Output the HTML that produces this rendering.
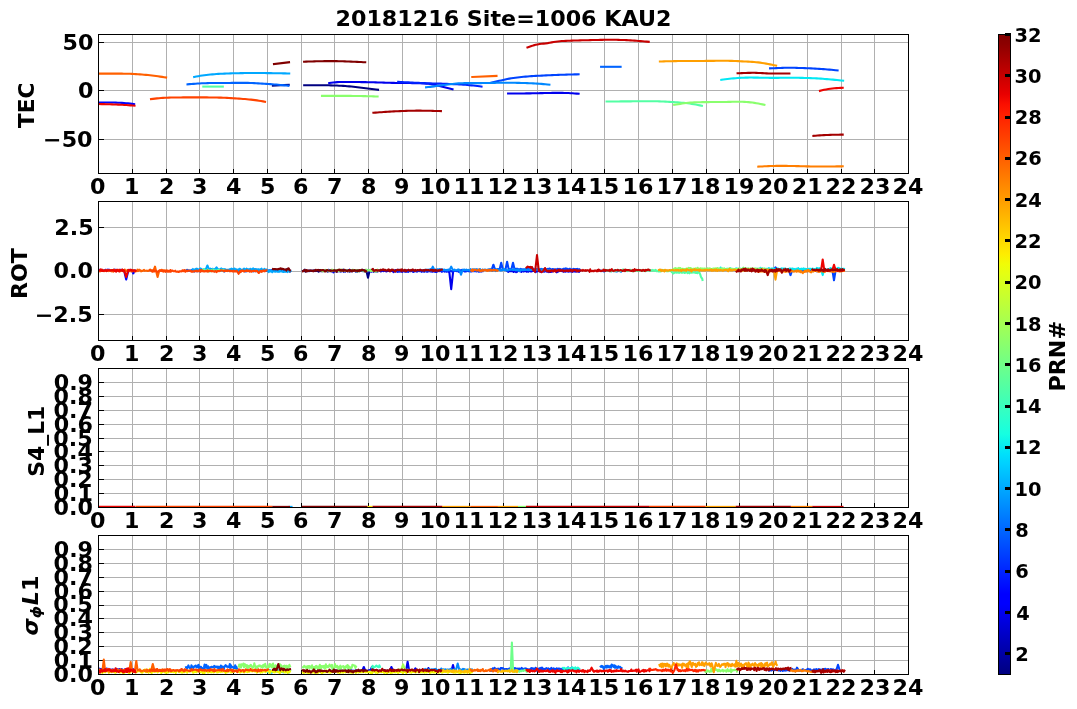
<!DOCTYPE html><html><head><meta charset="utf-8"><title>20181216 Site=1006 KAU2</title><style>html,body{margin:0;padding:0;background:#fff;overflow:hidden}</style></head><body><svg width="1077" height="709" viewBox="0 0 1077 709" style="display:block">
<defs>
<clipPath id="c0"><rect x="98" y="34" width="810" height="139"/></clipPath>
<clipPath id="c1"><rect x="98" y="201" width="810" height="139"/></clipPath>
<clipPath id="c2"><rect x="98" y="368" width="810" height="139"/></clipPath>
<clipPath id="c3"><rect x="98" y="535" width="810" height="139"/></clipPath>
<linearGradient id="jg" x1="0" y1="0" x2="0" y2="1"><stop offset="0.0000" stop-color="#800000"/><stop offset="0.0156" stop-color="#8d0000"/><stop offset="0.0312" stop-color="#9f0000"/><stop offset="0.0469" stop-color="#b20000"/><stop offset="0.0625" stop-color="#c40000"/><stop offset="0.0781" stop-color="#d60000"/><stop offset="0.0938" stop-color="#e80000"/><stop offset="0.1094" stop-color="#fa0f00"/><stop offset="0.1250" stop-color="#ff1e00"/><stop offset="0.1406" stop-color="#ff2d00"/><stop offset="0.1562" stop-color="#ff3b00"/><stop offset="0.1719" stop-color="#ff4a00"/><stop offset="0.1875" stop-color="#ff5900"/><stop offset="0.2031" stop-color="#ff6800"/><stop offset="0.2188" stop-color="#ff7700"/><stop offset="0.2344" stop-color="#ff8600"/><stop offset="0.2500" stop-color="#ff9400"/><stop offset="0.2656" stop-color="#ffa300"/><stop offset="0.2812" stop-color="#ffb200"/><stop offset="0.2969" stop-color="#ffc100"/><stop offset="0.3125" stop-color="#ffd000"/><stop offset="0.3281" stop-color="#ffde00"/><stop offset="0.3438" stop-color="#feed00"/><stop offset="0.3594" stop-color="#f1fc06"/><stop offset="0.3750" stop-color="#e4ff13"/><stop offset="0.3906" stop-color="#d7ff1f"/><stop offset="0.4062" stop-color="#caff2c"/><stop offset="0.4219" stop-color="#beff39"/><stop offset="0.4375" stop-color="#b1ff46"/><stop offset="0.4531" stop-color="#a4ff53"/><stop offset="0.4688" stop-color="#97ff60"/><stop offset="0.4844" stop-color="#8aff6d"/><stop offset="0.5000" stop-color="#7dff7a"/><stop offset="0.5156" stop-color="#70ff87"/><stop offset="0.5312" stop-color="#63ff94"/><stop offset="0.5469" stop-color="#56ffa0"/><stop offset="0.5625" stop-color="#49ffad"/><stop offset="0.5781" stop-color="#3cffba"/><stop offset="0.5938" stop-color="#30ffc7"/><stop offset="0.6094" stop-color="#23ffd4"/><stop offset="0.6250" stop-color="#16ffe1"/><stop offset="0.6406" stop-color="#09f0ee"/><stop offset="0.6562" stop-color="#00e0fb"/><stop offset="0.6719" stop-color="#00d0ff"/><stop offset="0.6875" stop-color="#00c0ff"/><stop offset="0.7031" stop-color="#00b0ff"/><stop offset="0.7188" stop-color="#00a0ff"/><stop offset="0.7344" stop-color="#0090ff"/><stop offset="0.7500" stop-color="#0080ff"/><stop offset="0.7656" stop-color="#0070ff"/><stop offset="0.7812" stop-color="#0060ff"/><stop offset="0.7969" stop-color="#0050ff"/><stop offset="0.8125" stop-color="#0040ff"/><stop offset="0.8281" stop-color="#0030ff"/><stop offset="0.8438" stop-color="#0020ff"/><stop offset="0.8594" stop-color="#0010ff"/><stop offset="0.8750" stop-color="#0000ff"/><stop offset="0.8906" stop-color="#0000ff"/><stop offset="0.9062" stop-color="#0000ed"/><stop offset="0.9219" stop-color="#0000da"/><stop offset="0.9375" stop-color="#0000c8"/><stop offset="0.9531" stop-color="#0000b6"/><stop offset="0.9688" stop-color="#0000a4"/><stop offset="0.9844" stop-color="#000092"/><stop offset="1.0000" stop-color="#000080"/></linearGradient>
</defs>
<rect width="1077" height="709" fill="#fff"/>
<path d="M132.5 34V174M166.5 34V174M199.5 34V174M233.5 34V174M267.5 34V174M301.5 34V174M334.5 34V174M368.5 34V174M402.5 34V174M436.5 34V174M469.5 34V174M503.5 34V174M537.5 34V174M571.5 34V174M604.5 34V174M638.5 34V174M672.5 34V174M706.5 34V174M739.5 34V174M773.5 34V174M807.5 34V174M841.5 34V174M874.5 34V174M98 139.5H909M98 90.5H909M98 42.5H909M132.5 201V341M166.5 201V341M199.5 201V341M233.5 201V341M267.5 201V341M301.5 201V341M334.5 201V341M368.5 201V341M402.5 201V341M436.5 201V341M469.5 201V341M503.5 201V341M537.5 201V341M571.5 201V341M604.5 201V341M638.5 201V341M672.5 201V341M706.5 201V341M739.5 201V341M773.5 201V341M807.5 201V341M841.5 201V341M874.5 201V341M98 314.5H909M98 271.5H909M98 227.5H909M132.5 368V508M166.5 368V508M199.5 368V508M233.5 368V508M267.5 368V508M301.5 368V508M334.5 368V508M368.5 368V508M402.5 368V508M436.5 368V508M469.5 368V508M503.5 368V508M537.5 368V508M571.5 368V508M604.5 368V508M638.5 368V508M672.5 368V508M706.5 368V508M739.5 368V508M773.5 368V508M807.5 368V508M841.5 368V508M874.5 368V508M98 507.5H909M98 493.5H909M98 479.5H909M98 465.5H909M98 451.5H909M98 438.5H909M98 424.5H909M98 410.5H909M98 396.5H909M98 382.5H909M132.5 535V675M166.5 535V675M199.5 535V675M233.5 535V675M267.5 535V675M301.5 535V675M334.5 535V675M368.5 535V675M402.5 535V675M436.5 535V675M469.5 535V675M503.5 535V675M537.5 535V675M571.5 535V675M604.5 535V675M638.5 535V675M672.5 535V675M706.5 535V675M739.5 535V675M773.5 535V675M807.5 535V675M841.5 535V675M874.5 535V675M98 674.5H909M98 660.5H909M98 646.5H909M98 632.5H909M98 618.5H909M98 605.5H909M98 591.5H909M98 577.5H909M98 563.5H909M98 549.5H909" stroke="#b0b0b0" stroke-width="1" fill="none" shape-rendering="crispEdges"/>
<path d="M132.5 173V169M166.5 173V169M199.5 173V169M233.5 173V169M267.5 173V169M301.5 173V169M334.5 173V169M368.5 173V169M402.5 173V169M436.5 173V169M469.5 173V169M503.5 173V169M537.5 173V169M571.5 173V169M604.5 173V169M638.5 173V169M672.5 173V169M706.5 173V169M739.5 173V169M773.5 173V169M807.5 173V169M841.5 173V169M874.5 173V169M98 139.5H104M98 90.5H104M98 42.5H104M132.5 340V336M166.5 340V336M199.5 340V336M233.5 340V336M267.5 340V336M301.5 340V336M334.5 340V336M368.5 340V336M402.5 340V336M436.5 340V336M469.5 340V336M503.5 340V336M537.5 340V336M571.5 340V336M604.5 340V336M638.5 340V336M672.5 340V336M706.5 340V336M739.5 340V336M773.5 340V336M807.5 340V336M841.5 340V336M874.5 340V336M98 314.5H104M98 271.5H104M98 227.5H104M132.5 507V503M166.5 507V503M199.5 507V503M233.5 507V503M267.5 507V503M301.5 507V503M334.5 507V503M368.5 507V503M402.5 507V503M436.5 507V503M469.5 507V503M503.5 507V503M537.5 507V503M571.5 507V503M604.5 507V503M638.5 507V503M672.5 507V503M706.5 507V503M739.5 507V503M773.5 507V503M807.5 507V503M841.5 507V503M874.5 507V503M98 507.5H104M98 493.5H104M98 479.5H104M98 465.5H104M98 451.5H104M98 438.5H104M98 424.5H104M98 410.5H104M98 396.5H104M98 382.5H104M132.5 674V670M166.5 674V670M199.5 674V670M233.5 674V670M267.5 674V670M301.5 674V670M334.5 674V670M368.5 674V670M402.5 674V670M436.5 674V670M469.5 674V670M503.5 674V670M537.5 674V670M571.5 674V670M604.5 674V670M638.5 674V670M672.5 674V670M706.5 674V670M739.5 674V670M773.5 674V670M807.5 674V670M841.5 674V670M874.5 674V670M98 674.5H104M98 660.5H104M98 646.5H104M98 632.5H104M98 618.5H104M98 605.5H104M98 591.5H104M98 577.5H104M98 563.5H104M98 549.5H104" stroke="#000" stroke-width="1" fill="none" shape-rendering="crispEdges"/>
<g clip-path="url(#c0)" fill="none" stroke-width="2.0833" stroke-linecap="square" stroke-linejoin="round">
<path d="M272.9 85.55 288.7 84.75" stroke="#000080"/>
<path d="M304.2 85.21 306.25 85.2 308.3 85.19 310.35 85.18 312.4 85.18 314.45 85.18 316.5 85.18 318.55 85.19 320.6 85.2 322.65 85.22 324.7 85.24 326.75 85.28 328.8 85.32 330.85 85.37 332.9 85.42 334.95 85.49 337 85.57 339.05 85.67 341.1 85.77 343.15 85.9 345.2 86.03 347.25 86.19 349.3 86.36 351.35 86.55 353.41 86.75 355.46 86.97 357.51 87.2 359.56 87.45 361.61 87.7 363.66 87.96 365.71 88.23 367.76 88.5 369.81 88.76 371.86 89.02 373.91 89.28 375.96 89.53 378.01 89.78" stroke="#000080"/>
<path d="M329.19 83.08 331.22 82.81 333.24 82.56 335.26 82.34 337.28 82.16 339.3 82.05 341.32 81.97 343.35 81.94 345.37 81.94 347.39 81.96 349.41 81.98 351.43 82.01 353.46 82.03 355.48 82.05 357.5 82.06 359.52 82.08 361.54 82.1 363.57 82.12 365.59 82.14 367.61 82.17 369.63 82.21 371.65 82.25 373.68 82.31 375.7 82.36 377.72 82.43 379.74 82.49 381.76 82.56 383.79 82.62 385.81 82.68 387.83 82.74 389.85 82.8 391.87 82.84 393.9 82.88 395.92 82.92 397.94 82.95 399.96 82.97 401.98 83 404 83.02 406.03 83.04 408.05 83.06 410.07 83.08 412.09 83.1 414.11 83.12 416.14 83.15 418.16 83.2 420.18 83.26 422.2 83.35 424.22 83.47 426.25 83.63 428.27 83.83 430.29 84.08 432.31 84.38 434.33 84.75 436.36 85.17 438.38 85.65 440.4 86.17 442.42 86.71 444.44 87.26 446.47 87.8 448.49 88.33 450.51 88.84 452.53 89.35" stroke="#0000ed"/>
<path d="M508.1 93.49 510.11 93.49 512.13 93.49 514.14 93.48 516.16 93.47 518.17 93.47 520.19 93.45 522.2 93.44 524.21 93.42 526.23 93.4 528.24 93.37 530.26 93.34 532.27 93.3 534.29 93.26 536.3 93.22 538.32 93.18 540.33 93.13 542.34 93.09 544.36 93.04 546.37 93 548.39 92.96 550.4 92.92 552.42 92.88 554.43 92.86 556.44 92.84 558.46 92.84 560.47 92.85 562.49 92.88 564.5 92.93 566.52 92.99 568.53 93.08 570.54 93.19 572.56 93.31 574.57 93.45 576.59 93.59 578.6 93.74" stroke="#0000ed"/>
<path d="M99.7 102.5 101.72 102.49 103.75 102.48 105.77 102.48 107.8 102.48 109.82 102.5 111.84 102.53 113.87 102.57 115.89 102.63 117.92 102.7 119.94 102.8 121.96 102.91 123.99 103.05 126.01 103.22 128.03 103.4 130.06 103.62 132.08 103.85 134.11 104.09" stroke="#0004ff"/>
<path d="M398.2 81.85 400.23 81.96 402.26 82.07 404.29 82.18 406.33 82.29 408.36 82.4 410.39 82.51 412.42 82.61 414.45 82.71 416.49 82.8 418.52 82.9 420.55 82.98 422.58 83.07 424.61 83.15 426.65 83.22 428.68 83.29 430.71 83.35 432.74 83.42 434.77 83.48 436.81 83.54 438.84 83.6 440.87 83.66 442.9 83.73 444.93 83.8 446.96 83.87 449 83.94 451.03 84.03 453.06 84.11 455.09 84.21 457.12 84.31 459.16 84.42 461.19 84.55 463.22 84.68 465.25 84.83 467.28 84.99 469.32 85.17 471.35 85.36 473.38 85.58 475.41 85.81 477.44 86.06 479.48 86.31 481.51 86.58" stroke="#0024ff"/>
<path d="M490.96 82.73 493 82.16 495.04 81.66 497.08 81.24 499.12 80.85 501.15 80.45 503.19 80.01 505.23 79.54 507.27 79.07 509.31 78.64 511.34 78.26 513.38 77.95 515.42 77.69 517.46 77.45 519.5 77.22 521.53 77.01 523.57 76.81 525.61 76.62 527.65 76.46 529.69 76.3 531.72 76.16 533.76 76.03 535.8 75.91 537.84 75.8 539.88 75.7 541.92 75.6 543.95 75.51 545.99 75.41 548.03 75.32 550.07 75.23 552.11 75.14 554.14 75.06 556.18 74.97 558.22 74.89 560.26 74.81 562.3 74.74 564.33 74.67 566.37 74.61 568.41 74.55 570.45 74.5 572.49 74.45 574.52 74.41 576.56 74.36 578.6 74.32" stroke="#0044ff"/>
<path d="M770.1 68.36 772.14 68.27 774.19 68.18 776.24 68.09 778.28 68 780.33 67.93 782.37 67.87 784.42 67.82 786.46 67.79 788.51 67.78 790.56 67.78 792.6 67.8 794.65 67.83 796.69 67.87 798.74 67.93 800.78 67.99 802.83 68.06 804.87 68.14 806.92 68.23 808.97 68.32 811.01 68.41 813.06 68.51 815.1 68.62 817.15 68.73 819.19 68.86 821.24 68.99 823.29 69.14 825.33 69.29 827.38 69.46 829.42 69.63 831.47 69.82 833.51 70.01 835.56 70.21 837.6 70.41" stroke="#0044ff"/>
<path d="M187.5 84.33 189.52 84.16 191.53 84 193.55 83.85 195.57 83.7 197.59 83.56 199.61 83.44 201.62 83.33 203.64 83.24 205.66 83.17 207.68 83.1 209.7 83.05 211.72 83.01 213.73 82.98 215.75 82.96 217.77 82.95 219.79 82.94 221.81 82.93 223.82 82.93 225.84 82.92 227.86 82.92 229.88 82.92 231.9 82.91 233.92 82.89 235.93 82.88 237.95 82.86 239.97 82.85 241.99 82.84 244.01 82.84 246.02 82.86 248.04 82.89 250.06 82.95 252.08 83.02 254.1 83.11 256.11 83.22 258.13 83.34 260.15 83.46 262.17 83.59 264.19 83.73 266.21 83.87 268.22 84 270.24 84.14 272.26 84.28 274.28 84.42 276.3 84.58 278.31 84.75 280.33 84.93 282.35 85.13 284.37 85.35 286.39 85.57 288.41 85.79" stroke="#0064ff"/>
<path d="M601.1 66.8 620.6 66.8" stroke="#0064ff"/>
<path d="M426.09 87.28 428.11 87.06 430.14 86.84 432.16 86.6 434.18 86.35 436.2 86.09 438.22 85.81 440.24 85.53 442.27 85.24 444.29 84.96 446.31 84.68 448.33 84.41 450.35 84.15 452.37 83.92 454.39 83.71 456.42 83.54 458.44 83.4 460.46 83.29 462.48 83.21 464.5 83.15 466.52 83.12 468.54 83.1 470.57 83.1 472.59 83.1 474.61 83.1 476.63 83.1 478.65 83.1 480.67 83.09 482.7 83.07 484.72 83.04 486.74 83 488.76 82.96 490.78 82.92 492.8 82.88 494.82 82.84 496.85 82.8 498.87 82.76 500.89 82.73 502.91 82.71 504.93 82.7 506.95 82.7 508.97 82.71 511 82.73 513.02 82.76 515.04 82.8 517.06 82.84 519.08 82.89 521.1 82.95 523.13 83.01 525.15 83.08 527.17 83.14 529.19 83.21 531.21 83.29 533.23 83.38 535.25 83.49 537.28 83.61 539.3 83.75 541.32 83.91 543.34 84.09 545.36 84.29 547.38 84.49 549.4 84.7" stroke="#0088ff"/>
<path d="M194.18 76.92 196.21 76.53 198.23 76.16 200.25 75.81 202.27 75.49 204.29 75.21 206.31 74.95 208.34 74.73 210.36 74.53 212.38 74.35 214.4 74.19 216.42 74.04 218.44 73.91 220.46 73.8 222.49 73.69 224.51 73.6 226.53 73.51 228.55 73.44 230.57 73.37 232.59 73.31 234.62 73.26 236.64 73.21 238.66 73.17 240.68 73.13 242.7 73.1 244.72 73.08 246.75 73.06 248.77 73.04 250.79 73.03 252.81 73.03 254.83 73.03 256.85 73.03 258.88 73.04 260.9 73.05 262.92 73.06 264.94 73.08 266.96 73.1 268.98 73.13 271.01 73.15 273.03 73.18 275.05 73.22 277.07 73.25 279.09 73.29 281.11 73.32 283.14 73.36 285.16 73.4 287.18 73.44 289.2 73.48" stroke="#00a8ff"/>
<path d="M721.29 79.79 723.32 79.53 725.35 79.27 727.38 79.02 729.41 78.78 731.44 78.56 733.47 78.35 735.51 78.17 737.54 78 739.57 77.87 741.6 77.77 743.63 77.69 745.66 77.63 747.69 77.59 749.72 77.57 751.75 77.57 753.78 77.59 755.81 77.61 757.84 77.65 759.87 77.69 761.9 77.73 763.93 77.78 765.96 77.81 767.99 77.83 770.02 77.85 772.05 77.85 774.08 77.85 776.11 77.85 778.14 77.84 780.17 77.83 782.2 77.82 784.23 77.81 786.26 77.8 788.29 77.79 790.32 77.79 792.35 77.79 794.38 77.8 796.41 77.81 798.44 77.83 800.47 77.86 802.5 77.9 804.53 77.94 806.56 77.99 808.59 78.05 810.62 78.13 812.65 78.21 814.68 78.3 816.71 78.41 818.74 78.53 820.77 78.66 822.8 78.81 824.83 78.96 826.86 79.12 828.89 79.29 830.92 79.47 832.95 79.65 834.98 79.84 837.01 80.03 839.04 80.22 841.07 80.42 843.1 80.62" stroke="#02e8f4"/>
<path d="M203.3 86.6 222.8 86.6" stroke="#53ffa4"/>
<path d="M606.6 101.49 608.63 101.48 610.66 101.47 612.68 101.46 614.71 101.45 616.74 101.44 618.77 101.43 620.8 101.41 622.82 101.4 624.85 101.39 626.88 101.37 628.91 101.36 630.94 101.34 632.96 101.32 634.99 101.3 637.02 101.28 639.05 101.26 641.08 101.25 643.11 101.23 645.13 101.22 647.16 101.22 649.19 101.22 651.22 101.23 653.25 101.25 655.27 101.29 657.3 101.33 659.33 101.39 661.36 101.47 663.39 101.55 665.41 101.65 667.44 101.75 669.47 101.86 671.5 101.99 673.53 102.11 675.55 102.25 677.58 102.39 679.61 102.54 681.64 102.7 683.67 102.88 685.69 103.07 687.72 103.3 689.75 103.56 691.78 103.85 693.81 104.19 695.83 104.56 697.86 104.96 699.89 105.38 701.92 105.81" stroke="#53ffa4"/>
<path d="M322 95.9 324.06 95.89 326.12 95.88 328.18 95.87 330.24 95.86 332.3 95.85 334.36 95.84 336.41 95.84 338.47 95.84 340.53 95.84 342.59 95.84 344.65 95.85 346.71 95.86 348.77 95.88 350.83 95.9 352.89 95.93 354.95 95.96 357.01 95.99 359.07 96.03 361.13 96.07 363.19 96.12 365.24 96.16 367.3 96.21 369.36 96.26 371.42 96.32 373.48 96.37 375.54 96.42 377.6 96.48" stroke="#8aff6d"/>
<path d="M674.19 104.85 676.19 104.51 678.2 104.18 680.2 103.86 682.21 103.55 684.21 103.28 686.22 103.03 688.22 102.82 690.23 102.65 692.23 102.51 694.24 102.39 696.25 102.3 698.25 102.24 700.26 102.19 702.26 102.15 704.27 102.12 706.27 102.11 708.28 102.09 710.28 102.08 712.29 102.06 714.29 102.05 716.3 102.04 718.3 102.02 720.31 102 722.31 101.98 724.32 101.95 726.32 101.92 728.33 101.88 730.33 101.84 732.34 101.8 734.34 101.76 736.35 101.74 738.35 101.73 740.36 101.74 742.36 101.79 744.37 101.87 746.37 101.98 748.38 102.14 750.38 102.34 752.39 102.59 754.39 102.87 756.4 103.2 758.4 103.57 760.41 103.97 762.41 104.38 764.42 104.81" stroke="#8aff6d"/>
<path d="M659.9 61.48 661.9 61.42 663.91 61.37 665.91 61.32 667.91 61.27 669.92 61.22 671.92 61.18 673.93 61.14 675.93 61.11 677.93 61.08 679.94 61.05 681.94 61.03 683.94 61.01 685.95 61 687.95 60.99 689.96 60.98 691.96 60.97 693.96 60.96 695.97 60.95 697.97 60.95 699.97 60.94 701.98 60.93 703.98 60.92 705.99 60.91 707.99 60.89 709.99 60.87 712 60.86 714 60.84 716 60.82 718.01 60.81 720.01 60.8 722.01 60.79 724.02 60.79 726.02 60.81 728.03 60.83 730.03 60.86 732.03 60.9 734.04 60.96 736.04 61.03 738.04 61.12 740.05 61.22 742.05 61.34 744.06 61.45 746.06 61.55 748.06 61.65 750.07 61.76 752.07 61.87 754.07 62.01 756.08 62.18 758.08 62.39 760.09 62.64 762.09 62.93 764.09 63.25 766.1 63.6 768.1 63.98 770.1 64.37 772.11 64.78 774.11 65.2 776.12 65.63" stroke="#ff9f00"/>
<path d="M758.3 166.66 760.31 166.55 762.32 166.44 764.33 166.33 766.34 166.23 768.35 166.14 770.36 166.06 772.37 165.99 774.38 165.93 776.38 165.89 778.39 165.86 780.4 165.85 782.41 165.86 784.42 165.87 786.43 165.9 788.44 165.93 790.45 165.97 792.46 166.01 794.47 166.06 796.48 166.11 798.49 166.16 800.5 166.21 802.51 166.26 804.52 166.3 806.53 166.35 808.54 166.39 810.55 166.42 812.56 166.46 814.57 166.48 816.58 166.5 818.59 166.51 820.6 166.52 822.6 166.52 824.61 166.51 826.62 166.5 828.63 166.49 830.64 166.47 832.65 166.45 834.66 166.42 836.67 166.4 838.68 166.37 840.69 166.34 842.7 166.31" stroke="#ff7e00"/>
<path d="M99.7 73.6 101.71 73.6 103.72 73.59 105.74 73.59 107.75 73.59 109.76 73.59 111.77 73.59 113.79 73.6 115.8 73.6 117.81 73.61 119.82 73.63 121.84 73.64 123.85 73.67 125.86 73.71 127.87 73.76 129.89 73.82 131.9 73.9 133.91 73.99 135.92 74.1 137.94 74.22 139.95 74.36 141.96 74.52 143.97 74.69 145.99 74.88 148 75.08 150.01 75.3 152.02 75.54 154.03 75.79 156.05 76.05 158.06 76.32 160.07 76.6 162.08 76.89 164.1 77.18 166.11 77.47" stroke="#ff6000"/>
<path d="M472.3 76.96 496.5 75.94" stroke="#ff6000"/>
<path d="M150.99 99.09 152.99 98.85 154.99 98.61 156.99 98.4 159 98.21 161 98.05 163 97.91 165 97.79 167 97.7 169 97.62 171 97.56 173 97.51 175 97.48 177 97.45 179 97.43 181 97.42 183 97.41 185 97.4 187 97.39 189 97.39 191 97.38 193 97.38 195 97.38 197 97.38 199 97.38 201 97.39 203 97.39 205 97.4 207 97.41 209 97.43 211 97.45 213 97.47 215 97.51 217.01 97.55 219.01 97.59 221.01 97.65 223.01 97.72 225.01 97.8 227.01 97.89 229.01 98 231.01 98.11 233.01 98.23 235.01 98.36 237.01 98.49 239.01 98.63 241.01 98.77 243.01 98.92 245.01 99.07 247.01 99.24 249.01 99.42 251.01 99.63 253.01 99.85 255.01 100.11 257.01 100.39 259.01 100.7 261.01 101.04 263.01 101.38 265.01 101.74" stroke="#ff4300"/>
<path d="M99.7 104.03 101.75 104.09 103.79 104.14 105.84 104.2 107.89 104.26 109.94 104.33 111.98 104.39 114.03 104.47 116.08 104.55 118.12 104.64 120.17 104.73 122.22 104.83 124.27 104.95 126.31 105.07 128.36 105.2 130.41 105.34 132.46 105.48 134.5 105.63" stroke="#ed0400"/>
<path d="M819.97 90.87 822.04 90.35 824.11 89.86 826.17 89.41 828.24 89.02 830.3 88.7 832.37 88.44 834.44 88.24 836.5 88.09 838.57 87.99 840.63 87.91 842.7 87.85" stroke="#ed0400"/>
<path d="M527.45 47.49 529.47 46.75 531.49 46.03 533.51 45.38 535.54 44.83 537.56 44.41 539.58 44.09 541.6 43.84 543.62 43.62 545.64 43.39 547.66 43.1 549.68 42.76 551.7 42.4 553.72 42.04 555.74 41.71 557.76 41.44 559.79 41.23 561.81 41.06 563.83 40.94 565.85 40.84 567.87 40.75 569.89 40.67 571.91 40.6 573.93 40.54 575.95 40.48 577.97 40.43 579.99 40.38 582.02 40.33 584.04 40.28 586.06 40.23 588.08 40.18 590.1 40.13 592.12 40.07 594.14 40.02 596.16 39.97 598.18 39.93 600.2 39.88 602.22 39.85 604.24 39.81 606.27 39.79 608.29 39.77 610.31 39.77 612.33 39.77 614.35 39.79 616.37 39.82 618.39 39.87 620.41 39.92 622.43 39.99 624.45 40.07 626.47 40.16 628.5 40.26 630.52 40.37 632.54 40.5 634.56 40.63 636.58 40.77 638.6 40.93 640.62 41.09 642.64 41.26 644.66 41.44 646.68 41.63 648.7 41.81" stroke="#c80000"/>
<path d="M373.4 112.74 375.44 112.59 377.49 112.45 379.53 112.31 381.58 112.18 383.63 112.04 385.67 111.91 387.72 111.78 389.76 111.65 391.81 111.53 393.85 111.41 395.9 111.3 397.94 111.19 399.99 111.1 402.04 111.01 404.08 110.92 406.13 110.85 408.17 110.79 410.22 110.74 412.26 110.7 414.31 110.67 416.35 110.66 418.4 110.66 420.44 110.66 422.49 110.68 424.54 110.7 426.58 110.73 428.63 110.77 430.67 110.82 432.72 110.87 434.76 110.92 436.81 110.97 438.85 111.03 440.9 111.09" stroke="#a40000"/>
<path d="M737.6 73.28 739.67 73.19 741.74 73.09 743.82 73.01 745.89 72.94 747.96 72.88 750.03 72.84 752.1 72.82 754.18 72.83 756.25 72.87 758.32 72.94 760.39 73.04 762.46 73.15 764.54 73.26 766.61 73.35 768.68 73.43 770.75 73.49 772.82 73.53 774.9 73.56 776.97 73.57 779.04 73.57 781.11 73.57 783.18 73.56 785.26 73.54 787.33 73.52 789.4 73.49" stroke="#a40000"/>
<path d="M813.4 135.84 815.49 135.69 817.58 135.54 819.68 135.4 821.77 135.27 823.86 135.14 825.96 135.03 828.05 134.94 830.14 134.87 832.24 134.81 834.33 134.76 836.42 134.71 838.51 134.68 840.61 134.65 842.7 134.62" stroke="#a40000"/>
<path d="M273.99 63.98 289.01 62.22" stroke="#800000"/>
<path d="M304.1 61.67 306.14 61.61 308.17 61.55 310.21 61.49 312.25 61.43 314.28 61.37 316.32 61.32 318.36 61.27 320.39 61.22 322.43 61.17 324.47 61.14 326.5 61.11 328.54 61.09 330.58 61.09 332.61 61.09 334.65 61.12 336.69 61.15 338.72 61.2 340.76 61.26 342.8 61.32 344.83 61.39 346.87 61.47 348.91 61.55 350.94 61.64 352.98 61.72 355.02 61.81 357.05 61.9 359.09 61.98 361.13 62.08 363.16 62.17 365.2 62.26" stroke="#800000"/>
</g>
<g clip-path="url(#c1)" fill="none" stroke-width="2.0833" stroke-linecap="square" stroke-linejoin="round">
<path d="M272 270.66 272.6 270.87 273.2 270.65 273.8 269.91 274.4 270.91 275 270.7 275.6 270.26 276.2 270.76 276.8 270.66 277.4 270.63 278 270.51 278.6 270.75 279.2 270.17 279.8 270.43 280.4 270.28 281 270.77 281.6 270.52 282.2 270.37 282.8 270.15 283.4 270.38 284 270.5 284.6 270.38 285.2 271.08 285.8 270.95 286.4 269.28 287 269.65 287.6 270.42 288.2 270.31 288.8 270.6 289.4 270.6 290 271.45" stroke="#000080"/>
<path d="M303 270.89 303.6 270.56 304.21 270.61 304.81 269.7 305.41 271.61 306.02 271.31 306.62 270.65 307.22 271.15 307.83 270.93 308.43 270.55 309.03 271.24 309.63 270.66 310.24 270.65 310.84 270.44 311.44 271 312.05 270.76 312.65 271.05 313.25 270.53 313.86 270.86 314.46 270.4 315.06 271.18 315.67 270.88 316.27 270.95 316.87 270.98 317.48 270.35 318.08 271.15 318.68 271.73 319.29 270.06 319.89 270.02 320.49 270.12 321.1 271.18 321.7 270.86 322.3 271.29 322.9 271.13 323.51 270.89 324.11 270.93 324.71 270.72 325.32 271.19 325.92 270.29 326.52 270.61 327.13 270.91 327.73 271.61 328.33 270.46 328.94 270.31 329.54 270.55 330.14 271.24 330.75 270.69 331.35 271.4 331.95 269.96 332.56 271.31 333.16 271.27 333.76 270.16 334.37 270.87 334.97 271.35 335.57 270.84 336.17 271.25 336.78 271.87 337.38 270.92 337.98 270.67 338.59 270.45 339.19 271.09 339.79 270.71 340.4 270.72 341 270.75 341.6 271.09 342.21 270.32 342.81 270.11 343.41 269.7 344.02 271.34 344.62 270.83 345.22 271.48 345.83 270.8 346.43 270.47 347.03 271.02 347.63 270.77 348.24 270.24 348.84 270.4 349.44 271.6 350.05 270.96 350.65 270.99 351.25 270.68 351.86 270.49 352.46 271.2 353.06 270.75 353.67 270.46 354.27 270.74 354.87 270.39 355.48 270.89 356.08 271.31 356.68 270.42 357.29 271.44 357.89 270.5 358.49 270.87 359.1 270.42 359.7 270.7 360.3 270.82 360.9 270.6 361.51 270.48 362.11 270.49 362.71 270.43 363.32 270.09 363.92 270.68 364.52 270.98 365.13 271.21 365.73 271.09 366.33 271.91 366.4 270.8 368 277.7 369.6 270.8 369.95 270.37 370.56 270.96 371.16 269.91 371.76 271.2 372.37 270.73 372.97 270.36 373.57 271.56 374.17 271.14 374.78 270.82 375.38 270.46 375.98 270.78 376.59 270.73 377.19 271.13 377.79 271.16 378.4 270.5 379 270.55" stroke="#000080"/>
<path d="M328.28 270.86 328.6 269.75 329.2 271.09 329.8 270.64 330.4 270.7 331 270.8 331.6 269.99 332.2 270.8 332.8 270.51 333.4 272.4 334 271 334.61 270.74 335.21 270.77 335.81 270.6 336.41 270.43 337.01 270.72 337.61 271.12 338.21 270.79 338.81 271.33 339.41 270.81 340.01 270.91 340.61 271.6 341.21 271.15 341.81 270.67 342.41 270.82 343.01 271.14 343.61 271.77 344.21 270.78 344.81 270.79 345.41 271.35 346.01 270.5 346.61 270.77 347.22 271.3 347.82 271.16 348.42 270.94 349.02 271.2 349.62 269.63 350.22 271.36 350.82 270.47 351.42 270.15 352.02 271.02 352.62 271.22 353.22 270.7 353.82 270.42 354.42 270.91 355.02 270.88 355.62 271.53 356.22 271.24 356.82 270.99 357.42 271.4 358.02 270.81 358.62 270.48 359.22 271.16 359.83 271.16 360.43 270.8 361.03 270.55 361.63 271 362.23 269.78 362.83 271.21 363.43 271.12 364.03 270.16 364.63 270.93 365.23 270.47 365.83 271.24 366.43 269.98 367.03 270.49 367.63 271.22 368.23 271.42 368.83 269.93 369.43 270.68 370.03 271.05 370.63 270.63 371.23 271.62 371.83 270.36 372.44 271.06 373.04 270.43 373.64 271.53 374.24 270.89 374.84 270.73 375.44 270.13 376.04 271.66 376.64 271.24 377.24 271.24 377.84 271.41 378.44 271.06 379.04 270.61 379.64 270.54 380.24 270.54 380.84 271.52 381.44 270.24 382.04 270.63 382.64 270.76 383.24 271 383.84 271.16 384.44 270.34 385.05 270.12 385.65 270.9 386.25 271.45 386.85 271.24 387.45 271 388.05 270.76 388.65 271.03 389.25 270.79 389.85 271.27 390.45 270.54 391.05 270.96 391.65 270.85 392.25 271.14 392.85 271 393.45 272.05 394.05 271.57 394.65 271.57 395.25 269.98 395.85 270.75 396.45 270.63 397.06 271.14 397.66 269.87 398.26 271.43 398.86 271.38 399.46 270.31 400.06 270.46 400.66 270.54 401.26 270.92 401.86 271.19 402.46 271.82 403.06 270.81 403.66 271.25 404.26 270.97 404.86 271.69 405.46 271.23 406.06 271.52 406.66 270.42 407.26 270.81 407.86 270.53 408.46 271.58 409.06 271.2 409.67 270.76 410.27 270.7 410.87 271.12 411.47 270.58 412.07 270.48 412.67 271.12 413.27 272.01 413.87 270.79 414.47 270.65 415.07 270.37 415.67 270.3 416.27 271.14 416.87 271.28 417.47 270.9 418.07 271.05 418.67 270.95 419.27 270.96 419.87 270.21 420.47 270.69 421.07 270.95 421.67 270.55 422.28 270.69 422.88 270.53 423.48 270.75 424.08 271.28 424.68 270.72 425.28 270.83 425.88 271.27 426.48 271.19 427.08 271.66 427.68 269.96 428.28 271.29 428.88 270.68 429.48 270.96 430.08 271.28 430.68 271.39 431.28 271.37 431.88 270.97 432.48 271.62 433.08 270.77 433.68 270.84 434.28 271.26 434.89 270.65 435.49 271.87 436.09 271.36 436.69 271.88 437.29 270.89 437.89 270.73 438.49 270.98 439.09 271.23 439.69 270.64 440.29 271.07 440.89 270.89 441.49 271.63 442.09 270.6 442.69 271.37 443.29 270.61 443.89 270.47 444.49 270.58 445.09 270.36 445.69 270.97 446.29 271.36 446.89 270.97 447.5 271.18 448.1 271.63 448.7 271.02 449.2 270.9 451.2 289.1 453.2 270.9 453.5 271.41" stroke="#0000ed"/>
<path d="M507 270.91 507.6 271.12 508.2 271.95 508.8 271.5 509.4 270.46 510 271.2 510.6 270.92 511.2 271.27 511.8 270.48 512.4 271.31 513 271.31 513.6 271.91 514.2 271.34 514.8 271.43 515.4 270.53 516 272.21 516.6 270.34 517.2 271.7 517.8 271.05 518.4 270.8 519 270.9 519.6 270.9 520.2 271.37 520.8 271.15 521.4 271.87 522 270.38 522.6 271.2 523.2 270.8 523.8 271.55 524.4 270.25 525 271.05 525.6 271.29 526.2 270.53 526.8 271.64 527.4 271.28 528 271.65 528.6 271.63 529.2 270.76 529.8 270.84 530.4 271.11 531 271.54 531.6 271.58 532.2 270.88 532.8 270.93 533.4 270.84 534 270.94 534.6 271.09 535.2 271.14 535.8 272.13 536.4 270.97 537 271.07 537.6 271.41 538.2 270.77 538.8 271.03 539.4 271.21 540 271.55 540.6 270.61 541.2 271.82 541.8 271.04 542.4 271.28 543 271.58 543.6 271.5 544.2 271.68 544.8 271.28 545.4 271.19 546 271.34 546.6 270.75 547.2 271.75 547.8 270.85 548.4 270.63 549 272.13 549.6 271.14 550.2 270.67 550.8 272.03 551.4 271.05 552 271.68 552.6 270.83 553.2 271.09 553.8 270.44 554.4 270.34 555 270.76 555.6 271.16 556.2 271.56 556.8 272.29 557.4 270.74 558 271.65 558.6 270.93 559.2 271.13 559.8 270.53 560.4 270.53 561 270.85 561.6 270.66 562.2 271.2 562.8 270.88 563.4 271.76 564 271.27 564.6 271.27 565.2 271.71 565.8 271.43 566.4 271.18 567 271.16 567.6 271.15 568.2 271.68 568.8 271.55 569.4 271.36 570 271.56 570.6 270.95 571.2 271.43 571.8 270.56 572.4 271.81 573 271.24 573.6 271.28 574.2 271.47 574.8 271.2 575.4 271.09 576 271.74 576.6 271.25 577.2 270.79 577.8 271.4 578.4 270.43 579 271.94 579.6 271.12" stroke="#0000ed"/>
<path d="M98.7 269.94 99.31 269.7 99.91 270.19 100.52 270.49 101.13 270.81 101.73 270.35 102.34 270.05 102.95 269.95 103.55 270.64 104.16 271.04 104.77 270.42 105.37 269.75 105.98 269.87 106.59 271.02 107.19 270.39 107.8 269.52 108.41 270.26 109.01 269.78 109.62 270.02 110.23 270.08 110.83 269.98 111.44 270.55 112.05 270.27 112.65 270.03 113.26 270.48 113.87 270.67 114.47 269.56 115.08 270.18 115.69 269.86 116.29 270.22 116.9 269.72 117.51 270.31 118.11 270.28 118.72 270.16 119.33 269.83 119.93 270.12 120.54 269.81 121.15 269.69 121.75 270.4 122.36 269.8 122.97 270.83 123.57 270.62 124 270.3 126.2 279.6 128.4 270.3 128.43 270.18 129.03 270.73 129.64 269.77 130.25 270.63 130.85 269.81 131.46 270.15 131.7 270.3 133.3 273.4 134.9 270.3 135.1 270.68" stroke="#0004ff"/>
<path d="M397 271.47 397.6 271.8 398.2 269.85 398.81 270.94 399.41 271.46 400.01 271.61 400.61 271.29 401.21 271.67 401.82 271.13 402.42 271.25 403.02 271.08 403.62 270.52 404.23 270.62 404.83 271.17 405.43 270.74 406.03 271.57 406.63 271.58 407.24 271.81 407.84 270.99 408.44 271.62 409.04 270.59 409.64 270.63 410.25 271.04 410.85 271.13 411.45 270.28 412.05 270.22 412.65 271.16 413.26 270.61 413.86 271.54 414.46 271.18 415.06 271.14 415.67 271.09 416.27 271.4 416.87 270.93 417.47 271.49 418.07 270.76 418.68 270.9 419.28 270.69 419.88 271.27 420.48 271.02 421.08 270.61 421.69 271.9 422.29 270.84 422.89 270.95 423.49 271.18 424.1 271.79 424.7 270.93 425.3 271.32 425.9 271.04 426.5 270.34 427.11 271.36 427.71 271.46 428.31 270.89 428.91 270.99 429.51 270.32 430.12 270.31 430.72 270.82 431.32 271.28 431.92 270.79 432.52 271.13 433.13 271.44 433.73 271.04 434.33 271.26 434.93 271.65 435.54 270.44 436.14 271.33 436.74 270.15 437.34 271.19 437.94 271.09 438.55 270.76 439.15 270.52 439.75 270.97 440.35 270.82 440.95 271.04 441.56 270.59 442.16 271.25 442.76 270.53 443.36 270.86 443.96 270.82 444.57 271.57 445.17 270.33 445.77 270.81 446.37 271.53 446.98 270.7 447.58 270.44 448.18 271.13 448.78 270.87 449.38 271.38 449.99 270.59 450.59 271.09 451.19 271.3 451.79 271.47 452.39 270.5 453 271.64 453.6 270.59 454.2 270.32 454.8 270.57 455.4 271.07 456.01 270.86 456.61 271.2 457.21 271.22 457.81 271.14 458.42 270.89 459.02 271.82 459.62 270 460.22 270.22 460.82 270.77 461.43 270.44 462.03 269.85 462.63 270.64 463.23 270.66 463.83 269.9 464.44 271.39 465.04 271.58 465.64 271.56 466.24 270.77 466.85 271.07 467.45 270.5 468.05 271.09 468.65 270.7 469.25 271.18 469.86 270.85 470.46 271.47 471.06 271.37 471.66 271.56 472.26 270.28 472.87 270.18 473.47 271.18 474.07 270.74 474.67 271.18 475.27 271.13 475.88 271.08 476.48 271.41 477.08 271.25 477.68 271.21 478.29 270.6 478.89 271.78 479.49 271.06 480.09 271.5 480.69 271.15 481.3 271.57 481.9 271.07 482.5 271.1" stroke="#0024ff"/>
<path d="M490 269.4 490.6 269.53 491.2 269.28 491.8 269.4 493.4 264.7 495 269.4 495.41 269.12 496.01 269.62 496.61 269.56 497.22 269.45 497.82 268.98 498.42 269.39 499.02 269.71 499.6 269.4 501.2 262.7 502.8 269.4 503.23 268.83 503.83 269.52 504.43 269.47 505.03 269.32 505.5 269.4 507.1 261.8 508.7 269.4 509.24 268.96 509.84 269.04 510.45 269.88 511.05 269.04 511.4 269.4 513 262.7 514.6 269.4 514.66 269.43 515.26 268.85 515.86 269.43 516.46 270.01 517.06 268.7 517.66 269.79 518.26 269.45 518.86 269.11 519.47 270.3 520.07 269.74 520.67 268.86 521.27 269.43 521.87 269.66 522.47 269.32 523.07 269.71 523.68 269.37 524.28 269.7 524.88 270.05 525.48 269.1 526.08 269.49 526.68 269.19 527.28 269.46 527.88 268.87 528.49 269.14 529.09 269.31 529.69 269.8 530.29 269.92 530.89 268.8 531.49 269.04 532.09 269.69 532.7 268.5 533.3 269.19 533.9 269.36 534.5 269.97 535.1 269.71 535.7 269.25 536.3 269.23 536.9 269.29 537.51 270.09 538.11 269.21 538.71 269.26 539.31 269.56 539.91 269.35 540.51 269.31 541.11 268.9 541.72 269.39 542.32 269.2 542.92 269.92 543.52 269.69 544.12 269.39 544.72 269.7 545.32 269.25 545.92 269.87 546.53 269.4 547.13 269.66 547.73 268.82 548.33 269.56 548.93 268.64 549.53 268.48 550.13 269.26 550.74 269 551.34 269.47 551.94 270.41 552.54 269.03 553.14 269.12 553.74 269.49 554.34 269.62 554.94 269.32 555.55 269.31 556.15 269.72 556.75 269.63 557.35 268.93 557.95 269.36 558.55 269.42 559.15 268.93 559.76 269.52 560.36 269.01 560.96 269.84 561.56 269.49 562.16 269.44 562.76 269.13 563.36 269.35 563.97 268.5 564.57 268.89 565.17 269.56 565.77 268.44 566.37 269.78 566.97 268.61 567.57 269.74 568.17 269.02 568.78 269.75 569.38 269.46 569.98 268.71 570.58 269.96 571.18 270.05 571.78 269.37 572.38 269.28 572.99 269.33 573.59 268.96 574.19 269.89 574.79 269.16 575.39 269.38 575.99 269.04 576.59 269.12 577.19 268.83 577.8 269.97 578.4 269.33 579 269.83 579.6 269.41" stroke="#0044ff"/>
<path d="M769 269.52 769.6 269.7 770.2 269.69 770.8 270.14 771.4 269.26 772 270.21 772.6 269.87 773.2 270.7 773.8 270.73 773.9 270.3 775.5 267.3 777.1 270.3 777.4 270.01 778 270.57 778.6 270.28 779.2 270.95 779.8 269.92 780.4 270.16 781 270.46 781.6 270.42 782.2 269.56 782.8 270.46 783.4 270.25 784 270.19 784.6 270.23 785.2 270.4 785.8 269.48 786.4 271 787 269.91 787.6 269.29 788.2 270.26 788.8 270.96 788.9 270.3 790.5 275.1 792.1 270.3 792.4 269.74 793 270.83 793.6 269.93 794.2 269.62 794.8 269.7 795.4 270.3 796 270.29 796.6 270.69 797.2 270.75 797.8 269.88 798.4 270.23 799 269.79 799.6 270.33 800.2 269.78 800.8 269.76 801.4 271.26 802 270.31 802.6 270.59 803.2 271.44 803.8 270.65 804.4 270.25 805 270.32 805.6 269.96 806.2 270.79 806.8 270.15 807.4 271.09 808 270.14 808.6 270.14 809.2 270.11 809.8 270.58 810.4 270.38 811 270.92 811.6 270.05 812.2 270.43 812.8 271.17 813.4 270.19 814 270.54 814.6 271.01 815.2 270.55 815.8 270.01 816.4 269.37 817 271.38 817.6 270.49 818.2 270.87 818.8 270.09 819.4 271.12 820 270.53 820.6 270.32 821.2 269.89 821.8 270.47 822.4 270.08 823 270.2 823.6 269.57 824.2 270.08 824.8 270.37 825.4 269.74 826 270.33 826.6 270.6 827.2 270.16 827.8 270.02 828.4 270.02 829 270.72 829.6 269.61 830.2 270.16 830.8 270.11 831.4 270.36 832 270.27 832.4 270.3 834 280.3 835.6 270.3 835.6 270.34 836.2 270.58 836.8 269.7 837.4 270.62 838 269.68 838.6 269.94" stroke="#0044ff"/>
<path d="M186.4 270.14 187 270.61 187.6 269.75 188.21 270.8 188.81 271.01 189.41 270.3 190.01 270.69 190.62 270.61 191.22 270.32 191.82 270.11 192.42 269.59 193.03 271.13 193.63 270.48 194.23 271.64 194.83 270.87 195.43 270.63 196.04 270.2 196.64 271.13 197.24 270.27 197.84 271.21 198.45 270.32 199.05 270.58 199.65 269.81 200.25 271.55 200.86 270.46 201.46 270.33 202.06 270.86 202.66 270.1 203.27 270.85 203.87 269.97 204.47 270.75 205.07 270.03 205.67 269.67 206.28 270.23 206.88 269.84 207.48 270.75 208.08 270.51 208.69 270.73 209.29 270.54 209.89 270.34 210.49 270.51 211.1 270.97 211.7 270.42 212.3 270.16 212.9 270.06 213.5 270.4 214.11 270.16 214.71 271.35 215.31 269.97 215.91 270.01 216.52 270.36 217.12 270.79 217.72 270.38 218.32 270.07 218.93 270.14 219.53 270.34 220.13 270.94 220.73 270.06 221.33 270.46 221.94 270.22 222.54 270.65 223.14 270.68 223.74 269.84 224.35 271.57 224.95 270.59 225.55 270.27 226.15 270.1 226.76 270.38 227.36 270.51 227.96 270.77 228.56 270.5 229.17 270.72 229.77 269.78 230.37 270.16 230.97 270.05 231.57 270.57 232.18 270.71 232.78 269.84 233.38 270.42 233.98 270.83 234.59 270.91 235.19 270 235.79 270.75 236.39 270.65 237 270.3 237.6 271.38 238.2 270 238.8 270.38 239.4 270.7 240.01 270.61 240.61 270.42 241.21 271.12 241.81 271.15 242.42 270.91 243.02 270.95 243.62 270.48 244.22 269.98 244.83 271.48 245.43 270.07 246.03 271.5 246.63 270.44 247.23 270.6 247.84 270.42 248.44 270.93 249.04 270.27 249.64 271.33 250.25 270.74 250.85 270.58 251.45 270.24 252.05 270.63 252.66 270.5 253.26 271.35 253.86 270.92 254.46 269.8 255.07 271.19 255.67 269.43 256.27 271.19 256.87 269.65 257.47 270.5 258.08 270.87 258.68 270.5 259.28 270.01 259.88 271.05 260.49 269.7 261.09 269.84 261.69 271.12 262.29 270.11 262.9 270.61 263.5 270.86 264.1 270.45 264.7 270.62 265.3 270.55 265.91 270.6 266.51 271.03 267.11 270.92 267.71 270.65 268.32 270.91 268.92 270.26 269.52 270.16 270.12 270.05 270.73 270.85 271.33 271.23 271.93 270.54 272.53 269.61 273.13 270.27 273.74 270.71 274.34 270.63 274.94 270.54 275.54 270.94 276.15 270.92 276.75 269.9 277.35 270.7 277.95 270.17 278.56 270.6 279.16 271.06 279.76 271.32 280.36 270.81 280.97 270.27 281.57 270.34 282.17 270.74 282.77 270.06 283.37 270.47 283.98 270.77 284.58 270.91 285.18 270.37 285.78 270.67 286.39 271.11 286.99 270.64 287.59 269.73 288.19 270.6 288.8 270.61 289.4 270.31 290 270.52" stroke="#0064ff"/>
<path d="M600 270.5 600.6 270.67 601.2 270.65 601.8 271.12 602.4 270.89 603 271.06 603.6 271.38 604.2 271.39 604.8 271.21 605.4 270.8 606 270.66 606.6 270.63 607.2 270.85 607.8 270.98 608.4 270.56 609 270.49 609.6 271.14 610.2 270.17 610.8 270.92 611.4 271.19 612 270.56 612.6 270.5 613.2 270.66 613.8 271.29 614.4 270.94 615 270.16 615.6 270.81 616.2 271.46 616.8 271.44 617.4 271.28 618 270.89 618.6 270.17 619.2 271.08 619.8 270.92 620.4 271.03 621 271.69 621.6 271.08" stroke="#0064ff"/>
<path d="M425 269.92 425.6 270.51 426.21 270.45 426.81 269.67 427.41 269.77 428.01 269.66 428.62 270.16 429.22 269.87 429.82 270.24 430.43 269.07 431.03 270.6 431.2 269.9 432.8 266.6 434.4 269.9 434.65 270.27 435.25 269.81 435.85 269.83 436.45 270.21 437.06 269.51 437.66 269.22 438.26 270.08 438.87 269.6 439.47 269.04 440.07 269.53 440.68 269.69 441.28 269.36 441.88 269.23 442.48 269.92 443.09 270.3 443.69 269.8 444.29 269.57 444.9 270.07 445.5 270.22 446.1 269.76 446.7 270.15 447.31 270.37 447.91 269.81 448.51 269.53 449.12 270.06 449.6 269.9 451.2 266.6 452.8 269.9 453.34 269.96 453.94 270.14 454.54 269.57 455.14 270.52 455.75 270.27 456.35 270.18 456.95 270.08 457.56 270.33 458.16 269.3 458.76 270.18 459.36 270.17 459.4 269.9 461 274.8 462.6 269.9 462.98 269.89 463.58 270.05 464.19 269.51 464.79 270.17 465.39 269.85 466 270.12 466.6 269.67 467.2 270.39 467.8 270.17 468.41 269.82 469.01 270.18 469.61 270.47 470.22 270.71 470.82 269.19 471.42 270.3 472.02 270.11 472.63 269.86 473.23 269.45 473.83 270.47 474.44 269.33 475.04 270.16 475.64 270.49 476.25 269.18 476.85 269.76 477.45 269.31 478.05 270.01 478.66 270.58 479.26 270.81 479.86 269.1 480.47 269.64 481.07 270.22 481.67 270.61 482.27 270.09 482.88 269.56 483.48 270.03 484.08 269.89 484.69 269.81 485.29 269.57 485.89 270.07 486.49 270.04 487.1 269.86 487.7 269.8 488.3 269.32 488.91 269.68 489.51 270.44 490.11 269.81 490.71 269.25 491.32 270.5 491.92 270.14 492.52 270.85 493.13 269.93 493.73 269.69 494.33 269.25 494.93 270.5 495.54 271.06 496.14 269.53 496.74 269.61 497.35 270.17 497.95 269.53 498.55 269.78 499.15 269.74 499.76 269.99 500.36 270.39 500.96 269.91 501.57 270.31 502.17 269.71 502.77 270.05 503.38 268.94 503.98 269.25 504.58 270.26 505.18 269.63 505.79 270.16 506.39 270.14 506.99 270.5 507.6 270.27 508.2 270.36 508.8 269.85 509.4 269.59 510.01 269.57 510.61 269.68 511.21 269.39 511.82 269.65 512.42 269.86 513.02 270.01 513.62 269.75 514.23 269.03 514.83 269.87 515.43 270 516.04 270.39 516.64 270.16 517.24 269.61 517.84 269.57 518.45 270.8 519.05 270.24 519.65 270.72 520.26 270.86 520.86 269.53 521.46 270.07 522.06 270.11 522.67 270.15 523.27 270.14 523.87 269.99 524.48 269.98 525.08 269.22 525.68 269.83 526.28 269.56 526.89 269.96 527.49 269.69 528.09 270.18 528.7 270.27 529.3 270.04 529.9 270.04 530.5 269.94 531.11 269.7 531.71 269.83 532.31 269.68 532.92 270.07 533.52 269.91 534.12 270.16 534.72 269.3 535.33 270.3 535.93 269.56 536.53 269.57 537.14 269.81 537.74 269.65 538.34 270.03 538.95 269.64 539.55 269.42 540.15 269.52 540.75 270.49 541.36 269.92 541.96 269.37 542.56 269.9 543.17 269.2 543.77 270.71 544.37 269.21 544.97 270.12 545.58 270.14 546.18 269.25 546.78 270.04 547.39 270.35 547.99 270.11 548.59 270.02 549.19 270.33 549.8 269.97 550.4 270.05" stroke="#0088ff"/>
<path d="M193 269.3 193.6 269.77 194.2 269.64 194.8 269.63 195.4 270.03 196.01 268.76 196.61 269.02 197.21 268.71 197.81 269.26 198.41 269.76 199.01 269.3 199.61 269.53 200.21 268.45 200.82 269.38 201.42 268.9 202.02 270.11 202.62 269.71 203.22 269.74 203.82 269.29 204.42 269.59 205.02 269.61 205.63 269.16 205.8 269.32 207.4 265.5 209 269.32 209.23 268.99 209.83 269.67 210.44 268.61 211.04 269.7 211.64 269.04 212.24 269.08 212.84 268.72 213.44 269.26 214.04 269.22 214.64 269.42 214.9 269.33 216.5 267.3 218.1 269.33 218.25 269.76 218.85 269.28 219.45 269.6 220.06 269.61 220.66 269.16 221.26 268.47 221.86 269.18 222.46 269.59 223.06 269.17 223.66 269.54 224.26 269.78 224.87 269.1 225.47 269.9 226.07 270.08 226.67 269.83 227.27 269.87 227.87 269.84 228.47 270.36 229.07 269.43 229.68 269.35 230.28 269.62 230.88 268.94 231.48 268.65 232.08 268.96 232.68 269.52 233.28 269.57 233.88 268.67 234.49 268.51 235.09 269.22 235.69 269.27 236.29 269.34 236.89 269.66 237.49 269.91 238.09 269.47 238.69 269.64 239.3 268.87 239.9 268.84 240.5 269.47 241.1 269.67 241.7 269.69 242.3 269.64 242.9 269.72 243.5 269.73 244.1 268.58 244.71 269.04 245.31 269.58 245.91 269.64 246.51 268.69 247.11 269.9 247.71 269.18 248.31 269.27 248.91 269.5 249.52 269.72 250.12 268.73 250.72 269.83 251.32 269.42 251.92 269.03 252.52 269.26 253.12 268.4 253.72 269.09 254.33 269.47 254.93 269.07 255.53 269.24 256.13 269.32 256.73 269.41 257.33 269.85 257.93 269.38 258.53 269.27 259.14 269.63 259.74 270.33 260.34 269.24 260.94 269.63 261.54 268.69 262.14 270 262.74 269.69 263.34 270 263.95 269.37 264.55 268.93 265.15 269.86 265.75 270.05 266.35 269.58 266.95 269.56 267.55 270.67 268.15 270.65 268.76 272.15 269.36 270.95 269.96 271.24 270.56 271.45 271.16 270.75 271.76 271.1 272.36 272.24 272.96 271.44 273.57 271.23 274.17 270.93 274.77 271.76 275.37 271.8 275.97 271.62 276.57 271.32 277.17 271.64 277.77 271.67 278.38 271.19 278.98 271.78 279.58 270.55 280.18 270.92 280.78 271.36 281.38 271.45 281.98 270.98 282.58 271.65 283.19 271.98 283.79 271.7 284.39 271.6 284.99 271.87 285.59 271.68 286.19 270.99 286.79 271.41 287.39 272.08 288 270.99 288.6 271.53 289.2 271.32 289.8 271.1 290.4 271.04" stroke="#00a8ff"/>
<path d="M720.26 268.85 720.6 267.61 721.2 269.43 721.81 269.03 722.41 269.59 723.01 269.17 723.61 269.82 724.21 269.01 724.82 268.77 725.42 269.26 726.02 269.19 726.62 268.84 727.22 268.89 727.83 269.32 728.43 269.32 729.03 268.78 729.63 268.83 730.23 268.19 730.83 269.76 731.44 268.9 732.04 269.6 732.64 269.19 733.24 269.87 733.84 269.69 734.45 269.14 735.05 269.67 735.65 268.57 736.25 269.57 736.85 268.33 737.46 269.15 738.06 269.48 738.66 269.1 739.26 268.83 739.86 268.64 740.47 268.85 741.07 269.47 741.67 269.4 742.27 268.88 742.87 268.44 743.48 269.3 744.08 268.35 744.68 268.76 745.28 268.67 745.88 269.33 746.49 269.11 747.09 269.21 747.69 269.12 748.29 268.69 748.89 269.24 749.5 269.64 750.1 268.98 750.7 269.29 751.3 268.94 751.9 269.46 752.5 269.3 753.11 269.39 753.71 269.16 754.31 269.74 754.91 268.84 755.51 268.85 756.12 268.73 756.72 269.27 757.32 268.72 757.92 268.71 758.52 269.33 759.13 269.52 759.73 269.26 760.33 267.79 760.93 268.57 761.53 268.52 762.14 268.46 762.74 268.82 763.34 269.82 763.94 268.86 764.54 268.67 765.15 269.31 765.75 269.03 766.35 269.05 766.95 268.69 767.55 269 768.16 269.2 768.76 268.14 769.36 268.28 769.96 269.49 770.56 269.38 771.17 268.77 771.77 268.54 772.37 268.92 772.97 268.46 773.57 268.85 774.17 269.74 774.78 269.06 775.38 269.52 775.98 268.9 776.58 269.17 777.18 269.62 777.79 268.4 778.39 268.84 778.99 268.93 779.59 269.13 780.19 269.7 780.8 269.31 781.4 268.33 782 268.88 782.6 268.6 783.2 268.59 783.81 269.91 784.41 268.52 785.01 269.11 785.61 268.68 786.21 269.39 786.82 269.16 787.42 269.06 788.02 268.97 788.62 269.51 789.22 268.58 789.83 268.67 790.43 268.5 791.03 269.6 791.63 268.87 792.23 268.53 792.83 268.81 793.44 270.12 794.04 268.95 794.64 269.38 795.24 269.21 795.84 268.99 796.45 268.69 797.05 268.85 797.65 268.84 798.25 268.01 798.85 270.17 799.46 269.42 800.06 269.05 800.66 268.91 801.26 268.64 801.86 269.43 802.47 268.92 803.07 269.22 803.67 268.38 804.27 269.17 804.87 269.9 805.48 268.87 806.08 269.36 806.68 269.02 807.28 269.5 807.88 269.48 808.49 269.03 809.09 268.75 809.69 269.13 810.29 269.02 810.89 268.72 811.5 269.21 812.1 269.19 812.7 268.6 813.3 268.95 813.9 270.31 814.5 269.37 815.11 269.04 815.71 270.13 816.31 268.8 816.91 267.89 817.51 268.14 818.12 268.32 818.72 269.12 819.32 269.44 819.92 268.02 820.52 269.5 821.1 269 822.7 275.1 824.3 269 824.74 268.49 825.34 269.13 825.94 269.44 826.54 269.42 827.15 270.18 827.75 269.49 828.35 269.33 828.95 269.75 829.55 269.11 830.16 268.42 830.76 267.99 831.36 269.57 831.96 269.26 832.56 269.38 833.17 268.85 833.77 269.16 834.37 269.85 834.97 269.15 835.57 268.5 836.17 268.81 836.78 269.62 837.38 268.51 837.98 267.84 838.58 267.97 839.18 268.4 839.79 269.36 840.39 269.04 840.99 268.66 841.59 268.42 842.19 268.95 842.8 268.93 843.4 268.75 844 268.89" stroke="#02e8f4"/>
<path d="M202 270.61 202.61 269.86 203.22 269.59 203.83 268.98 204.44 270.14 205.06 270.86 205.67 270.31 206.28 270.53 206.89 270.76 207.5 269.9 208.11 271.49 208.72 269.91 209.33 270.47 209.94 271.53 210.56 270.25 211.17 270.35 211.78 270.07 212.39 270.45 213 269.34 213.61 270.01 214.22 271.06 214.83 270.4 215.44 270.19 216.06 270.47 216.67 270.49 217.28 270.37 217.89 270.56 218.5 269.55 219.11 270.57 219.72 270 220.33 270.65 220.94 270.29 221.56 269.85 222.17 270.27 222.78 269.85 223.39 270.76 224 270.29" stroke="#53ffa4"/>
<path d="M605.6 269.86 606.2 270.08 606.81 270.68 607.41 270.26 608.01 270.74 608.62 270.86 609.22 269.85 609.82 270.96 610.42 270.23 611.03 271.44 611.63 270.83 612.23 270.26 612.84 270.59 613.44 270.6 614.04 270.65 614.65 271.13 615.25 270.74 615.85 271.25 616.46 270.79 617.06 270.42 617.66 269.81 618.27 269.8 618.87 270.59 619.47 270.81 620.07 271.15 620.68 270.22 621.28 270.53 621.88 270.13 622.49 270.31 623.09 269.47 623.69 270.83 624.3 270.17 624.9 270.47 625.5 270.7 626.11 270.65 626.71 269.91 627.31 271.18 627.91 270.84 628.52 270.73 629.12 270.2 629.72 269.78 630.33 269.77 630.93 270.41 631.53 270.57 632.14 270.18 632.74 271.32 633.34 270.64 633.95 270.95 634.55 270.91 635.15 270.02 635.76 270.95 636.36 270.7 636.96 269.93 637.56 270.83 638.17 270.98 638.77 270.94 639.37 270.97 639.98 269.87 640.58 270.39 641.18 270.25 641.79 270.52 642.39 270.55 642.99 271.01 643.6 270.84 644.2 270.13 644.8 270.91 645.4 271.23 646.01 270.64 646.61 269.82 647.21 270.21 647.82 270.42 648.42 269.77 649.02 270.44 649.63 269.93 650.23 270.86 650.83 270.81 651.44 270.47 652.04 269.94 652.64 270.63 653.25 270.21 653.85 270.19 654.45 271 655.05 270.16 655.66 269.88 656.26 270.86 656.86 271.3 657.47 271.22 658.07 270.85 658.67 271.44 659.28 270.34 659.88 271.48 660.48 271.44 661.09 270.35 661.69 270.69 662.29 269.92 662.9 270.04 663.5 270.75 664.1 269.98 664.7 270.6 665.31 270.71 665.91 270.56 666.51 270.94 667.12 271.38 667.72 270.59 668.32 270.96 668.93 271.18 669.53 270.3 670.13 270.3 670.74 269.9 671.34 271.6 671.94 272.28 672.54 272.4 673.15 273.46 673.75 273.2 674.35 272.88 674.96 272.5 675.56 272.12 676.16 272.56 676.77 272.74 677.37 272.48 677.97 272.38 678.58 272.34 679.18 272.83 679.78 271.74 680.39 272.37 680.99 272.55 681.59 272.83 682.19 272.83 682.8 272.41 683.4 272.25 684 271.99 684.61 273.04 685.21 272.78 685.81 272.61 686.42 272.19 687.02 272.01 687.62 273.04 688.23 272.51 688.83 272.73 689.43 273.33 690.03 271.82 690.64 272.17 691.24 272.68 691.84 272.8 692.45 272.04 693.05 272.48 693.65 272.24 694.26 272.25 694.86 272.69 695.46 272.6 696.07 273.04 696.67 272.79 697.27 273.19 697.88 272.14 698.48 272.7 699.08 272.04 699.68 273.2 700.29 274.59 700.89 276.81 701.49 277.85 702.1 278.29 702.48 279.92" stroke="#53ffa4"/>
<path d="M321 270.23 321.6 270.78 322.2 270.97 322.8 270.96 323.4 271.32 324 270.33 324.6 270.74 325.2 270.34 325.8 269.86 326.4 270.18 327 270.56 327.6 270.09 328.2 270.41 328.8 271 329.4 270.76 330 270.76 330.6 270.66 331.2 270.42 331.8 269.66 332.4 270.95 333 269.82 333.6 270.6 334.2 270.45 334.8 270.56 335.4 270.61 336 270.35 336.6 270.91 337.2 269.92 337.8 270.86 338.4 269.74 339 271.03 339.6 270.27 340.2 270.67 340.8 271.18 341.4 269.53 342 270.36 342.6 270.76 343.2 270.9 343.8 271.11 344.4 270.77 345 270.73 345.6 270.55 346.2 270.62 346.8 270.53 347.4 270.95 348 270.57 348.6 270.8 349.2 271.23 349.8 271.03 350.4 270.35 351 270.45 351.6 270.83 352.2 270.21 352.8 269.68 353.4 270.04 354 270.74 354.6 270.41 355.2 270.34 355.8 270.84 356.4 270.03 357 271.52 357.6 270.51 358.2 270.35 358.8 271.42 359.4 270.01 360 270.28 360.6 270.46 361.2 270.07 361.8 270.35 362.4 270.76 363 270.58 363.6 270.48 364.2 270.94 364.8 271.35 365.4 271.2 366 269.56 366.6 271.12 367.2 270.85 367.8 270.68 368.4 270.06 369 270.3 369.6 270.41 370.2 269.87 370.8 271.06 371.4 270.9 372 270.49 372.6 270.07 373.2 271.11 373.8 270.79 374.4 270.98 375 270.31 375.6 271.58 376.2 270.44 376.8 271.38 377.4 269.6 378 270.64 378.6 270.54" stroke="#8aff6d"/>
<path d="M673 269.4 673.6 269.05 674.2 268.66 674.8 268.33 675.41 268.05 676.01 268.91 676.61 268.54 677.21 268.51 677.81 268.8 678.41 268.88 679.01 267.88 679.61 269.32 680.22 267.99 680.82 269.74 681.42 269.17 682.02 268.69 682.62 269.5 683.22 268.91 683.82 269.21 684.42 268.95 685.03 269.39 685.63 269.38 686.23 268.49 686.83 268.62 687.43 269.05 688.03 268.81 688.63 267.87 689.24 269.81 689.84 267.92 690.44 267.96 691.04 268.33 691.64 269.15 692.24 269.71 692.84 268.79 693.44 268.72 694.05 268.98 694.65 268.73 695.25 268.94 695.85 268.39 696.45 269.1 697.05 269.08 697.65 267.8 698.25 268.85 698.86 268.97 699.46 269.15 700.06 268.53 700.66 268.3 701.26 268.47 701.86 269.15 702.46 268.52 703.07 268.56 703.67 269.41 704.27 268.55 704.87 268.5 705.47 268.86 706.07 268.99 706.67 269.37 707.27 268.5 707.88 268.19 708.48 268.84 709.08 269.19 709.68 268.23 710.28 268.68 710.88 269.04 711.48 269 712.08 268.94 712.69 268.78 713.29 268.54 713.89 268.48 714.49 269.42 715.09 268.4 715.69 269.45 716.29 268.31 716.9 270.21 717.5 268.12 718.1 269.62 718.7 268.5 719.3 268.85 719.9 268.87 720.5 268.61 721.1 269.9 721.71 268.94 722.31 268.31 722.91 269.19 723.51 269.22 724.11 268.38 724.71 269.14 725.31 268.93 725.92 269.27 726.52 269.22 727.12 268.9 727.72 268.72 728.32 269.31 728.92 269.04 729.52 268.23 730.12 268.65 730.73 268.68 731.33 268.78 731.93 269.93 732.53 268.73 733.13 269.11 733.73 269.64 734.33 269.13 734.93 269.09 735.54 269.48 736.14 268.99 736.74 268.98 737.34 269.21 737.94 269.09 738.54 268.59 739.14 268.38 739.75 268.85 740.35 269.53 740.95 268.8 741.55 269.42 742.15 269.09 742.75 268.76 743.35 267.71 743.95 269 744.56 268.78 745.16 268.18 745.76 269.13 746.36 268.89 746.96 269.07 747.56 268.63 748.16 268.99 748.76 268.69 749.37 269.38 749.97 268.96 750.57 268.27 751.17 269 751.77 268.93 752.37 268.81 752.97 268.29 753.58 269.38 754.18 268.57 754.78 269.61 755.38 268.6 755.98 268.91 756.58 268.88 757.18 268.97 757.78 270.09 758.39 268.68 758.99 269.83 759.59 269.18 760.19 268.59 760.79 269.47 761.39 269.28 761.99 269.33 762.59 268.3 763.2 269.13 763.8 268.72 764.4 268.84 765 268.84" stroke="#8aff6d"/>
<path d="M659 270.01 659.6 269.69 660.2 270.5 660.81 269.7 661.41 271.11 662.01 270.62 662.61 270.04 663.21 270.46 663.82 270.93 664.42 271.48 665.02 269.78 665.62 270.68 666.22 270.43 666.83 270.07 667.43 270.69 668.03 270.43 668.63 270.68 669.23 269.96 669.84 270.2 670.44 270.38 671.04 270.21 671.64 270.21 672.24 269.85 672.85 270.26 673.45 270.28 674.05 270.17 674.65 270.19 675.26 270.51 675.86 269.9 676.46 270.51 677.06 270.13 677.66 270.23 678.27 270.11 678.87 270.6 679.47 270.54 680.07 270.2 680.67 270 681.28 271.04 681.88 270.44 682.48 269.68 683.08 270.2 683.68 270.15 684.29 270.52 684.89 270.1 685.49 269.87 686.09 270.8 686.69 269.3 687.3 269.56 687.9 269.96 688.5 269.97 689.1 270.14 689.7 270.19 690.31 270.65 690.91 269.52 691.51 271.54 692.11 270.48 692.71 269.85 693.32 269.94 693.92 269.98 694.52 269.2 695.12 270.38 695.72 269.7 696.33 269.96 696.93 269.71 697.53 269.93 698.13 270.21 698.73 269.62 699.34 270.88 699.94 269.63 700.54 269.98 701.14 270.19 701.74 270.48 702.35 270.29 702.95 270.21 703.55 270.42 704.15 270.36 704.76 269.76 705.36 270.46 705.96 269.9 706.56 269.67 707.16 270.15 707.77 269.96 708.37 270.3 708.97 270.32 709.57 269.91 710.17 270.33 710.78 270.16 711.38 269.45 711.98 270.88 712.58 270.18 713.18 270.11 713.79 270.57 714.39 269.55 714.99 269.87 715.59 270.6 716.19 269.32 716.8 269.79 717.4 270.92 718 270.45 718.6 269.74 719.2 270.2 719.81 270.51 720.41 269.82 721.01 270.19 721.61 270.34 722.21 270.2 722.82 270.87 723.42 270.23 724.02 270.11 724.62 270.28 725.22 270.01 725.83 269.82 726.43 270.08 727.03 269.89 727.63 271.02 728.23 271.15 728.84 270.02 729.44 268.93 730.04 270.03 730.64 270.49 731.24 269.91 731.85 270.5 732.45 270.48 733.05 269.91 733.65 270.08 734.26 269.75 734.86 270 735.46 269.7 736.06 269.96 736.66 270.86 737.27 270.06 737.87 270.69 738.47 270.34 739.07 269.52 739.67 270.16 740.28 269.99 740.88 269.65 741.48 269.99 742.08 270.75 742.68 270.74 743.29 270.01 743.89 269.88 744.49 270.18 745.09 270.35 745.69 270.79 746.3 269.94 746.9 269.77 747.5 270.17 748.1 269.3 748.7 270.14 749.31 270.39 749.91 269.34 750.51 270.6 751.11 269.91 751.71 270.1 752.32 270.07 752.92 270.13 753.52 270.18 754.12 269.92 754.72 269.3 755.33 270.58 755.93 270.14 756.53 270.43 757.13 270.3 757.73 270.74 758.34 270.18 758.94 269.96 759.54 271.41 760.14 270.87 760.74 270.59 761.35 270.73 761.95 270.82 762.55 269.24 763.15 269.95 763.76 270.26 764.36 270.47 764.96 269.9 765.56 270.26 766.16 269.73 766.77 270.07 767.37 269.31 767.97 269.99 768.57 270.91 769.17 269.63 769.78 270.47 770.38 269.61 770.98 269.71 771.58 271.24 772.18 269.8 772.79 270.14 773.39 270 773.9 270.2 775.5 279.6 776.93 271.19" stroke="#ff9f00"/>
<path d="M757 271.03 757.6 271.65 758.2 271.39 758.8 270.92 759.4 271.5 760 270.55 760.6 271.47 761.2 270.95 761.8 271.48 762.4 271.4 763 270.85 763.6 271.44 764.2 271.35 764.8 270.91 765.4 272.1 766 271.56 766.6 270.67 767.2 270.76 767.8 271.34 768.4 271.34 769 270.87 769.6 271.75 770.2 271.24 770.8 270.81 771.4 271.03 772 271.12 772.6 270.5 773.2 270.83 773.8 270.39 774.4 271.07 775 271.48 775.6 270.62 776.2 271.34 776.8 270.67 777.4 271.13 778 270.97 778.6 270.65 779.2 270.95 779.8 270.65 780.4 271.33 781 271.22 781.6 271.74 782.2 270.54 782.8 271.69 783.4 271.16 784 271.38 784.6 271.12 785.2 271.9 785.8 271.82 786.4 271.68 787 271.32 787.6 270.15 788.2 271.45 788.8 271.19 789.4 271.14 790 271.4 790.6 271.74 791.2 271.32 791.8 270.99 792.4 270.85 793 271.37 793.6 271.69 794.2 271.45 794.8 271.41 795.4 271 796 270.64 796.6 271.63 797.2 271.47 797.8 270.38 798.4 270.88 799 271.65 799.6 271.68 800.2 270.91 800.8 272.21 801.2 271.2 802.8 273.1 804.4 271.2 804.4 272 805 271.61 805.6 270.71 806.2 271.71 806.8 270.9 807.4 270.21 808 271.34 808.6 269.98 809.2 271.25 809.8 271.66 810.4 271.67 811 272.42 811.6 271.5 812.2 270.76 812.8 271.48 813.4 271.51 814 270.94 814.6 270.41 815.2 271.03 815.8 270.89 816.4 271.02 817 271.12 817.6 271.54 818.2 271.47 818.8 271.84 819.4 270.96 820 271.61 820.6 270.42 821.2 271.21 821.8 270.49 822.4 270.8 823 271.67 823.6 270.77 824.2 271.85 824.8 271.97 825.4 271.44 826 271.07 826.6 270.76 827.2 270.82 827.8 271.17 828.4 270.75 829 271.16 829.6 270.85 830.2 271.48 830.8 270.38 831.4 271.42 832 271.63 832.6 270.75 833.2 271.86 833.8 271.89 834.4 271.51 835 270.53 835.6 271.32 836.2 270.48 836.8 270.99 837.4 270.63 838 271.27 838.6 270.86 839.2 271.35 839.8 271.61 840.4 270.88 841 271.44 841.6 271.02 842.2 271.1 842.8 271.06 843.4 270.86 844 270.94" stroke="#ff7e00"/>
<path d="M98.7 270.64 99.3 271.34 99.91 271.43 100.51 270.94 101.12 270.99 101.72 270.58 102.33 270.39 102.93 270.39 103.54 270.35 104.14 271.22 104.74 270.77 105.35 270.86 105.95 270.51 106.56 270.31 107.16 270.26 107.77 270.42 108.37 271.07 108.98 270.81 109.58 270.59 110.18 270.69 110.79 270.16 111.39 271.35 112 270.25 112.6 270.82 113.21 271.76 113.81 269.65 114.42 270.17 115.02 270.47 115.62 270.85 116.23 270.03 116.83 270.69 117.44 270.79 118.04 270.88 118.65 269.73 119.25 271.09 119.85 271.52 120.46 271 121.06 270.47 121.67 270.52 122.27 269.61 122.88 271.01 123.48 271.48 124.09 271.09 124.69 269.46 125.29 270.61 125.9 270.75 126.5 270.58 127.11 271.26 127.71 270.02 128.32 270.48 128.92 271.07 129.53 271.25 130.13 270.88 130.73 271.27 131.34 271.03 131.94 270.32 132.55 271.38 133.15 270.57 133.76 270.07 134.36 271 134.97 271.62 135.57 271.23 136.17 271.25 136.78 270.89 137.38 269.69 137.99 271.11 138.59 270.87 139.2 269.61 139.8 270.51 140.41 270.4 141.01 271.28 141.61 270.86 142.22 270.93 142.82 270.91 143.43 270.2 144.03 269.92 144.64 270.83 145.24 270.67 145.85 270.79 146.45 270.73 147.05 270.58 147.66 271.05 148.26 270.89 148.87 270.52 149.47 269.95 150.08 269.63 150.68 270.15 151.28 270.73 151.89 271.21 152.49 270.61 153.1 271.1 153.4 270.8 155 266.6 156 270.8 157.6 277 159.2 270.8 159.75 270.5 160.35 271.02 160.96 270.75 161.56 269.73 162.16 270.97 162.77 270.66 163.37 270.23 163.98 271.56 164.58 270.52 165.19 271.01 165.79 270.68 166.4 270.48 167 270.72" stroke="#ff6000"/>
<path d="M471.3 270.36 471.91 270.88 472.52 269.4 473.13 270.96 473.74 270.18 474.35 269.84 474.96 269.84 475.57 269.71 476.17 270.1 476.78 270.58 477.39 270.46 478 270.49 478.61 269.44 479.22 269.49 479.83 270.9 480.44 270.64 481.05 271.18 481.66 270.74 482.27 269.74 482.88 270.78 483.49 270.48 484.1 270.3 484.7 269.83 485.31 270.2 485.92 270.13 486.53 270.6 487.14 270.26 487.75 270.91 488.36 269.85 488.97 270.41 489.58 270.42 490.19 269.81 490.8 269.67 491.41 270.66 492.02 270.43 492.63 270.13 493.23 270.38 493.84 269.9 494.45 270.31 495.06 269.93 495.67 270.28 496.28 270.64 496.89 270.05 497.5 270.58" stroke="#ff6000"/>
<path d="M150 270.37 150.6 270.46 151.2 270.41 151.8 270.72 152.4 271.65 153 270.28 153.6 271.42 154.2 271.57 154.8 270.84 155.4 270.68 156.01 271.21 156.61 271.55 157.21 271.97 157.81 271.4 158.41 271.72 159.01 270.8 159.61 270.61 160.21 270.23 160.81 270.48 161.41 270.84 162.01 271.09 162.61 270.41 163.21 271.37 163.81 270.95 164.41 270.71 165.01 270.66 165.61 271.91 166.21 271.08 166.81 270.6 167.41 270.57 168.02 271.83 168.62 270.74 169.22 271.53 169.82 271.64 170.42 269.95 171.02 271.61 171.62 270.91 172.22 270.51 172.82 270.76 173.42 271.25 174.02 271.17 174.62 271.19 175.22 270.67 175.82 271.58 176.42 271.68 177.02 271.83 177.62 271.45 178.22 271.85 178.82 271.94 179.43 271.32 180.03 271.4 180.63 271.26 181.23 271.25 181.83 271.39 182.43 270.23 183.03 270.85 183.63 271.22 184.23 270.05 184.83 270.35 185.43 271.71 186.03 270.52 186.63 270.79 187.23 271.17 187.83 270.79 188.43 270.61 189.03 270.77 189.63 270.81 190.23 270.74 190.84 271.08 191.44 271.72 192.04 271.16 192.64 271.73 193.24 271.33 193.84 271.38 194.44 271.26 195.04 270.87 195.64 271.19 196.24 271.14 196.84 270.5 197.44 271.34 198.04 271.26 198.64 271.17 199.24 270.75 199.84 269.81 200.44 271.66 201.04 270.97 201.64 270.02 202.24 271.29 202.85 270.69 203.45 271.31 204.05 270.95 204.65 271.51 205.25 271.11 205.85 271.13 206.45 271.07 207.05 271.55 207.65 270.42 208.25 271.53 208.85 271.31 209.45 270.75 210.05 271 210.65 270.8 211.25 271.03 211.85 271.42 212.45 270.69 213.05 271.33 213.65 271.42 214.26 271.29 214.86 271.7 215.46 270.97 216.06 271.31 216.66 272.12 217.26 271.01 217.86 270.94 218.46 271 219.06 271.26 219.66 270.72 220.26 270.89 220.86 270.21 221.46 270.53 222.06 270.54 222.66 270.48 223.26 270.8 223.86 271.31 224.46 270.83 225.06 270.4 225.66 271.11 226.27 271.08 226.87 270.37 227.47 271.07 228.07 270.52 228.67 270.72 229.27 270.67 229.87 271.37 230.47 270.63 231.07 270.86 231.67 271.08 232.27 271.46 232.87 271.53 233.47 270.54 234.07 271.53 234.67 271.13 235.27 271.54 235.87 271.47 236.47 270.76 237 271 238.6 273.8 240.2 271 240.68 272.14 241.28 270.55 241.88 271 242.48 270.99 243.08 270.43 243.68 271.36 244.28 271.48 244.88 270.96 245.48 271.03 246.08 270.93 246.68 270.21 247.28 271.11 247.88 270.44 248.48 270.57 249.09 271.18 249.69 271.42 250.29 270.61 250.89 271.51 251.49 271.8 252.09 271.08 252.69 270.97 253.29 271.09 253.89 270.82 254.49 270.62 255.09 271.29 255.69 271.32 256.29 270.78 256.89 270.82 257.2 271 258.8 273 260.4 271 260.49 270.84 261.1 271.03 261.7 271.81 262.3 270.78 262.9 271.26 263.5 270.39 264.1 270.72 264.7 271.31 265.3 270.88 265.9 270.36 266.5 270.31" stroke="#ff4300"/>
<path d="M98.7 270.75 99.3 270.6 99.91 270.47 100.51 269.46 101.11 270.69 101.72 269.54 102.32 270.91 102.92 270.77 103.53 270.87 104.13 270.87 104.73 270.63 105.34 270.26 105.94 270.36 106.54 271.18 107.15 270.24 107.75 270.4 108.35 270.17 108.96 270.27 109.56 270.36 110.16 270.62 110.77 270.37 111.37 270.34 111.97 270.22 112.58 270.54 113.18 269.9 113.78 270.52 114.39 271.09 114.99 270.15 115.59 270.48 116.2 271.77 116.8 270.05 117.4 269.77 118 270.31 118.61 271.31 119.21 271.42 119.81 269.95 120.42 270.76 121.02 270.5 121.62 270.24 122.23 269.62 122.83 270.96 123.43 270.11 124.04 270.63 124.2 270.5 126.2 277 128.2 270.5 128.26 269.9 128.86 270.32 129.47 270.6 130.07 269.77 130.67 269.94 131.28 269.73 131.88 270.63 132.48 270.25 133.09 270.92 133.69 270.55 134.29 270.76 134.9 270.46 135.5 270.84" stroke="#ed0400"/>
<path d="M819 270.46 819.6 270.3 820.2 270.06 820.81 269.28 821.1 270.3 822.7 259.5 824.3 270.3 824.42 271.17 825.02 270.2 825.63 270.23 826.23 270.73 826.83 270.19 827.43 270.4 828.04 270.85 828.64 270.84 829.24 270.06 829.84 270.09 830.45 270.05 831.05 270.29 831.65 270.33 832.25 270.13 832.4 270.3 834 264.7 835.6 270.3 835.87 269.99 836.47 270.46 837.07 269.91 837.68 271 838.28 270.37 838.88 270.42 839.48 270.35 840.09 270.52 840.69 270.72 841.29 270.05 841.89 271.01 842.5 269.95 843.1 270.53 843.7 270.21" stroke="#ed0400"/>
<path d="M526.5 267.51 527.1 267.12 527.7 266.51 528.3 267.01 528.9 267.01 529.5 267.13 530.11 267.56 530.71 266.78 531.31 267.86 531.91 266.98 532.51 268.31 533.11 269.84 533.71 270.79 534.31 270.69 534.91 271.79 535.2 270.98 537 255 538.8 270.98 539.12 271.18 539.72 270.16 539.9 270.95 541.5 272.2 543.1 270.95 543.33 270.32 543.4 270.92 545 268 546.6 270.92 546.93 270.67 547.53 270.76 548.14 271.43 548.74 270.64 549.34 270.76 549.94 271.62 550.54 270.49 551.14 270.87 551.74 270.27 552.34 270.77 552.94 271.24 553.54 271.4 554.14 270.23 554.75 269.72 555.35 271.1 555.95 271.6 556.55 270.53 557.15 270.96 557.75 270.85 558.35 269.86 558.95 269.63 559.55 270.79 560.15 271.04 560.76 270.13 561.36 270.66 561.96 270.45 562.56 270.37 563.16 270.22 563.76 271.32 564.36 270.8 564.96 270.68 565.56 270.56 566.16 270.95 566.77 270.54 567.37 270.84 567.97 270.41 568.57 270.91 569.17 270.61 569.77 271 570.37 270.03 570.97 270.37 571.57 270.17 572.17 271.42 572.78 270.43 573.38 270.67 573.98 269.92 574.58 270.26 575.18 269.91 575.78 270.62 576.38 270.23 576.98 271.35 577.58 270.26 578.18 271.1 578.78 270.58 579.39 270.87 579.99 270.22 580.59 270.61 581.19 270.56 581.79 270.27 582.39 270.87 582.99 269.94 583.59 270.53 584.19 270.52 584.79 270.64 585.4 270.08 586 270.89 586.6 270.19 587.2 270.32 587.8 270.15 588.4 270.4 589 270.74 589.6 271.88 590.2 269.37 590.8 270.98 591.41 270.96 592.01 271.22 592.61 270.67 593.21 270.76 593.81 271.36 594.41 270.6 595.01 270.63 595.61 270.55 596.21 270.74 596.81 271.34 597.42 270.14 598.02 271.06 598.62 269.49 599.22 270.74 599.82 270.33 600.42 271.09 601.02 270.88 601.62 270.86 602.22 270.76 602.82 270.65 603.42 269.58 604.03 270.62 604.63 269.87 605.23 270.95 605.83 270.17 606.43 270.47 607.03 270.24 607.63 270.49 608.23 270.54 608.83 270.68 609.43 269.88 610.04 271.13 610.64 269.94 611.24 270.34 611.84 269.2 612.44 270.54 613.04 270.84 613.64 270.94 614.24 270.63 614.84 270.61 615.44 270.09 616.05 270.2 616.65 270.29 617.25 270.44 617.85 269.88 618.45 270.2 619.05 270.6 619.65 270.43 620.25 270.29 620.85 269.98 621.45 270.48 622.06 270.43 622.66 271.01 623.26 270.34 623.86 270.77 624.46 269.73 625.06 271.12 625.66 269.7 626.26 270.27 626.86 270.14 627.46 270.03 628.06 270.14 628.67 270.04 629.27 270.32 629.87 270.39 630.47 270.78 631.07 270.82 631.67 271.05 632.27 270.47 632.87 269.89 633.47 271.29 634.07 270.5 634.68 269.1 635.28 270.58 635.88 270.17 636.48 269.91 637.08 269.95 637.68 270.25 638.28 269.85 638.88 270.32 639.48 270.13 640.08 270.12 640.69 270.41 641.29 270.35 641.89 270.92 642.49 270.41 643.09 269.76 643.69 270.2 644.29 270.95 644.89 270.95 645.49 269.82 646.09 270.48 646.7 269.96 647.3 270.05 647.9 269.47 648.5 269.43 649.1 270.02 649.7 270.26" stroke="#c80000"/>
<path d="M372.4 269.33 373 268.84 373.61 270.72 374.21 270.9 374.82 270.8 375.42 270.01 376.03 270.17 376.63 270.07 377.23 270.82 377.84 270.59 378.44 270.23 379.05 270.52 379.65 270.81 380.26 270.37 380.86 269.71 381.47 270.17 382.07 270.01 382.67 269.48 383.28 269.28 383.88 270.27 384.49 269.73 385.09 270.39 385.7 269.84 386.3 270.56 386.9 270.6 387.51 270.37 388.11 269.66 388.72 269.28 389.32 271.16 389.93 270.18 390.53 271.12 391.13 270.09 391.74 269.67 392.34 270.2 392.95 269.64 393.55 270.22 394.16 270.94 394.76 270.61 395.37 271.6 395.97 270.37 396.57 270.36 397.18 269.79 397.78 269.78 398.39 270.32 398.99 269.8 399.6 270.06 400.2 270.06 400.8 269.68 401.41 271.25 402.01 269.33 402.62 270.27 403.22 270.65 403.83 270.71 404.43 270.01 405.03 269.74 405.64 271.32 406.24 271.2 406.85 270.28 407.45 270.22 408.06 270.26 408.66 269.7 409.27 270.19 409.87 270.71 410.47 270.55 411.08 269.78 411.68 270.57 412.29 269.83 412.89 269.46 413.5 270.38 414.1 270.51 414.7 270.89 415.31 269.82 415.91 270.7 416.52 270.46 417.12 270.33 417.73 270.02 418.33 270.1 418.93 270.44 419.54 270.36 420.14 269.66 420.75 269.93 421.35 270.16 421.96 270.65 422.56 270.42 423.17 270.19 423.77 270.09 424.37 270.93 424.98 269.99 425.58 269.84 426.19 269.99 426.79 270.37 427.4 270.2 428 269.95 428.6 269.98 429.21 270.45 429.81 270.42 430.42 270.35 431.02 269.77 431.63 270.21 432.23 270.76 432.83 269.87 433.44 270.99 434.04 270.31 434.65 270.65 435.25 269.74 435.86 270.84 436.46 270.24 437.07 270.41 437.67 270.55 438.27 270.96 438.88 270.15 439.48 270.52 440.09 270.33 440.69 269.54 441.3 269.7 441.9 269.59" stroke="#a40000"/>
<path d="M736.6 271.63 737.2 271.2 737.81 271.37 738.41 269.53 739.02 271.28 739.62 270.35 740.23 270.33 740.83 271.51 741.44 270.11 742.04 269.35 742.64 270.08 743.25 269.42 743.85 268.84 744.46 270.37 745.06 270.86 745.67 268.55 746.27 270.51 746.88 270.73 747.48 270.66 748.09 269.36 748.69 270.22 749.29 270.33 749.9 270.89 750.5 269.34 751.11 270.85 751.71 271.39 752.32 268.44 752.92 270.7 753.53 269.13 754.13 270.35 754.73 269.89 755.34 271.65 755.94 270.55 756.55 271.22 757.15 269.56 757.76 270.91 758.36 271.78 758.97 269.86 759.57 271.1 760.18 270.93 760.78 270.44 761.38 269.37 761.99 270.75 762.59 270.26 763.2 271.04 763.8 271.2 764.41 271.88 765.01 269.75 765.62 271.28 766.1 270.5 767.7 275.1 769.3 270.5 769.85 269.99 770.45 270.6 771.06 271.1 771.66 269.73 772.27 270.14 772.87 271.68 773.47 270.79 774.08 269.94 774.68 269.99 775.29 271.78 775.89 270.92 776.5 268.8 777.1 270.97 777.71 269.71 778.31 270.41 778.91 269.07 779.52 270.26 780.12 269.82 780.73 269.42 781.33 271.33 781.94 272.73 782.54 271.01 783.15 270.68 783.75 269.4 784.36 270.27 784.96 269.9 785.56 268.82 786.17 271 786.77 270.45 787.38 269.85 787.98 269.15 788.59 270.9 789.19 271.71 789.8 270.59 790.4 270.04" stroke="#a40000"/>
<path d="M812.4 269.46 813 270.06 813.6 269.9 814.21 269.76 814.81 270.13 815.41 270.42 816.01 270 816.61 269.47 817.22 270.18 817.82 269.79 818.42 270.45 819.02 269.85 819.62 270.32 820.22 269.48 820.83 270.77 821.43 269.64 822.03 269.74 822.63 270.16 823.23 271.05 823.84 269.97 824.44 270.1 825.04 268.99 825.64 270.41 826.24 269.86 826.85 270.31 827.45 270.78 828.05 269.25 828.65 269.85 829.25 270.55 829.86 270.63 830.46 270.17 831.06 269.55 831.66 269.63 832.26 269.66 832.87 270.1 833.47 270.22 834.07 270.08 834.67 270.07 835.27 270.16 835.88 269.64 836.48 270.01 837.08 269.1 837.68 269.62 838.28 270.34 838.88 270.22 839.49 270.58 840.09 269.28 840.69 270.35 841.29 269.53 841.89 270.31 842.5 269.09 843.1 269.66 843.7 269.83" stroke="#a40000"/>
<path d="M273 269.02 273.61 269.22 274.21 269.13 274.82 269.12 275.43 269.23 276.04 269.1 276.64 269.33 277.25 269.18 277.86 269.46 278.46 268.9 279.07 269.04 279.68 268.81 280.29 268.45 280.89 268.2 281.5 269.23 282.11 268.83 282.71 268.86 283.32 268.94 283.93 269.39 284.54 269.46 285.14 269.51 285.75 269.62 286.36 270.54 286.96 269.33 287.57 269.27 288.18 268.22 288.79 268.44 289.39 270.19 290 270.44" stroke="#800000"/>
<path d="M303 271.21 303.6 270.83 304.2 270.06 304.81 270.4 305.41 270.37 306.01 271.56 306.61 270.08 307.21 271.12 307.82 270.56 308.42 270.96 309.02 270.5 309.62 270.68 310.22 270.72 310.82 270.55 311.43 270.79 312.03 270.66 312.63 271.05 313.23 271.31 313.83 270.46 314.44 270.42 315.04 270.68 315.64 269.75 316.24 270.64 316.84 270.26 317.45 270.13 318.05 269.79 318.65 270.4 319.25 270.73 319.85 270.26 320.46 270.09 321.06 270.25 321.66 270.43 322.26 269.98 322.86 270.26 323.46 270.02 324.07 270.44 324.67 271.29 325.27 270.57 325.87 271.4 326.47 270.19 327.08 269.99 327.68 270.37 328.28 270.54 328.88 270.67 329.48 270.67 330.09 270.36 330.69 270.9 331.29 270.46 331.89 270.82 332.49 270.7 333.1 270.61 333.7 270.6 334.3 270.17 334.9 270.74 335.5 270.76 336.1 270.28 336.71 271.64 337.31 270.57 337.91 269.92 338.51 269.79 339.11 270.12 339.72 269.51 340.32 270.68 340.92 270.02 341.52 270.67 342.12 269.88 342.73 270.6 343.33 270.98 343.93 270.76 344.53 269.72 345.13 270.53 345.74 270.33 346.34 271.03 346.94 270.69 347.54 271.35 348.14 270.59 348.74 270.03 349.35 270.11 349.95 271.06 350.55 270.08 351.15 270.59 351.75 271.48 352.36 270.52 352.96 270.12 353.56 270.91 354.16 270.69 354.76 269.98 355.37 270.87 355.97 270.61 356.57 270.84 357.17 270.23 357.77 271.03 358.38 270.29 358.98 271.08 359.58 270.02 360.18 270.66 360.78 270.67 361.38 269.94 361.99 269.66 362.59 270.2 363.19 270.16 363.79 270.22 364.39 270.45 365 271.52 365.6 270.6 366.2 271.25" stroke="#800000"/>
</g>
<g clip-path="url(#c2)" fill="none" stroke-width="2.0833" stroke-linecap="square" stroke-linejoin="round">
<path d="M289.5 506.9 291.5 506.9" stroke="#00a8ff"/>
<path d="M519 506.9 525.1 506.9" stroke="#8aff6d"/>
<path d="M368.4 506.9 371.6 506.9" stroke="#ffdb00"/>
<path d="M443 506.9 469.4 506.9" stroke="#ff9f00"/>
<path d="M498.9 506.9 517 506.9" stroke="#ff9f00"/>
<path d="M706.6 506.9 734.8 506.9" stroke="#ff9f00"/>
<path d="M791.8 506.9 811.3 506.9" stroke="#ff7e00"/>
<path d="M471.4 506.9 496.9 506.9" stroke="#ff6000"/>
<path d="M137 506.9 271.3 506.9" stroke="#ff4300"/>
<path d="M650 506.9 704.6 506.9" stroke="#ff4300"/>
<path d="M99.7 506.9 134.5 506.9" stroke="#ed0400"/>
<path d="M527 506.9 648 506.9" stroke="#c80000"/>
<path d="M813.3 506.9 842.5 506.9" stroke="#c80000"/>
<path d="M373.6 506.9 441.1 506.9" stroke="#a40000"/>
<path d="M736.8 506.9 789.8 506.9" stroke="#a40000"/>
<path d="M273.3 506.9 289 506.9" stroke="#800000"/>
<path d="M303 506.9 366.4 506.9" stroke="#800000"/>
</g>
<g clip-path="url(#c3)" fill="none" stroke-width="2.0833" stroke-linecap="square" stroke-linejoin="round">
<path d="M330 671.25 330.6 671.03 331.2 671.1 331.8 670.83 332.4 671.28 333 670.29 333.6 671.35 334.2 670.79 334.8 670.83 335.4 670.48 336 670.25 336.6 670.71 337.2 671.18 337.8 671.02 338.4 671.24 339 670.81 339.6 670.98 340.2 670.84 340.8 670.47 341.4 670.86 342 670.72 342.6 671.21 343.2 670.81 343.8 670.88 344.4 671.11 345 671.26 345.6 670.85 346.2 670.84 346.8 670.96 347.4 671.3 348 670.52 348.6 670.46 349.2 672.05 349.8 670.84 350.4 670.94 351 670.07 351.6 670.72 352.2 670.84 352.8 670.66 353.4 670.72 354 670.82 354.6 671.02 355.2 671.26 355.8 670.4 356.4 670.38 357 671.1 357.6 670.96 358.2 670.55 358.8 670.34 359.4 670.57 360 670.89 360.6 671.13 361.2 671.29 361.8 671.18 362.2 670.9 363.8 667 365.4 670.9 366 670.72 366.6 670.76 367.2 670.93 367.8 671.46 368.4 670.32 369 671.28 369.6 670.06 370.2 670.52 370.3 670.9 371.9 667 373.5 670.9 373.8 670.7 374.4 670.76 375 670.81 375.6 670.13 376.2 671.86 376.8 671.09 377.4 670.37 378 671.12 378.6 671.07 379.2 670.82 379.8 670.95 380.4 671.27 381 670.7 381.6 670.51 382.2 671.59 382.8 671.05 383.4 670.73 384 671.54 384.6 670.01 385.2 670.46 385.8 671.15 386.4 670.98 387 671.01 387.6 670.68 388.2 670.64 388.8 670.67 389.4 670.75 389.8 670.9 391.4 667 393 670.83 393 670.9 393.6 670.47 394.2 671.59 394.8 670.79 395.4 671.13 396 670.97 396.6 670.59 397.2 670.53 397.8 671.09 398.4 671.19 399 670.7 399.6 671.6 400.2 670.92 400.8 671.23 401.4 671.03 402 671.28 402.6 670.29 403.2 671.48 403.8 671.23 404.4 671.21 405 671.4 405.6 671.15 406 670.9 407.6 661.8 409.2 670.9 409.8 670.3 410.4 670.41 411 670.87 411.6 671.07 412.2 670.96 412.8 670.64 413.4 671.02 413.8 670.9 415.4 668.3 417 670.85 417 670.9 417.6 671.02 418.2 671.26 418.8 670.67 419.4 670.83 420 671.1 420.6 671.53 421.2 670.62 421.8 671.15 422.4 670.96 423 670.53 423.6 671.09 424.2 670.5 424.8 670.89 425.4 670.96 426 671.75 426.6 670.53 426.8 670.9 428.4 668 430 670.9 430.2 670.66 430.8 671.22 431.4 670.82 432 671.17 432.6 671.23 433.2 670.29 433.8 670.53 434.4 670.87 435 670.94 435.6 670.35 436.2 671.07 436.8 671.28 437.4 670.87 438 670.96 438.6 670.42 439.2 671.33 439.8 671.63 440.4 672 441 670.97 441.6 671.65 442.2 670.69 442.8 671.07 443.4 670.94 444 670.29 444.6 670.65 445.2 670.9 445.8 670.9 446.4 670.72 447 670.88 447.6 671.24 448.2 671.33 448.8 670 449.4 670.68 450 670.9 450.6 669.95 451.2 671.07 451.4 670.9 453 665.1 454.33 669.94" stroke="#0000ed"/>
<path d="M98.7 670.03 99.3 668.67 99.91 669.77 100.52 670.87 101.12 668.9 101.72 670.16 102.33 669.44 102.94 670.75 103.54 669.53 104.15 669.44 104.75 670.82 105.36 670.59 105.96 669.6 106.56 668.6 107.17 668.8 107.78 670.09 108.38 670.1 108.98 668.94 109.59 670.57 110.2 670.14 110.8 669.49 111.4 669.73 112.01 669.93 112.62 669.45 113.22 670.24 113.82 669.71 114.43 669.71 115.04 670.38 115.64 670.09 116.24 668.9 116.85 669.81 117.46 669.16 118.06 669.91 118.66 670.08 119.27 668.97 119.88 670.41 120.48 670.91 121.08 670.05 121.69 669.12 122.3 669.71 122.9 669.99 123.5 670.11 124.11 670.15 124.72 669.37 125.32 669.51 125.92 670.26 126.53 671.63 127.14 669.99 127.74 669.81 128.34 670.2 128.95 670.86 129.56 669.87 130.16 668.27 130.76 669.5 131.37 669.39 131.98 669.17 132.58 668.97 133.18 669.22 133.79 671.34 134.4 670.24 135 669.94" stroke="#0004ff"/>
<path d="M491 670.75 491.6 669.03 492.21 670.21 492.81 668.29 493.41 669.41 494.01 669.65 494.62 667.85 495.22 668.86 495.82 669.42 496.42 670.51 497.03 668.79 497.63 669.56 498.23 668.65 498.84 669.61 499.44 670.52 500.04 669.92 500.64 668.08 501.25 668.28 501.85 668.09 502.45 668.72 503.05 668.15 503.66 670.31 504.26 669.16 504.86 670.49 505.47 669.05 506.07 669.16 506.67 668.98 507.27 669.26 507.88 669.35 508.48 669.28 509.08 668.69 509.68 668.35 510.29 669.15 510.89 669.64 511.49 669.43 512.1 668.39 512.7 669.68 513.3 668.79 513.9 667.98 514.51 669.05 515.11 668.14 515.71 669.82 516.32 669.17 516.92 668.52 517.52 668.7 518.12 669.01 518.73 668.73 519.33 668.52 519.93 670.24 520.53 668.75 521.14 668.66 521.74 667.81 522.34 669.37 522.95 669.28 523.55 669.44 524.15 668.48 524.75 669.97 525.36 668.43 525.96 668.38 526.56 668.97 527.16 668.94 527.77 669.5 528.37 670.68 528.97 669.24 529.58 670.03 530.18 669.57 530.78 668.71 531.38 668.07 531.99 668.94 532.59 668.3 533.19 668.52 533.79 669.18 534.4 668.74 535 669.56 535.6 667.79 536.21 668.26 536.81 670.64 537.41 669.58 538.01 669.21 538.62 669.46 539.22 668.19 539.82 668.28 540.42 669.54 541.03 667.71 541.63 669.34 542.23 667.63 542.84 669.8 543.44 669.31 544.04 668.87 544.64 669.23 545.25 669.16 545.85 668.4 546.45 668.14 547.05 668.81 547.66 669.28 548.26 668.37 548.86 669.08 549.47 670.16 550.07 668.91 550.67 668.89 551.27 667.97 551.88 669.9 552.48 668.87 553.08 668.75 553.68 668.23 554.29 669.67 554.89 669.01 555.49 669.23 556.1 668.83 556.7 668.28 557.3 669.17 557.9 669.25 558.51 668.51 559.11 668.49 559.71 668.92 560.32 668.72 560.92 669.9 561.52 670.33 562.12 668.77 562.73 668.54 563.33 669.62 563.93 669.26 564.53 669.07 565.14 668.97 565.74 669.54 566.34 669.18 566.95 669.19 567.55 669.42 568.15 667.43 568.75 669.13 569.36 669.12 569.96 668.91 570.56 668.6 571.16 667.95 571.77 667.66 572.37 668.78 572.97 667.98 573.58 669.87 574.18 669.33 574.78 668.87 575.38 669.66 575.99 669.21 576.59 668.84 577.19 669.92 577.79 669.22 578.4 669.12 579 669.39" stroke="#0044ff"/>
<path d="M769 670.5 769.6 670.67 770.2 670 770.8 669.24 771.4 670.45 772 670.23 772.6 669.86 773.2 669.97 773.8 669.86 774.4 670.18 775 670.14 775.6 669.47 776.2 670.04 776.8 669.61 777.4 669.26 778 669.95 778.6 670.55 779.2 670.22 779.8 670.24 780.4 670.85 781 670.37 781.6 670.08 782.2 669.93 782.8 670.88 783.4 669.77 784 669.79 784.6 670.49 785.2 670.61 785.8 669.44 786.4 670.45 787 670.01 787.6 670.15 788.2 669.89 788.8 670.03 789.4 670.84 790 670.41 790.6 669.7 791.2 669.86 791.8 669.44 792.4 668.95 793 669.7 793.6 670.52 794.2 670.41 794.8 669.52 795.4 670 795.4 671.4 797 667.7 798.6 670 799 670.93 799.6 671.06 800.2 670.06 800.8 670.34 801.4 670.29 802 669.89 802.6 669.38 803.2 669.31 803.8 670.23 804.4 670.13 805 670.05 805.6 670.11 806.2 670.18 806.8 669.82 807.4 669.02 808 668.89 808.6 670.63 809.2 670.03 809.8 669.23 810.4 669.54 811 670.24 811.6 670.85 812.2 670.66 812.8 670.23 813.4 670.2 814 669.36 814.6 670.11 815.2 669.66 815.8 670.03 816.4 669.04 817 670.23 817.6 669.68 818.2 670.46 818.8 669.07 819.4 670.32 820 670.04 820.6 669.56 821.2 670.12 821.8 669.48 822.4 670.64 823 668.98 823.6 671.41 824.2 669.36 824.8 669.02 825.4 668.78 826 670.14 826.6 669.66 827.2 669.27 827.8 669.25 828.4 669 829 670.15 829.6 670.06 830.2 670.06 830.8 668.97 831.4 670.07 832 669.49 832.6 669.84 833.2 669.37 833.8 670.13 834.4 670.56 835 669.83 835.6 670.08 836.2 669.86 836.4 670 838 664.8 839.31 669.04" stroke="#0044ff"/>
<path d="M186 667.3 186.6 667.16 187.2 668.49 187.8 666.96 188.4 665.42 189 666.99 189.6 667.62 190.2 668.45 190.8 669.25 191.4 665.37 192 666.31 192.6 666.81 193.2 668.07 193.8 666.78 194.4 666.27 195 666.73 195.6 665.55 196.2 666.25 196.8 667.47 197.4 666.9 198 665.37 198.6 664.87 199.2 668.53 199.8 668.61 200.4 666.87 201 666.74 201.6 667.98 202.2 668.05 202.8 668.57 203.4 669.1 204 667.31 204.6 664.46 205.2 667.83 205.8 666.62 206.4 664.92 207 667.88 207.6 669.05 208.2 666.38 208.8 667.67 209.4 668.21 210 667.4 210.6 667.75 211.2 666.68 211.8 666.72 212.4 666.92 213 667.53 213.6 667.14 214.2 665.84 214.8 666.18 215.4 667.31 216 667.16 216.6 666.58 217.2 667.51 217.8 666.47 218.4 669.04 219 666.99 219.6 670.39 220.2 667.71 220.8 665.6 221.4 668.11 222 666.57 222.6 666.53 223.2 666.86 223.8 669.15 224.4 667.06 225 665.89 225.6 665.12 226.2 666.05 226.8 666.74 227.4 666.33 228 667.04 228.6 666.32 229.2 666.95 229.8 664 230.4 668.91 231 665.28 231.6 666.73 232.2 666.76 232.8 667.15 233.4 667.84 234 667.09 234.6 668.39 235.2 665.27 235.8 668.74 236.4 666.79 237 668.66" stroke="#0064ff"/>
<path d="M600.7 666.49 601.31 665.96 601.92 666.93 602.54 666.14 603.15 666.96 603.76 669.24 604.37 667.24 604.98 667.57 605.59 666.01 606.21 665.89 606.82 667.59 607.43 665.84 608.04 665.87 608.65 667.22 609.26 666.34 609.88 667.42 610.49 665.9 611.1 667.69 611.71 664.54 612.32 665.91 612.94 665.45 613.55 666.98 614.16 665.3 614.77 667.8 615.38 665.81 615.99 667.76 616.61 666.76 617.22 667.84 617.83 667.94 618.44 666.21 619.05 666.94 619.66 667.55 620.28 666.96 620.89 668.1 621.5 668.11" stroke="#0064ff"/>
<path d="M425 669.13 425.6 670.27 426.21 669.51 426.81 669.91 427.41 669.33 428.01 670.91 428.62 669.32 429.22 669.89 429.82 669.64 430.42 670.89 431.03 669.95 431.63 669.29 432.23 669.6 432.83 669.38 433.44 669.34 434.04 669.74 434.64 669.09 435.24 670.17 435.85 668.9 436.45 669.84 437.05 670.18 437.65 670.05 438.26 670.72 438.86 669.92 439.46 670.33 440.06 669.52 440.67 670.74 441.27 668.58 441.87 669.95 442.47 669.4 443.08 670.25 443.68 669.32 444.28 669.77 444.88 670.03 445.49 669.36 446.09 669.84 446.69 670.11 447.29 669.64 447.9 669.52 448.5 669.8 449.1 670.75 449.71 669.42 450.31 670.28 450.91 668.78 451.51 669.32 452.12 669.86 452.72 670.23 453.32 669.69 453.92 669.95 454.53 669.09 455.13 669.34 455.73 670.19 456.1 669.8 457.7 663.5 459.3 669.8 459.35 669.72 459.95 670.07 460.55 669.23 461.15 670.2 461.76 669.88 462.36 669.65 462.96 668.8 463.56 669.39 464.17 669.04 464.77 670.28 465.37 669.49 465.97 670.63 466.58 670.05 467.18 669.44 467.78 670.48 468.38 670.44 468.99 669.94 469.59 668.86 470.19 670.16 470.79 670.23 471.4 670.1 472 669.39" stroke="#0088ff"/>
<path d="M268 672.16 268.61 671.52 269.22 671.16 269.83 669.86 270.44 671.79 271.06 672.67 271.67 672.69 272.28 671.5 272.89 670.83 273.5 671.76 274.11 669.99 274.72 670.91 275.33 671.58 275.94 671.48 276.56 671.44 277.17 670.3 277.78 670.05 278.39 671.38 279 671.77 279.61 671 280.22 670.51 280.83 671.43 281.44 671.97 282.06 671.23 282.67 670.65 283.28 672.39 283.89 671.83 284.5 671.06 285.11 671.17 285.72 670.69 286.33 672.08 286.94 670.82 287.56 670.51 288.17 671.17 288.78 672.57 289.39 669.26 290 670.4" stroke="#00c8ff"/>
<path d="M563 667.89 563.62 668.53 564.23 667.86 564.85 668.93 565.46 669.12 566.08 668.52 566.69 668.17 567.31 668.49 567.92 668.25 568.54 668 569.15 668.15 569.77 668.47 570.38 668.91 571 668.65 571.62 667.92 572.23 667.31 572.85 667.8 573.46 668.06 574.08 668.94 574.69 668.25 575.31 667.41 575.92 669.09 576.54 669.06 577.15 668.47 577.77 667.58 578.38 668.11 579 668.49" stroke="#1fffd7"/>
<path d="M372 667.62 372.62 665.82 373.23 666.56 373.85 667.55 374.46 667.01 374.8 667 376.4 665.6 378 667 378.15 667.19 378.77 666.72 379.38 665.44 380 666.96" stroke="#39ffbe"/>
<path d="M508.4 670.61 509.01 671.02 509.61 671.58 510.22 669.99 510.7 671 511.9 642.6 513.1 671 513.25 670.52 513.86 671.03 514.47 671.84 515.07 670.74 515.68 671.59 516.29 670.4 516.89 670.78 517.5 670.77 518.11 671.43 518.71 671.11 519.32 671.83 519.93 670.99 520.53 670.87 521.14 671.28 521.75 670.45 522.35 670.66 522.96 670.68 523.57 670.95 524.17 670.42 524.78 669.91 525.39 669.93 525.99 670.34 526.6 671.7" stroke="#6dff8a"/>
<path d="M238.79 666.65 239.2 664.54 239.81 667.04 240.41 664.64 241.02 667.59 241.62 664.18 242.23 665.28 242.83 665.41 243.44 663.46 244.04 667.31 244.65 664.18 245.25 664.5 245.86 665.47 246.46 667.17 247.07 665.14 247.67 668.79 248.28 666.17 248.88 665.82 249.48 666.78 250.09 666.03 250.69 664.82 251.3 665.49 251.9 666.42 252.51 668.25 253.11 666.54 253.72 666.82 254.32 663.29 254.93 665.85 255.53 666.16 256.14 668.49 256.74 668.27 257.35 666.35 257.95 666.89 258.56 666.11 259.16 665.25 259.76 666.22 260.37 665.71 260.97 666.62 261.58 667.09 262.18 665.94 262.79 667.65 263.39 664.73 264 666.22 264.6 666.46 265.21 663.81 265.81 667.01 266.42 667.13 267.02 668.44 267.63 666.14 268.23 666.99 268.84 667.05 269.44 664.07 270.04 666.59 270.65 664.32 271.25 666.58 271.86 667.15 272.46 666.56 273.07 663.53 273.67 668.11 274.28 666.6 274.88 667.5 275.49 665.31 276.09 665.69 276.7 668.92 277.3 665.95 277.91 665.64 278.51 665.72 279.12 667.51 279.72 664.15 280.32 665.79 280.93 665.04 281.53 669.46 282.14 667.61 282.74 666.34 283.35 666.51 283.95 665.91 284.56 665.63 285.16 665.99 285.77 668.51 286.37 665.82 286.98 665.85 287.58 666.61 288.19 668.13 288.79 666.83 289.4 664.82 290 666.29" stroke="#8aff6d"/>
<path d="M303 667.33 303.6 667.33 304.2 665.79 304.81 666.59 305.41 666.6 306.01 666.67 306.61 669.44 307.22 666.23 307.82 666.22 308.42 666 309.02 667.95 309.62 666.06 310.23 666.49 310.83 667.74 311.43 667.59 312.03 665.33 312.64 668.96 313.24 666.96 313.84 667.84 314.44 667.03 315.05 668.83 315.65 666.15 316.25 665.79 316.85 667.14 317.45 668.41 318.06 666.59 318.66 667.79 319.26 668.65 319.86 664.77 320.47 668.42 321.07 668.11 321.67 665.99 322.27 666.55 322.88 666.01 323.48 667.7 324.08 665.82 324.68 667.47 325.28 668.44 325.89 664.35 326.49 667.19 327.09 666.53 327.69 665.99 328.3 667.21 328.9 666.46 329.5 664.61 330.1 665.84 330.7 666.59 331.31 665.64 331.91 664.87 332.51 669.84 333.11 668.51 333.72 668.31 334.32 666.76 334.92 663.92 335.52 666.24 336.12 667.31 336.73 666.02 337.33 665.84 337.93 667.06 338.53 669.39 339.14 667.04 339.74 666.81 340.34 665.71 340.94 668.66 341.55 667.14 342.15 666.66 342.75 666.34 343.35 665.99 343.95 667.08 344.56 669.48 345.16 666.9 345.76 667.53 346.36 665.84 346.97 667.25 347.57 664.98 348.17 668.73 348.77 666.17 349.38 667.52 349.98 667.05 350.58 668.75 351.18 667.66 351.78 667.71 352.39 664.79 352.99 665.44 353.59 665.39 354.19 665.47 354.8 665.6 355.4 667.88 356 666.61" stroke="#8aff6d"/>
<path d="M704.7 670.55 705.3 671.6 705.9 672.19 706.51 670.56 707.11 670.41 707.71 671.45 708.31 670.65 708.91 671.25 709.51 671.88 710.12 671.05 710.72 671.47 711.32 668.74 711.92 671.44 712.52 670.47 713.13 669.85 713.73 670.48 714.33 669.65 714.93 669.66 715.53 668.97 716.14 670.09 716.74 669.51 717.34 669.96 717.94 671.25 718.54 670.65 719.14 669.57 719.75 670.96 720.35 671.4 720.95 670.62 721.55 670.61 722.15 670.51 722.76 669.79 723.36 671.43 723.96 670.97 724.56 670.52 725.16 670.54 725.76 670.46 726.37 671.78 726.97 670.34 727.57 669.21 728.17 670.69 728.77 671.29 729.38 671.11 729.98 670.26 730.58 669.26 731.18 672.24 731.78 669.77 732.39 670.67 732.99 670.43 733.59 670.03 734.19 670.2 734.79 669.65 735.39 669.81 736 670.13 736.6 670.43 736.92 671.53" stroke="#8aff6d"/>
<path d="M398 670 398.62 670.36 399.25 669.46 399.88 670.62 400.5 669.91 401.1 670 403.1 664.4 405.1 670 405.5 670.02 406.12 670.03 406.75 669.81 407.38 670.29 408 669.84" stroke="#a4ff53"/>
<path d="M98.7 670.87 99.3 669.87 99.9 671.98 100.5 672.1 101.11 671.25 101.71 671.79 102.31 672.87 102.91 672.35 103.51 672.07 104.11 672.05 104.72 670.81 105.32 672.27 105.92 670.18 106.52 671.23 107.12 671.15 107.72 670.12 108.33 671.41 108.93 672.81 109.53 671.23 110.13 670.53 110.73 671.43 111.33 672.18 111.93 671.65 112.54 671.5 113.14 670.37 113.74 671.9 114.34 671.89 114.94 672.57 115.54 672.69 116.15 672.05 116.75 670.19 117.35 670.35 117.95 670.62 118.55 671.74 119.15 670.87 119.76 672.55 120.36 671.7 120.96 671.79 121.56 672.1 122.16 671.77 122.76 670.37 123.36 673.46 123.97 672.67 124.57 672.72 125.17 670.9 125.77 670.02 126.37 670.29 126.97 670.66 127.58 672.21 128.18 672.22 128.78 672.67 129.38 673.21 129.98 671.92 130.58 671.78 131.18 671.21 131.79 671.23 132.39 670.57 132.99 671.91 133.59 671.75 134.19 671.18 134.79 670.85 135.4 671.87 136 672.54 136.6 671.57 137.2 671.73 137.8 671.06 138.4 671.3 139.01 671.25 139.61 671.27 140.21 671.02 140.81 671.82 141.41 672.54 142.01 670.74 142.61 672.62 143.22 671.18 143.82 671.21 144.42 669.77 145.02 669.56 145.62 672.09 146.22 670.63 146.83 672.14 147.43 671.54 148.03 671.7 148.63 672.57 149.23 671.44 149.83 668.89 150.44 670.11 151.04 672.28 151.64 673.1 152.24 671.42 152.84 670.94 153.44 670.39 154.04 671.94 154.65 670.06 155.25 670.5 155.85 671.61 156.45 671.58 157.05 671.29 157.65 672.35 158.26 670.51 158.86 670.55 159.46 671.17 160.06 671.55 160.66 671.23 161.26 673.09 161.87 671.02 162.47 672.01 163.07 671.03 163.67 671.76 164.27 671.15 164.87 671.19 165.47 672.8 166.08 671.23 166.68 672.87 167.28 670.91 167.88 671.12 168.48 672.39 169.08 669.52 169.69 670.16 170.29 671.51 170.89 671.88 171.49 671.96 172.09 671.24 172.69 670.34 173.29 672.17 173.9 671.86 174.5 670.59 175.1 671.57 175.7 672.96 176.3 671.6 176.9 670.54 177.51 671.15 178.11 671.2 178.71 671.78 179.31 672.23 179.91 670.74 180.51 670.97 181.12 672.32 181.72 672.1 182.32 672.6 182.92 670.31 183.52 670.72 184.12 672.31 184.72 670.72 185.33 671.76 185.93 671.45 186.53 670.89 187.13 672.69 187.73 671.49 188.33 671.08 188.94 671.37 189.54 671.7 190.14 670.22 190.74 670.79 191.34 670.45 191.94 669.78 192.55 672.29 193.15 672.66 193.75 672.47 194.35 670.06 194.95 671.82 195.55 672.05 196.15 671.03 196.76 672.16 197.36 670.59 197.96 670.62 198.56 670.82 199.16 670.91 199.76 670.68 200.37 672.28 200.97 670.63 201.57 671.12 202.17 670.98 202.77 673.28 203.37 670.77 203.98 671.88 204.58 672.97 205.18 670.54 205.78 670.82 206.38 671.23 206.98 670.42 207.58 672.49 208.19 671.11 208.79 672.35 209.39 671.93 209.99 671.51 210.59 672.27 211.19 671.25 211.8 672.35 212.4 670.44 213 670.9 213.6 672.47 214.2 669.81 214.8 671.88 215.41 671.17 216.01 671.06 216.61 670.94 217.21 672.53 217.81 670.27 218.41 672.17 219.01 671.88 219.62 671.16 220.22 671.43 220.82 672.07 221.42 671.02 222.02 670.28 222.62 671.73 223.23 670.82 223.83 671.17 224.43 671.54 225.03 672.09 225.63 672.95 226.23 671.77 226.83 671.59 227.44 672.16 228.04 671.73 228.64 670.15 229.24 671.02 229.84 670.51 230.44 672.06 231.05 672.52 231.65 671.78 232.25 670.67 232.85 672.14 233.45 670.73 234.05 671.7 234.66 670.54 235.26 670.39 235.86 670.38 236.46 671.51 237.06 670.97 237.66 671.85 238.26 670.46 238.87 671.89 239.47 671 240.07 672.5 240.67 672.32 241.27 671.33 241.87 671.59 242.48 671.69 243.08 671.87 243.68 671.28 244.28 672.38 244.88 671.09 245.48 669.96 246.09 671.7 246.69 671.41 247.29 672.17 247.89 671.98 248.49 671.6 249.09 671.59 249.69 671.6 250.3 670.97 250.9 670.53 251.5 670.84 252.1 671.43 252.7 669.69 253.3 671.15 253.91 670.71 254.51 671.43 255.11 670.85 255.71 671.55 256.31 671.32 256.91 672.54 257.52 671.23 258.12 671.31 258.72 671.52 259.32 670.05 259.92 670.64 260.52 672.65 261.12 671.91 261.73 671.57 262.33 672.37 262.93 671.36 263.53 671.3 264.13 671.26 264.73 670.08 265.34 672.25 265.94 671.35 266.54 671.42 267.14 671.23 267.74 670.99 268.34 669.69 268.94 671.62 269.55 673.24 270.15 672.29 270.75 671.27 271.35 670.76 271.95 671.52 272.55 671.8 273.16 671.4 273.76 672.17 274.36 670.74 274.96 672.35 275.56 671.62 276.16 671.06 276.77 671.27 277.37 671.78 277.97 672.11 278.57 671.56 279.17 671.97 279.77 673.42 280.37 670.19 280.98 669.9 281.58 671.57 282.18 670.73 282.78 671.59 283.38 670.21 283.98 671.61 284.59 672.55 285.19 672.39 285.79 670.62 286.39 671.25 286.99 672.21 287.59 672.96 288.2 670.74 288.8 670.82 289.4 672.39 290 671.21" stroke="#f4f802"/>
<path d="M303 672.38 303.6 673.3 304.2 672.57 304.8 671.35 305.41 671.64 306.01 672.52 306.61 671.97 307.21 672.72 307.81 670.83 308.41 673.27 309.01 673.13 309.62 671.13 310.22 671.82 310.82 671.64 311.42 671.78 312.02 672.6 312.62 671.71 313.22 671.47 313.83 672.45 314.43 672.84 315.03 671.77 315.63 672.22 316.23 671.17 316.83 672.65 317.43 673.43 318.04 672.41 318.64 672.01 319.24 670.8 319.84 671.85 320.44 670.79 321.04 672.53 321.64 673.15 322.25 672.91 322.85 672.15 323.45 672.35 324.05 671.63 324.65 672.19 325.25 672.19 325.85 672.04 326.46 670.39 327.06 672.2 327.66 672.31 328.26 671.56 328.86 672.29 329.46 672.52 330.06 670.69 330.67 672.57 331.27 671.69 331.87 671.28 332.47 672.08 333.07 671.49 333.67 671.68 334.27 671.34 334.88 671.54 335.48 671.21 336.08 671.59 336.68 671.28 337.28 671.12 337.88 672.63 338.48 671.99 339.09 672.24 339.69 673.05 340.29 672.39 340.89 671.99 341.49 671.3 342.09 672.48 342.69 672.28 343.3 672.63 343.9 671.91 344.5 671.76 345.1 670.69 345.7 672.33 346.3 671.02 346.9 671.67 347.51 672.28 348.11 672.01 348.71 671.91 349.31 672.24 349.91 670.86 350.51 672 351.11 672.75 351.72 672.68 352.32 671.03 352.92 672.55 353.52 672.23 354.12 671.35 354.72 671.12 355.32 671.87 355.93 672.82 356.53 672.26 357.13 671.37 357.73 672.03 358.33 672.61 358.93 671.91 359.53 671.67 360.14 672.25 360.74 670.66 361.34 672.23 361.94 671.11 362.54 671.91 363.14 672.18 363.74 671.87 364.35 671.49 364.95 671.72 365.55 672.47 366.15 671.12 366.75 671.4 367.35 672.16 367.95 672.46 368.56 671.95 369.16 671.63 369.76 672.4 370.36 671.72 370.96 673.24 371.56 672.79 372.16 673.14 372.77 671.37 373.37 671.67 373.97 671.8 374.57 671.19 375.17 671.64 375.77 672.56 376.37 671.34 376.98 671.79 377.58 672.9 378.18 672.16 378.78 672.28 379.38 671.98 379.98 671.58 380.58 671.74 381.19 672.13 381.79 671.61 382.39 672 382.99 671.69 383.59 671.92 384.19 672.94 384.79 672.36 385.4 671.16 386 671.86 386.6 673.12 387.2 673.1 387.8 671.25 388.4 672.25 389 671.98 389.6 670.41 390.21 672.16 390.81 673.22 391.41 671.53 392.01 671.79 392.61 672.57 393.21 671.7 393.81 671.7 394.42 672.15 395.02 671.08 395.62 672.29 396.22 671.16 396.82 672.01 397.42 672.49 398.02 673.01 398.63 671.5 399.23 672.12 399.83 672.13 400.43 670.86 401.03 671.92 401.63 672.12 402.23 672.32 402.84 673.21 403.44 672.05 404.04 671.95 404.64 671.93 405.24 671.97 405.84 672.28 406.44 672.96 407.05 671.33 407.65 672 408.25 670.5 408.85 670.95 409.45 672.08 410.05 670.67 410.65 672.18 411.26 672.77 411.86 671.44 412.46 671.53 413.06 671.98 413.66 671.65 414.26 671.94 414.86 671.54 415.47 672.5 416.07 672.16 416.67 671.93 417.27 670.58 417.87 671.53 418.47 671.99 419.07 672.4 419.68 671.56 420.28 672.34 420.88 672.49 421.48 671.6 422.08 672.42 422.68 671.86 423.28 671.29 423.89 671.94 424.49 672.77 425.09 672.21 425.69 671.98 426.29 672.48 426.89 672.41 427.49 672.09 428.1 670.84 428.7 670.42 429.3 670.97 429.9 672.97 430.5 672.38 431.1 671 431.7 672.43 432.31 671.08 432.91 672.05 433.51 672.5 434.11 671.86 434.71 672.42 435.31 672.46 435.91 670.89 436.52 671.87 437.12 672.21 437.72 671.6 438.32 671.08 438.92 672.79 439.52 672.06 440.12 671.54 440.73 671.35 441.33 671.86 441.93 672.61 442.53 671.6 443.13 672.2 443.73 672.08 444.33 671.77 444.94 671.92 445.54 671.95 446.14 671.34 446.74 671.05 447.34 672.33 447.94 672.79 448.54 672.27 449.15 671.41 449.75 671.94 450.35 671.61 450.95 671.09 451.55 671.32 452.15 671.59 452.75 672.26 453.36 671.25 453.96 672.61 454.56 671.95 455.16 672.65 455.76 672.53 456.36 672.06 456.96 672.01 457.57 672.13 458.17 672.13 458.77 672.38 459.37 673.06 459.97 672.34 460.57 672.91 461.17 672.53 461.78 671.75 462.38 672.27 462.98 672.35 463.58 672.49 464.18 671.74 464.78 672.62 465.38 671.61 465.99 671.86 466.59 672.36 467.19 672.06 467.79 671.45 468.39 671.19 468.99 671.65 469.59 671.54 470.2 673.24 470.8 671.33 471.4 671.11 471.73 672.32" stroke="#f4f802"/>
<path d="M441.4 670.68 442 671.29 442.6 671.07 443.2 669.8 443.8 671.22 444.4 670.86 445 670.69 445.6 671.19 446.2 671.49 446.8 670.98 447.4 670.15 448 670.67 448.6 671.25 449.2 671.37 449.8 670.44 450.4 670.24 451 670.97 451.6 671.82 452.2 671.97 452.8 671.26 453.4 669.98 454 671.82 454.6 671.6 455.2 671.03 455.8 670.4 456.4 671.08 457 671.68 457.6 671.53 458.2 671.14 458.8 671.04 459.4 670.33 460 670.39 460.6 670.89 461.2 672.14 461.8 671.53 462.4 671.43 463 671.48 463.6 672.09 464.2 671.18 464.8 671.88 465.4 670.26 466 671.41 466.6 670.89 467.2 671.73 467.8 672.63 468.4 670.83 469 671.17 469.6 668.96 470.2 671.43 470.8 671.2 471.4 671.1 472 670.26" stroke="#ffbd00"/>
<path d="M497.3 670.81 497.91 672.38 498.52 670.8 499.14 671.16 499.75 671.39 500.36 671.44 500.97 671.77 501.58 671.18 502.2 671.73 502.81 670.46 503.42 671.37 504.03 671.25 504.65 670.8 505.26 671.1 505.87 670.47 506.48 670.8 507.09 671.32 507.71 670.86 508.32 670.68 508.93 670.43 509.54 671.73 510.15 671.74 510.77 671.25 511.38 671.21 511.99 669.9 512.6 671.79 513.22 671.94 513.83 671.63 514.44 671.75 515.05 670.23 515.66 671.38 516.28 670.46 516.89 672.23 517.5 670.65" stroke="#ffbd00"/>
<path d="M659.47 664.88 659.8 666.1 660.41 664.85 661.01 663.8 661.61 667.26 662.22 663.47 662.82 664.21 663.42 666.83 664.02 663.71 664.63 665.01 665.23 664 665.83 666.45 666.44 665.3 667.04 663.58 667.64 663.94 668.25 666.6 668.85 664.91 669.4 664.8 671 669 672.6 664.8 673.07 664.33 673.67 663.02 674.28 664.77 674.88 665.24 675.48 665.65 676.09 666.63 676.69 663.26 677.29 665.54 677.9 663.96 678.5 665.36 679.1 665.39 679.7 664.47 680.31 665.14 680.91 664.72 681.51 664.58 682.12 667.79 682.72 663.47 683.32 664 683.93 663.9 684.53 665.58 685.13 664.58 685.74 665 686.34 666.88 686.94 664.07 687.54 663.85 688.15 668.06 688.75 662.5 689.35 664.06 689.96 661.29 690.56 663.18 691.16 665.09 691.77 667.03 692.37 663.16 692.97 662.89 693.58 664.36 694.18 664.83 694.78 664.01 695.38 663.79 695.99 666.87 696.59 665.01 697.19 665.8 697.8 662.99 698.4 664.28 699 662.22 699.61 665.28 700.21 664.32 700.81 664.36 701.42 665.04 702.02 662.2 702.62 662.4 703.22 665.36 703.83 663.79 704.43 666.03 705.03 664.14 705.64 662.59 706.24 663.37 706.84 663.49 707.45 664.68 708.05 664.3 708.65 664.58 709.26 663.1 709.86 664.14 710.46 666.59 711.06 666.22 711.67 663.37 712.2 664.8 713.8 672.2 715.4 664.8 715.89 662.93 716.49 664.47 717.1 665.72 717.7 665.93 718.3 665.23 718.9 663.91 719.51 666.24 720.11 666.94 720.71 666.27 721.32 665.43 721.92 664.31 722.52 664.36 723.13 664.81 723.73 663.71 724.33 663.73 724.94 663.77 725.54 667.13 726.14 663.8 726.74 664.62 727.35 663.15 727.95 663.2 728.55 666.39 729.16 664.33 729.76 664.18 730.36 664.9 730.97 666.36 731.57 666.14 732.17 663.85 732.78 665 733.38 665.51 733.98 665.6 734.58 664.25 735.19 666.7 735.79 664.21 736.39 660.83 737 666.53 737.6 664.8 738.2 662.82 738.81 663.62 739.41 666.51 740.01 663.76 740.62 664.15 741.22 663.62 741.82 667.56 742.42 665 743.03 666.76 743.63 666.87 744.23 664.55 744.84 663.91 745.44 664.24 746.04 663.14 746.65 665.59 747.25 666.33 747.85 667.59 748.46 662.46 749.06 663.91 749.66 664.88 750.26 667.86 750.87 664.61 751.47 665.46 752.07 664.12 752.68 663.71 753.28 665 753.88 664.83 754.49 666.72 755.09 663.06 755.69 664.52 756.3 664.48 756.9 664.89 757.5 666.4 758.1 667.16 758.71 664.31 759.31 663.61 759.91 663.99 760.52 665.57 761.12 663.01 761.72 668.92 762.33 663.77 762.93 666.1 763.53 665.31 764.14 666.99 764.74 664.64 765.34 663.26 765.94 665.35 766.55 663.09 767.15 662.71 767.75 666.69 768.36 665.74 768.96 664.99 769.56 665.15 770.17 663.52 770.77 664.66 771.37 664.8 771.98 662.2 772.58 663.84 773.18 666.88 773.78 665.27 774.39 664.27 774.99 663.85 775.59 661.54 776.2 663.99 776.8 664.99" stroke="#ff9f00"/>
<path d="M790.5 670.5 791.11 670.38 791.73 670.72 792.34 670.19 792.96 671.22 793.57 670.88 794.18 671.04 794.8 670.56 795.41 671.62 796.02 670.53 796.64 670.45 797.25 671.01 797.87 670.07 798.48 670.36 799.09 670.99 799.71 670.35 800.32 669.84 800.94 670.71 801.55 671.12 802.16 670.71 802.78 671.19 803.39 670.54 804.01 670.12 804.62 670.54 805.23 670.83 805.85 670.8 806.46 670.92 807.08 671.18 807.69 671.55 808.3 670.95 808.92 671.39 809.53 671.32 810.14 671.61 810.76 671.78 811.37 672.05 811.99 671.57 812.6 671.63" stroke="#ff7e00"/>
<path d="M98.7 669.24 99.3 670.17 99.91 670.52 100.51 671.23 101.12 669.79 101.72 670.43 102.33 670.36 102.5 670.5 103.8 659.6 105.1 670.5 105.35 670.65 105.95 670.59 106.56 670.38 107.16 668.98 107.77 670.5 108.37 671.4 108.98 668.96 109.58 671.61 110.18 669.68 110.79 669.89 111.39 671.39 112 670.59 112.6 670.19 113.21 669.65 113.81 670.03 114.42 671.37 115.02 670.78 115.62 670.69 116.23 669.58 116.83 670.7 117.44 669.41 118.04 671.12 118.65 670.61 119.25 671.03 119.85 671.27 120.46 668.94 121.06 670.51 121.67 670.3 122.27 670.32 122.88 669.93 123.48 670.86 124.09 669.94 124.69 670.83 125.29 669.94 125.9 669.74 126.5 669.66 127.11 669.43 127.71 670.29 128.32 670.85 128.92 670.98 129.4 670.5 130.7 662 132 670.5 132.55 671.54 133.15 670.21 133.76 670.48 134.36 670.49 134.97 670.2 135 670.5 136.3 661 137.6 670.5 137.99 670.25 138.59 670.31 139.2 669.94 139.8 669.33 140.41 671.2 141.01 670.57 141.61 671.44 142.22 671.27 142.82 670.76 143.43 670.62 144.03 670.14 144.64 671.02 145.24 671.32 145.85 670.9 146.45 669.5 147.05 671.65 147.66 669.81 148.26 671.16 148.87 670.63 149.47 670.43 150.08 671.41 150.68 671.62 151.2 670.5 152.8 664 154.4 670.5 154.91 669.44 155.52 670.44 156.12 671.04 156.72 669.34 157.33 671 157.93 671.02 158.54 671.12 159.14 670.68 159.75 670.95 160.35 670.42 160.96 669.69 161.56 669.86 162.16 670 162.77 669.29 163.37 670.9 163.98 669.76 164.58 671.29 165.19 670.93 165.79 670.35 166.4 670.72 167 669.69" stroke="#ff6000"/>
<path d="M470.7 669.71 471.3 670.08 471.91 671.07 472.51 670.42 473.12 670.85 473.72 670.65 474.33 669.92 474.93 670.63 475.54 670.11 476.14 670.11 476.75 670.36 477.35 669.38 477.95 671.02 478.56 669.9 479.16 670.9 479.77 670.38 480.37 671.22 480.98 669.9 481.58 670.11 482.19 670.5 482.79 668.98 483.4 670.8 484 671.22 484.6 670.98 485.21 670.75 485.81 670.21 486.42 671.07 487.02 670.94 487.63 670.54 488.23 670.3 488.84 670.08 489.44 669.56 490.05 671.04 490.65 669 491.25 670.08 491.86 670.4 492.46 670.82 493.07 671.36 493.67 670.9 494.28 670.13 494.88 670.74 495.49 669.54 496.09 671.16 496.7 670.21 497.3 669.9" stroke="#ff6000"/>
<path d="M150 670.09 150.6 669.9 151.2 669.52 151.81 669.47 152.41 670.87 153.01 670.73 153.61 669.58 154.21 671.06 154.82 669.95 155.42 671.08 156.02 669.45 156.62 670.47 157.22 668.96 157.83 670.35 158.43 671 159.03 670.24 159.63 669.76 160.23 670.96 160.84 670.99 161.44 670.63 162.04 671.19 162.64 670.3 163.24 669.94 163.85 670.46 164.45 670.5 165.05 669.39 165.65 670.06 166.26 669.67 166.86 669.45 167.46 669.05 168.06 669.6 168.66 671.21 169.27 670.05 169.87 669.06 170.47 669.52 171.07 671.33 171.67 670.81 172.28 670.23 172.88 670.66 173.48 670 174.08 670.19 174.68 670.9 175.29 670.82 175.89 670.15 176.49 670.57 177.09 670.09 177.69 670.26 178.3 670.29 178.9 671.3 179.5 670.16 180.1 670.96 180.7 670.62 181.31 668.98 181.91 670.24 182.51 669.39 183.11 670.61 183.71 671.27 184.32 671.21 184.92 669.19 185.52 670.61 186.12 670.03 186.72 669.78 187.33 670.58 187.93 670.49 188.53 670.7 189.13 670.96 189.73 670.64 190.34 671.14 190.94 670.25 191.54 668.98 192.14 670.37 192.74 670.37 193.35 669.7 193.95 669.7 194.55 669.7 195.15 669.5 195.76 669.59 196.36 669.96 196.96 670.45 197.56 669.85 198.16 670.31 198.77 671.58 199.37 669.49 199.97 669.94 200.57 669.36 201.17 669.47 201.78 670.45 202.38 670.49 202.98 670.04 203.58 670.47 204.18 669.8 204.79 670.7 205.39 669.91 205.99 670.2 206.59 670.92 207.19 670.22 207.8 670.57 208.4 670.19 209 669.84 209.6 671.01 210.2 669.96 210.81 669.02 211.41 670.23 212.01 670.02 212.61 669.87 213.21 671.02 213.82 671.1 214.42 669.04 215.02 671.11 215.62 670.69 216.22 670.39 216.83 670.53 217.43 670.19 218.03 670.38 218.63 669.73 219.23 670.42 219.84 670.47 220.44 669.42 221.04 669.73 221.64 670.69 222.24 669.65 222.85 668.81 223.45 670.78 224.05 670.85 224.65 670.68 225.26 670.45 225.86 671.16 226.46 671.09 227.06 669.79 227.66 669.46 228.27 671.2 228.87 670.25 229.47 669.81 230.07 670.16 230.67 669.51 231.28 670.39 231.88 669.88 232.48 671.59 233.08 669.88 233.68 670.57 234.29 671.34 234.89 671.01 235.49 670.64 236.09 670.43 236.69 671.32 237.3 672.13 237.9 671.18 238.5 669.55 239.1 669.23 239.7 670.27 240.31 670.12 240.91 671.25 241.51 670.61 242.11 670.25 242.71 669.98 243.32 670.1 243.92 671.49 244.52 671.3 245.12 670.23 245.72 669.36 246.33 669.86 246.93 669.96 247.53 670.21 248.13 669.79 248.73 670.53 249.34 670.58 249.94 669.81 250.54 668.78 251.14 670.12 251.74 670.19 252.35 670.84 252.95 670.15 253.55 670.42 254.15 670.76 254.76 669.47 255.36 669.68 255.96 670.88 256.56 670.16 257.16 670.88 257.77 671.56 258.37 669.32 258.97 670.62 259.57 670.98 260.17 670.44 260.78 669.52 261.38 670.83 261.98 670.24 262.58 669.92 263.18 670.21 263.79 670.31 264.39 670.29 264.99 669.53 265.59 670.6 266.19 670.55 266.8 670.04 267.4 669.96 268 669.42" stroke="#ff4300"/>
<path d="M649.4 668.79 650 668.67 650.6 670.18 651.2 670.05 651.8 669.79 652.41 669.97 653.01 670 653.61 669.47 654.21 669.71 654.81 669.66 655.41 669.12 656.01 669.39 656.61 669.5 657.21 670.49 657.82 670.13 658.42 670.55 659.02 670.2 659.62 670.32 660.22 670.48 660.82 670.21 661.42 670.27 662.02 671.15 662.62 670.04 663.22 669.56 663.83 670.74 664.43 670.02 665.03 670.53 665.63 669.18 666.23 669.56 666.83 670.82 667.43 670.21 668.03 669.56 668.63 670.56 669.24 670.25 669.84 670.13 670.44 671.33 671.04 669.42 671.2 670.3 672.8 672.9 674.4 670.3 674.4 670.3 676 664.4 677.6 670.3 677.65 669.96 678.25 669.45 678.85 671.23 679.45 670.19 680.06 670.03 680.66 671.21 681.26 671.1 681.86 670.61 682.46 670.25 683.06 670.19 683.66 670.8 684.26 670.34 684.86 670.12 685.47 671.15 686.07 670.16 686.67 668.92 687.27 670.66 687.87 669.59 688.47 670.49 689.07 669.24 689.67 669.97 690.27 670.16 690.88 669.86 691.48 670.11 692.08 669.8 692.68 670.04 693.28 671.05 693.88 670.44 694.48 671 695.08 669.78 695.68 670.22 696.28 671.66 696.89 670.13 697.49 670.38 698.09 671.57 698.69 670.14 699.29 669.98 699.89 670.67 700.49 670.53 701.09 670.02 701.69 670.45 702.3 670.08 702.9 670.19 703.5 669.9 704.1 670.22 704.7 670.26" stroke="#ff2500"/>
<path d="M98.7 670.85 99.3 670.89 99.91 672.66 100.51 671.51 101.11 669.72 101.72 671.26 102.32 671.65 102.92 670.4 103.53 670.8 104.13 671.14 104.73 669.59 105.34 668.98 105.94 671.33 106.54 670.29 107.15 670.49 107.75 669.57 108.35 669.6 108.96 669.86 109.56 669.55 110.16 669.72 110.77 671.08 111.37 670.48 111.97 671.53 112.58 671.51 113.18 670.08 113.78 671.18 114.39 670.57 114.99 671.06 115.59 668.27 116.2 670.06 116.8 671.74 117.4 670.88 118 671.45 118.61 671.94 119.21 671.78 119.81 670.71 120.42 670.86 121.02 670.32 121.62 671.05 122.23 670.42 122.83 672.16 123.43 670.94 124.04 672.16 124.64 671.86 125.24 670.7 125.85 669.07 126.45 671.98 127.05 668.61 127.66 671.9 128.26 668.39 128.86 670.21 129.47 671.72 130.07 671.43 130.67 669.55 131.28 669.91 131.88 670.39 132.48 670.35 133.09 671.71 133.69 669.76 134.29 671.98 134.9 670.5 135.5 672.11" stroke="#ed0400"/>
<path d="M526.6 670.03 527.2 669.9 527.8 671.28 528.41 670.71 529.01 669.97 529.61 671.97 530.21 671.68 530.81 670.24 531.42 670.84 532.02 670.58 532.62 671.29 533.22 670.73 533.82 670.79 534.43 671.44 535.03 671.16 535.4 671 537 668.7 538.6 671 538.64 671.7 539.24 671.87 539.84 670.54 540.45 671.48 541.05 670.36 541.65 671.49 542.25 670.77 542.85 671.44 543.45 671.42 544.06 670.56 544.66 670.83 545.26 671.08 545.86 671.19 546.46 671.08 547.07 670.33 547.67 670.05 548.27 671.17 548.87 671.66 549.47 671.29 550.08 671.9 550.68 671 551.28 671.2 551.88 670.23 552.48 671.61 553.09 670.31 553.69 670.99 554.29 671.87 554.89 670.98 555.49 672.82 556.1 671.21 556.7 671.1 557.3 670.14 557.9 671.08 558.5 670.86 559.11 671.19 559.71 671.2 560.31 670.39 560.91 672.14 561.51 670.67 562.12 672.19 562.72 670.71 563.32 671.05 563.92 671.3 564.52 671.19 565.13 670.99 565.73 670.39 566.33 671.19 566.93 671.85 567.53 672.44 568.14 670.54 568.74 671.82 569.34 670.33 569.94 670.63 570.54 670.45 571.15 671.18 571.75 670.76 572.35 670.13 572.95 670.33 573.55 671.1 574.15 670.92 574.76 671.49 575.36 670.89 575.96 671.34 576.56 672.38 577.16 670.51 577.77 670.67 578.37 670.58 578.97 671.93 579.57 670.96 580.17 671.03 580.78 670.49 581.38 670.77 581.98 671.57 582.58 670.18 583.18 669.95 583.79 671.08 584.39 672.21 584.99 670.73 585.59 671.31 586.19 671.54 586.8 671.36 587.4 672.16 588 670.41 588.6 671.18 589.2 670.39 589.81 670.18 590 671 591.6 667.7 593.2 671 593.42 670.54 594.02 671.9 594.62 671.23 595.22 671.23 595.83 670.95 596.43 670.67 597.03 671.64 597.63 670.57 598.23 671.8 598.84 671.7 599.44 670.54 600.04 670.51 600.64 670.59 601.24 671.39 601.85 670.79 602.45 671.24 603.05 670.97 603.65 671.19 604.25 670.59 604.85 671.16 605.46 670.65 606.06 670.8 606.66 670.47 607.26 670.54 607.86 671.78 608.47 670.39 609.07 670.96 609.67 669.87 610.27 671.01 610.87 670.02 611.48 671.89 612.08 671.17 612.68 671.35 613.28 670.83 613.88 671.54 614.49 670.53 615.09 671.3 615.69 670.99 616.29 670.16 616.89 671.09 617.5 670.45 618.1 670.67 618.7 671.06 619.3 670.91 619.9 670.54 620.51 670.83 621.11 669.06 621.71 670.97 622.31 671.39 622.91 670.61 623.52 671.11 624.12 670.75 624.72 671.33 625.32 670.69 625.92 671.26 626.53 671.25 627.13 671.6 627.73 671.51 628.33 671.78 628.93 670.96 629.54 671.03 630.14 670.99 630.74 670.89 631.34 669.53 631.94 671.03 632.55 670.76 633.15 670.94 633.75 670.63 634.35 670.58 634.95 670.82 635.55 670.01 636.16 669.6 636.76 671.63 637.36 669.93 637.96 670.19 638.56 669.38 639.17 671.48 639.77 672.13 640.37 671.39 640.97 671.25 641.57 670.99 642.18 670.35 642.78 670.97 643.38 669.94 643.98 671.77 644.58 670.33 645.19 670.08 645.79 671.16 646.39 671.15 646.99 670.27 647.59 670.33 648.2 670.21 648.8 670.33 649.4 670.97" stroke="#ed0400"/>
<path d="M819 671.21 819.61 670.03 820.22 670.51 820.83 671.34 821.44 671.92 822.05 670.83 822.66 671.47 823.27 671.74 823.88 670.93 824.49 671.41 825.1 671.82 825.71 672.04 826.32 671.14 826.93 670.59 827.54 670.12 828.15 670.99 828.76 670.26 829.37 671.58 829.98 670.3 830.59 670.79 831.2 670.68 831.8 671.84 832.41 671.22 833.02 671.42 833.63 671.29 834.24 670.34 834.85 670.33 835.46 672.22 836.07 671.02 836.68 671.05 837.29 670.27 837.9 671.06 838.51 671.11 839.12 670.93 839.73 670.84 840.34 671.19 840.95 671.09 841.56 671.3 842.17 670.42 842.78 670.17 843.39 671.07 844 671.01" stroke="#ed0400"/>
<path d="M372 670.32 372.6 669.27 373.21 670.1 373.81 670.15 374.41 670.66 375.02 670.07 375.62 670.15 376.22 669.85 376.83 669.84 377.43 670.66 378.03 670.82 378.64 671.42 379.24 670.5 379.85 670.36 380.45 670.74 381.05 671.15 381.66 670.13 382.26 668.76 382.86 670.04 383.47 670.1 384.07 670.92 384.67 670.01 385.28 670.43 385.88 671.27 386.48 670.81 387.09 670.13 387.69 670.45 388.29 671.39 388.9 670.44 389.5 670.23 390.1 669.05 390.71 669.84 391.31 671.05 391.91 669.87 392.52 669.99 393.12 670.96 393.73 669.6 394.33 671.1 394.93 670.2 395.54 670.43 396.14 670.15 396.74 670.87 397.35 669.88 397.95 670.76 398.55 669.59 399.16 670.54 399.76 670.96 400.36 670.2 400.97 669.86 401.57 669.47 402.17 669.59 402.78 670.1 403.38 670.45 403.98 670.07 404.59 669.56 405.19 670.51 405.79 670.34 406.4 670.63 407 669.95 407.61 671.93 408.21 670.14 408.81 670.53 409.42 669.91 410.02 670.06 410.62 670.62 411.23 669.63 411.83 669.69 412.43 669.54 413.04 670.62 413.64 670.73 414.24 670.11 414.85 670.36 415.45 671.58 416.05 670.43 416.66 669.79 417.26 669.51 417.86 669.99 418.47 670.63 419.07 672.15 419.67 669.62 420.28 670.82 420.88 670.62 421.49 670.15 422.09 670.27 422.69 669 423.3 671.24 423.9 670.14 424.5 670.54 425.11 670.15 425.71 670.13 426.31 670.98 426.92 669.68 427.52 669.61 428.12 671.13 428.73 671.41 429.33 670.78 429.93 670.6 430.54 669.83 431.14 670.3 431.74 669.97 432.35 670.39 432.95 670.11 433.55 669.94 434.16 669.86 434.76 670.45 435.37 670.95 435.97 670.42 436.57 671.1 437.18 671.09 437.78 672.11 438.38 671.2 438.99 669.95 439.59 670.69 440.19 670.65 440.8 671.34 441.11 670.32" stroke="#a40000"/>
<path d="M737.2 669.19 737.81 669.76 738.41 668.4 739.02 669.17 739.62 669.05 740.23 670.13 740.83 669.1 741.44 669.1 742.05 668.08 742.65 669 743.26 668.56 743.86 668.93 744.47 667.58 745.07 668.62 745.68 668.06 746.29 668.08 746.89 670.05 747.5 668.57 748.1 669.57 748.71 668.24 749.31 669.55 749.92 668.54 750.53 669.86 751.13 668.28 751.74 669.01 752.34 668.78 752.95 668.7 753.55 668.27 754.16 670.3 754.76 667.69 755.37 667.73 755.98 668.74 756.58 670.98 757.19 669.03 757.79 667.86 758.4 668.15 759 669.97 759.61 669.71 760.22 668.39 760.82 668.97 761.43 669.3 762.03 669.16 762.64 668.24 763.24 668.47 763.85 668.1 764.46 669.94 765.06 668.53 765.67 669.9 766.27 670.36 766.88 668.32 767.48 669.19 768.09 669.65 768.7 670.29 769.3 668.29 769.91 669.78 770.51 668.99 771.12 668.7 771.72 668.57 772.33 669.17 772.94 668.7 773.54 669.55 774.15 669.29 774.75 669.36 775.36 669.28 775.96 668.16 776.57 669.49 777.18 670.23 777.78 668.44 778.39 668.5 778.99 669.13 779.6 668.95 780.2 669.16 780.81 668.6 781.41 669.65 782.02 668.76 782.63 669.01 783.23 668.68 783.84 668.45 784.44 669.28 785.05 668.66 785.65 667.99 786.26 668.58 786.87 668.14 787.47 669.36 788.08 667.49 788.68 669.95 789.29 670.04 789.89 668.21 790.5 668.08" stroke="#a40000"/>
<path d="M812.6 670.95 813.21 671.87 813.82 670.57 814.43 670.7 815.05 672.39 815.66 671.66 816.27 670.79 816.88 671.56 817.49 670.94 818.1 671.05 818.72 671.28 819.33 670.1 819.94 670.03 820.55 670.96 821.16 672.85 821.77 671.91 822.38 670.65 823 669.24 823.61 672.43 824.22 670.72 824.83 671.15 825.44 670.86 826.05 671.21 826.67 670.6 827.28 671.94 827.89 670.26 828.5 670.73 829.11 671.48 829.72 671.7 830.33 672.27 830.95 672.16 831.56 671.3 832.17 670.11 832.78 670.91 833.39 670.87 834 671.15 834.62 671.02 835.23 671.03 835.84 671.01 836.45 671.92 837.06 671.01 837.67 672.1 838.28 671.32 838.9 671.17 839.51 671.27 840.12 671.29 840.73 670.29 841.34 671.34 841.95 670.55 842.57 670.85 843.18 671.1 843.79 671.78 844.4 670.7" stroke="#a40000"/>
<path d="M273 669.77 273.61 669.73 274.21 668.6 274.82 669.5 275.43 670.28 276.04 668.84 276.64 669.98 276.7 669.6 278.3 664 279.9 669.6 280.29 670.36 280.89 669.28 281.5 668.39 282.11 668.88 282.71 669.53 283.32 670.28 283.93 668.63 284.54 669.58 285.14 669.66 285.75 670.36 286.36 669.89 286.96 669.47 287.57 669.35 288.18 670.04 288.79 669.65 289.39 669.36 290 669.14" stroke="#800000"/>
<path d="M303 670.16 303.6 671.06 304.21 670.34 304.81 670.26 305.42 671.87 306.02 671.47 306.62 670.41 307.23 669.86 307.83 671.66 308.43 671.67 309.04 671.01 309.64 670.7 310.25 671.7 310.85 672.72 311.45 671.93 312.06 670.99 312.66 671.25 313.26 670.29 313.87 669.31 314.47 671.17 315.08 670.89 315.68 672.46 316.28 671.09 316.89 671.95 317.49 671.8 318.09 670.18 318.7 670.77 319.3 670.85 319.91 670.08 320.51 671.36 321.11 671.03 321.72 670.42 322.32 671.14 322.92 670.97 323.53 671.3 324.13 670.81 324.74 670.86 325.34 671.05 325.94 671.29 326.55 670.98 327.15 671.93 327.75 671.26 328.36 670.97 328.96 670.63 329.57 669.54 330.17 670.42 330.77 671.12 331.38 671.18 331.98 671.56 332.58 670.75 333.19 671.94 333.79 669.46 334.4 671.32 335 670.08 335.6 671.85 336.21 671.5 336.81 670.33 337.42 670.49 338.02 671.64 338.62 671.13 339.23 670.94 339.83 670.49 340.43 671.3 341.04 670.71 341.64 670.71 342.25 670.39 342.85 671.12 343.45 670.87 344.06 670.52 344.66 670.44 345.26 670.81 345.87 670.33 346.47 671.8 347.08 671.35 347.68 670.63 348.28 672.09 348.89 670.13 349.49 671.41 350.09 671.16 350.7 670.67 351.3 671.77 351.91 671.41 352.51 671.19 353.11 672.33 353.72 671.37 354.32 671.38 354.92 670.94 355.53 670.56 356.13 671.47 356.74 670.36 357.34 670.37 357.94 670.98 358.55 669.66 359.15 671.11 359.75 671.07 360.36 671.29 360.96 670.2 361.57 670.5 362.17 670.05 362.77 670.1 363.38 671.59 363.98 671.05 364.58 670.33 365.19 670.15 365.79 670.69 366.4 670.51 367 670.74" stroke="#800000"/>
</g>
<path d="M98 34.5H909M98 173.5H909M98.5 34V174M908.5 34V174M98 201.5H909M98 340.5H909M98.5 201V341M908.5 201V341M98 368.5H909M98 507.5H909M98.5 368V508M908.5 368V508M98 535.5H909M98 674.5H909M98.5 535V675M908.5 535V675" stroke="#000" stroke-width="1" fill="none" shape-rendering="crispEdges"/>
<rect x="998" y="34" width="12" height="640" fill="url(#jg)"/>
<path d="M1010.5 653.5H1004.5M1010.5 612.5H1004.5M1010.5 571.5H1004.5M1010.5 529.5H1004.5M1010.5 488.5H1004.5M1010.5 447.5H1004.5M1010.5 406.5H1004.5M1010.5 364.5H1004.5M1010.5 323.5H1004.5M1010.5 282.5H1004.5M1010.5 240.5H1004.5M1010.5 199.5H1004.5M1010.5 158.5H1004.5M1010.5 117.5H1004.5M1010.5 75.5H1004.5M1010.5 34.5H1004.5" stroke="#000" stroke-width="3" fill="none" shape-rendering="crispEdges"/>
<path d="M998 34.5H1011M998 674.5H1011M998.5 34V675M1010.5 34V675" stroke="#000" stroke-width="1" fill="none" shape-rendering="crispEdges"/>
<g transform="scale(1.3888889)"><g id="t0" transform="translate(70.422 133.922) scale(1 0.95) translate(-70.539 -134.277)"><text style="font-weight: 700; font-size: 16px; font-family: 'DejaVu Sans', sans-serif; text-anchor: middle" x="70.56" y="140.2175" transform="rotate(-0 70.56 140.2175)">0</text></g><g id="t1" transform="translate(94.921 134.445) scale(1 0.938) translate(-94.917 -134.853)"><text style="font-weight: 700; font-size: 16px; font-family: 'DejaVu Sans', sans-serif; text-anchor: middle" x="94.86" y="140.2175" transform="rotate(-0 94.86 140.2175)">1</text></g><g id="t2" transform="translate(120.227 134.182) scale(1 0.939) translate(-119.262 -134.616)"><text style="font-weight: 700; font-size: 16px; font-family: 'DejaVu Sans', sans-serif; text-anchor: middle" x="119.16" y="140.2175" transform="rotate(-0 119.16 140.2175)">2</text></g><g id="t3" transform="translate(144.258 133.982) scale(1 0.944) translate(-143.894 -134.303)"><text style="font-weight: 700; font-size: 16px; font-family: 'DejaVu Sans', sans-serif; text-anchor: middle" x="143.46" y="140.2175" transform="rotate(-0 143.46 140.2175)">3</text></g><g id="t4" transform="translate(168.6 134.13) scale(1 0.939) translate(-168.08 -134.556)"><text style="font-weight: 700; font-size: 16px; font-family: 'DejaVu Sans', sans-serif; text-anchor: middle" x="167.76" y="140.2175" transform="rotate(-0 167.76 140.2175)">4</text></g><g id="t5" transform="translate(192.767 133.831) scale(1 0.939) translate(-192.115 -134.051)"><text style="font-weight: 700; font-size: 16px; font-family: 'DejaVu Sans', sans-serif; text-anchor: middle" x="192.06" y="140.2175" transform="rotate(-0 192.06 140.2175)">5</text></g><g id="t6" transform="translate(216.431 134.084) scale(1 0.954) translate(-216.255 -134.356)"><text style="font-weight: 700; font-size: 16px; font-family: 'DejaVu Sans', sans-serif; text-anchor: middle" x="216.36" y="140.2175" transform="rotate(-0 216.36 140.2175)">6</text></g><g id="t7" transform="translate(241.269 132.729) scale(1 0.948) translate(-240.852 -132.91)"><text style="font-weight: 700; font-size: 16px; font-family: 'DejaVu Sans', sans-serif; text-anchor: middle" x="240.66" y="140.2175" transform="rotate(-0 240.66 140.2175)">7</text></g><g id="t8" transform="translate(265.499 133.932) scale(1 0.943) translate(-264.938 -134.261)"><text style="font-weight: 700; font-size: 16px; font-family: 'DejaVu Sans', sans-serif; text-anchor: middle" x="264.96" y="140.2175" transform="rotate(-0 264.96 140.2175)">8</text></g><g id="t9" transform="translate(289.289 133.76) scale(1 0.941) translate(-289.333 -134.095)"><text style="font-weight: 700; font-size: 16px; font-family: 'DejaVu Sans', sans-serif; text-anchor: middle" x="289.26" y="140.2175" transform="rotate(-0 289.26 140.2175)">9</text></g><g id="t10" transform="translate(314.03 134.145) scale(1 0.944) translate(-314.404 -134.522)"><text style="font-weight: 700; font-size: 16px; font-family: 'DejaVu Sans', sans-serif; text-anchor: middle" x="313.56" y="140.2175" transform="rotate(-0 313.56 140.2175)">10</text></g><g id="t11" transform="translate(337.745 134.445) scale(1 0.938) translate(-337.921 -134.855)"><text style="font-weight: 700; font-size: 16px; font-family: 'DejaVu Sans', sans-serif; text-anchor: middle" x="337.86" y="140.2175" transform="rotate(-0 337.86 140.2175)">11</text></g><g id="t12" transform="translate(362.59 134.304) scale(1 0.938) translate(-362.671 -134.726)"><text style="font-weight: 700; font-size: 16px; font-family: 'DejaVu Sans', sans-serif; text-anchor: middle" x="362.16" y="140.2175" transform="rotate(-0 362.16 140.2175)">12</text></g><g id="t13" transform="translate(387.263 134.197) scale(1 0.94) translate(-387.156 -134.558)"><text style="font-weight: 700; font-size: 16px; font-family: 'DejaVu Sans', sans-serif; text-anchor: middle" x="386.46" y="140.2175" transform="rotate(-0 386.46 140.2175)">13</text></g><g id="t14" transform="translate(411.868 134.271) scale(1 0.939) translate(-411.579 -134.689)"><text style="font-weight: 700; font-size: 16px; font-family: 'DejaVu Sans', sans-serif; text-anchor: middle" x="410.76" y="140.2175" transform="rotate(-0 410.76 140.2175)">14</text></g><g id="t15" transform="translate(435.38 134.11) scale(1 0.937) translate(-435.74 -134.406)"><text style="font-weight: 700; font-size: 16px; font-family: 'DejaVu Sans', sans-serif; text-anchor: middle" x="435.06" y="140.2175" transform="rotate(-0 435.06 140.2175)">15</text></g><g id="t16" transform="translate(460.13 134.236) scale(1 0.943) translate(-460.107 -134.569)"><text style="font-weight: 700; font-size: 16px; font-family: 'DejaVu Sans', sans-serif; text-anchor: middle" x="459.36" y="140.2175" transform="rotate(-0 459.36 140.2175)">16</text></g><g id="t17" transform="translate(483.771 133.623) scale(1 0.94) translate(-483.639 -133.91)"><text style="font-weight: 700; font-size: 16px; font-family: 'DejaVu Sans', sans-serif; text-anchor: middle" x="483.66" y="140.2175" transform="rotate(-0 483.66 140.2175)">17</text></g><g id="t18" transform="translate(508.598 134.141) scale(1 0.939) translate(-508.971 -134.502)"><text style="font-weight: 700; font-size: 16px; font-family: 'DejaVu Sans', sans-serif; text-anchor: middle" x="507.96" y="140.2175" transform="rotate(-0 507.96 140.2175)">18</text></g><g id="t19" transform="translate(532.923 134.05) scale(1 0.938) translate(-533.087 -134.423)"><text style="font-weight: 700; font-size: 16px; font-family: 'DejaVu Sans', sans-serif; text-anchor: middle" x="532.26" y="140.2175" transform="rotate(-0 532.26 140.2175)">19</text></g><g id="t20" transform="translate(557.079 134.04) scale(1 0.942) translate(-557.011 -134.435)"><text style="font-weight: 700; font-size: 16px; font-family: 'DejaVu Sans', sans-serif; text-anchor: middle" x="556.56" y="140.2175" transform="rotate(-0 556.56 140.2175)">20</text></g><g id="t21" transform="translate(580.804 134.305) scale(1 0.938) translate(-580.515 -134.727)"><text style="font-weight: 700; font-size: 16px; font-family: 'DejaVu Sans', sans-serif; text-anchor: middle" x="580.86" y="140.2175" transform="rotate(-0 580.86 140.2175)">21</text></g><g id="t22" transform="translate(605.642 134.181) scale(1 0.939) translate(-605.261 -134.617)"><text style="font-weight: 700; font-size: 16px; font-family: 'DejaVu Sans', sans-serif; text-anchor: middle" x="605.16" y="140.2175" transform="rotate(-0 605.16 140.2175)">22</text></g><g id="t23" transform="translate(630.303 134.08) scale(1 0.94) translate(-629.736 -134.459)"><text style="font-weight: 700; font-size: 16px; font-family: 'DejaVu Sans', sans-serif; text-anchor: middle" x="629.46" y="140.2175" transform="rotate(-0 629.46 140.2175)">23</text></g><g id="t24" transform="translate(654.191 134.155) scale(1 0.938) translate(-654.175 -134.586)"><text style="font-weight: 700; font-size: 16px; font-family: 'DejaVu Sans', sans-serif; text-anchor: middle" x="653.76" y="140.2175" transform="rotate(-0 653.76 140.2175)">24</text></g><g id="t25" transform="translate(53.607 100.166) scale(1 0.936) translate(-54.023 -99.772)"><text style="font-weight: 700; font-size: 16px; font-family: 'DejaVu Sans', sans-serif; text-anchor: end" x="67.06" y="106.125086" transform="rotate(-0 67.06 106.125086)">−50</text></g><g id="t26" transform="translate(61.782 64.802) scale(1 0.951) translate(-61.536 -65.156)"><text style="font-weight: 700; font-size: 16px; font-family: 'DejaVu Sans', sans-serif; text-anchor: end" x="67.06" y="71.205338" transform="rotate(-0 67.06 71.205338)">0</text></g><g id="t27" transform="translate(56.434 30.2) scale(1 0.943) translate(-56.207 -29.767)"><text style="font-weight: 700; font-size: 16px; font-family: 'DejaVu Sans', sans-serif; text-anchor: end" x="67.06" y="36.285589" transform="rotate(-0 67.06 36.285589)">50</text></g><g id="t28" transform="translate(17.563 76.304) scale(0.952 0.972) translate(-17.161 -75.029)"><text style="font-weight: 700; font-size: 16px; font-family: 'DejaVu Sans', sans-serif; text-anchor: middle" x="24.06" y="74.52" transform="rotate(-90 24.06 74.52)">TEC</text></g><g id="t29" transform="translate(363.223 13.257) scale(1 0.938) translate(-362.869 -12.898)"><text style="font-weight: 700; font-size: 16px; font-family: 'DejaVu Sans', sans-serif; text-anchor: middle" x="362.16" y="18.48" transform="rotate(-0 362.16 18.48)">20181216 Site=1006 KAU2</text></g><g id="t30" transform="translate(70.422 254.162) scale(1 0.95) translate(-70.539 -254.517)"><text style="font-weight: 700; font-size: 16px; font-family: 'DejaVu Sans', sans-serif; text-anchor: middle" x="70.56" y="260.4575" transform="rotate(-0 70.56 260.4575)">0</text></g><g id="t31" transform="translate(94.921 254.685) scale(1 0.938) translate(-94.917 -255.093)"><text style="font-weight: 700; font-size: 16px; font-family: 'DejaVu Sans', sans-serif; text-anchor: middle" x="94.86" y="260.4575" transform="rotate(-0 94.86 260.4575)">1</text></g><g id="t32" transform="translate(120.227 254.422) scale(1 0.939) translate(-119.262 -254.856)"><text style="font-weight: 700; font-size: 16px; font-family: 'DejaVu Sans', sans-serif; text-anchor: middle" x="119.16" y="260.4575" transform="rotate(-0 119.16 260.4575)">2</text></g><g id="t33" transform="translate(144.258 254.222) scale(1 0.944) translate(-143.894 -254.543)"><text style="font-weight: 700; font-size: 16px; font-family: 'DejaVu Sans', sans-serif; text-anchor: middle" x="143.46" y="260.4575" transform="rotate(-0 143.46 260.4575)">3</text></g><g id="t34" transform="translate(168.6 254.37) scale(1 0.939) translate(-168.08 -254.796)"><text style="font-weight: 700; font-size: 16px; font-family: 'DejaVu Sans', sans-serif; text-anchor: middle" x="167.76" y="260.4575" transform="rotate(-0 167.76 260.4575)">4</text></g><g id="t35" transform="translate(192.767 254.071) scale(1 0.939) translate(-192.115 -254.291)"><text style="font-weight: 700; font-size: 16px; font-family: 'DejaVu Sans', sans-serif; text-anchor: middle" x="192.06" y="260.4575" transform="rotate(-0 192.06 260.4575)">5</text></g><g id="t36" transform="translate(216.431 254.324) scale(1 0.954) translate(-216.255 -254.596)"><text style="font-weight: 700; font-size: 16px; font-family: 'DejaVu Sans', sans-serif; text-anchor: middle" x="216.36" y="260.4575" transform="rotate(-0 216.36 260.4575)">6</text></g><g id="t37" transform="translate(241.269 252.969) scale(1 0.948) translate(-240.852 -253.15)"><text style="font-weight: 700; font-size: 16px; font-family: 'DejaVu Sans', sans-serif; text-anchor: middle" x="240.66" y="260.4575" transform="rotate(-0 240.66 260.4575)">7</text></g><g id="t38" transform="translate(265.499 254.172) scale(1 0.943) translate(-264.938 -254.501)"><text style="font-weight: 700; font-size: 16px; font-family: 'DejaVu Sans', sans-serif; text-anchor: middle" x="264.96" y="260.4575" transform="rotate(-0 264.96 260.4575)">8</text></g><g id="t39" transform="translate(289.289 254) scale(1 0.941) translate(-289.333 -254.335)"><text style="font-weight: 700; font-size: 16px; font-family: 'DejaVu Sans', sans-serif; text-anchor: middle" x="289.26" y="260.4575" transform="rotate(-0 289.26 260.4575)">9</text></g><g id="t40" transform="translate(314.03 254.385) scale(1 0.944) translate(-314.404 -254.762)"><text style="font-weight: 700; font-size: 16px; font-family: 'DejaVu Sans', sans-serif; text-anchor: middle" x="313.56" y="260.4575" transform="rotate(-0 313.56 260.4575)">10</text></g><g id="t41" transform="translate(337.745 254.685) scale(1 0.938) translate(-337.921 -255.095)"><text style="font-weight: 700; font-size: 16px; font-family: 'DejaVu Sans', sans-serif; text-anchor: middle" x="337.86" y="260.4575" transform="rotate(-0 337.86 260.4575)">11</text></g><g id="t42" transform="translate(362.59 254.544) scale(1 0.938) translate(-362.671 -254.966)"><text style="font-weight: 700; font-size: 16px; font-family: 'DejaVu Sans', sans-serif; text-anchor: middle" x="362.16" y="260.4575" transform="rotate(-0 362.16 260.4575)">12</text></g><g id="t43" transform="translate(387.263 254.437) scale(1 0.94) translate(-387.156 -254.798)"><text style="font-weight: 700; font-size: 16px; font-family: 'DejaVu Sans', sans-serif; text-anchor: middle" x="386.46" y="260.4575" transform="rotate(-0 386.46 260.4575)">13</text></g><g id="t44" transform="translate(411.868 254.511) scale(1 0.939) translate(-411.579 -254.929)"><text style="font-weight: 700; font-size: 16px; font-family: 'DejaVu Sans', sans-serif; text-anchor: middle" x="410.76" y="260.4575" transform="rotate(-0 410.76 260.4575)">14</text></g><g id="t45" transform="translate(435.38 254.35) scale(1 0.937) translate(-435.74 -254.646)"><text style="font-weight: 700; font-size: 16px; font-family: 'DejaVu Sans', sans-serif; text-anchor: middle" x="435.06" y="260.4575" transform="rotate(-0 435.06 260.4575)">15</text></g><g id="t46" transform="translate(460.13 254.476) scale(1 0.943) translate(-460.107 -254.809)"><text style="font-weight: 700; font-size: 16px; font-family: 'DejaVu Sans', sans-serif; text-anchor: middle" x="459.36" y="260.4575" transform="rotate(-0 459.36 260.4575)">16</text></g><g id="t47" transform="translate(483.771 253.863) scale(1 0.94) translate(-483.639 -254.15)"><text style="font-weight: 700; font-size: 16px; font-family: 'DejaVu Sans', sans-serif; text-anchor: middle" x="483.66" y="260.4575" transform="rotate(-0 483.66 260.4575)">17</text></g><g id="t48" transform="translate(508.598 254.381) scale(1 0.939) translate(-508.971 -254.742)"><text style="font-weight: 700; font-size: 16px; font-family: 'DejaVu Sans', sans-serif; text-anchor: middle" x="507.96" y="260.4575" transform="rotate(-0 507.96 260.4575)">18</text></g><g id="t49" transform="translate(532.923 254.29) scale(1 0.938) translate(-533.087 -254.663)"><text style="font-weight: 700; font-size: 16px; font-family: 'DejaVu Sans', sans-serif; text-anchor: middle" x="532.26" y="260.4575" transform="rotate(-0 532.26 260.4575)">19</text></g><g id="t50" transform="translate(557.079 254.28) scale(1 0.942) translate(-557.011 -254.675)"><text style="font-weight: 700; font-size: 16px; font-family: 'DejaVu Sans', sans-serif; text-anchor: middle" x="556.56" y="260.4575" transform="rotate(-0 556.56 260.4575)">20</text></g><g id="t51" transform="translate(580.804 254.545) scale(1 0.938) translate(-580.515 -254.967)"><text style="font-weight: 700; font-size: 16px; font-family: 'DejaVu Sans', sans-serif; text-anchor: middle" x="580.86" y="260.4575" transform="rotate(-0 580.86 260.4575)">21</text></g><g id="t52" transform="translate(605.642 254.421) scale(1 0.939) translate(-605.261 -254.857)"><text style="font-weight: 700; font-size: 16px; font-family: 'DejaVu Sans', sans-serif; text-anchor: middle" x="605.16" y="260.4575" transform="rotate(-0 605.16 260.4575)">22</text></g><g id="t53" transform="translate(630.303 254.32) scale(1 0.94) translate(-629.736 -254.699)"><text style="font-weight: 700; font-size: 16px; font-family: 'DejaVu Sans', sans-serif; text-anchor: middle" x="629.46" y="260.4575" transform="rotate(-0 629.46 260.4575)">23</text></g><g id="t54" transform="translate(654.191 254.395) scale(1 0.938) translate(-654.175 -254.826)"><text style="font-weight: 700; font-size: 16px; font-family: 'DejaVu Sans', sans-serif; text-anchor: middle" x="653.76" y="260.4575" transform="rotate(-0 653.76 260.4575)">24</text></g><g id="t55" transform="translate(50.397 226.515) scale(1 0.931) translate(-50.718 -226.17)"><text style="font-weight: 700; font-size: 16px; font-family: 'DejaVu Sans', sans-serif; text-anchor: end" x="67.06" y="232.11375" transform="rotate(-0 67.06 232.11375)">−2.5</text></g><g id="t56" transform="translate(52.762 194.648) scale(1 0.95) translate(-52.896 -195.023)"><text style="font-weight: 700; font-size: 16px; font-family: 'DejaVu Sans', sans-serif; text-anchor: end" x="67.06" y="200.83875" transform="rotate(-0 67.06 200.83875)">0.0</text></g><g id="t57" transform="translate(53.656 163.798) scale(1 0.938) translate(-53.274 -164.138)"><text style="font-weight: 700; font-size: 16px; font-family: 'DejaVu Sans', sans-serif; text-anchor: end" x="67.06" y="169.56375" transform="rotate(-0 67.06 169.56375)">2.5</text></g><g id="t58" transform="translate(13.263 198.259) scale(0.946 0.994) translate(-11.416 -195.997)"><text style="font-weight: 700; font-size: 16px; font-family: 'DejaVu Sans', sans-serif; text-anchor: middle" x="17.9825" y="194.76" transform="rotate(-90 17.9825 194.76)">ROT</text></g><g id="t59" transform="translate(70.422 374.402) scale(1 0.95) translate(-70.539 -374.757)"><text style="font-weight: 700; font-size: 16px; font-family: 'DejaVu Sans', sans-serif; text-anchor: middle" x="70.56" y="380.6975" transform="rotate(-0 70.56 380.6975)">0</text></g><g id="t60" transform="translate(94.921 374.925) scale(1 0.938) translate(-94.917 -375.333)"><text style="font-weight: 700; font-size: 16px; font-family: 'DejaVu Sans', sans-serif; text-anchor: middle" x="94.86" y="380.6975" transform="rotate(-0 94.86 380.6975)">1</text></g><g id="t61" transform="translate(120.227 374.662) scale(1 0.939) translate(-119.262 -375.096)"><text style="font-weight: 700; font-size: 16px; font-family: 'DejaVu Sans', sans-serif; text-anchor: middle" x="119.16" y="380.6975" transform="rotate(-0 119.16 380.6975)">2</text></g><g id="t62" transform="translate(144.258 374.462) scale(1 0.944) translate(-143.894 -374.783)"><text style="font-weight: 700; font-size: 16px; font-family: 'DejaVu Sans', sans-serif; text-anchor: middle" x="143.46" y="380.6975" transform="rotate(-0 143.46 380.6975)">3</text></g><g id="t63" transform="translate(168.6 374.61) scale(1 0.939) translate(-168.08 -375.036)"><text style="font-weight: 700; font-size: 16px; font-family: 'DejaVu Sans', sans-serif; text-anchor: middle" x="167.76" y="380.6975" transform="rotate(-0 167.76 380.6975)">4</text></g><g id="t64" transform="translate(192.767 374.311) scale(1 0.939) translate(-192.115 -374.531)"><text style="font-weight: 700; font-size: 16px; font-family: 'DejaVu Sans', sans-serif; text-anchor: middle" x="192.06" y="380.6975" transform="rotate(-0 192.06 380.6975)">5</text></g><g id="t65" transform="translate(216.431 374.564) scale(1 0.954) translate(-216.255 -374.836)"><text style="font-weight: 700; font-size: 16px; font-family: 'DejaVu Sans', sans-serif; text-anchor: middle" x="216.36" y="380.6975" transform="rotate(-0 216.36 380.6975)">6</text></g><g id="t66" transform="translate(241.269 373.209) scale(1 0.948) translate(-240.852 -373.39)"><text style="font-weight: 700; font-size: 16px; font-family: 'DejaVu Sans', sans-serif; text-anchor: middle" x="240.66" y="380.6975" transform="rotate(-0 240.66 380.6975)">7</text></g><g id="t67" transform="translate(265.499 374.412) scale(1 0.943) translate(-264.938 -374.741)"><text style="font-weight: 700; font-size: 16px; font-family: 'DejaVu Sans', sans-serif; text-anchor: middle" x="264.96" y="380.6975" transform="rotate(-0 264.96 380.6975)">8</text></g><g id="t68" transform="translate(289.289 374.24) scale(1 0.941) translate(-289.333 -374.575)"><text style="font-weight: 700; font-size: 16px; font-family: 'DejaVu Sans', sans-serif; text-anchor: middle" x="289.26" y="380.6975" transform="rotate(-0 289.26 380.6975)">9</text></g><g id="t69" transform="translate(314.03 374.625) scale(1 0.944) translate(-314.404 -375.002)"><text style="font-weight: 700; font-size: 16px; font-family: 'DejaVu Sans', sans-serif; text-anchor: middle" x="313.56" y="380.6975" transform="rotate(-0 313.56 380.6975)">10</text></g><g id="t70" transform="translate(337.745 374.925) scale(1 0.938) translate(-337.921 -375.335)"><text style="font-weight: 700; font-size: 16px; font-family: 'DejaVu Sans', sans-serif; text-anchor: middle" x="337.86" y="380.6975" transform="rotate(-0 337.86 380.6975)">11</text></g><g id="t71" transform="translate(362.59 374.784) scale(1 0.938) translate(-362.671 -375.206)"><text style="font-weight: 700; font-size: 16px; font-family: 'DejaVu Sans', sans-serif; text-anchor: middle" x="362.16" y="380.6975" transform="rotate(-0 362.16 380.6975)">12</text></g><g id="t72" transform="translate(387.263 374.677) scale(1 0.94) translate(-387.156 -375.038)"><text style="font-weight: 700; font-size: 16px; font-family: 'DejaVu Sans', sans-serif; text-anchor: middle" x="386.46" y="380.6975" transform="rotate(-0 386.46 380.6975)">13</text></g><g id="t73" transform="translate(411.868 374.751) scale(1 0.939) translate(-411.579 -375.169)"><text style="font-weight: 700; font-size: 16px; font-family: 'DejaVu Sans', sans-serif; text-anchor: middle" x="410.76" y="380.6975" transform="rotate(-0 410.76 380.6975)">14</text></g><g id="t74" transform="translate(435.38 374.59) scale(1 0.937) translate(-435.74 -374.886)"><text style="font-weight: 700; font-size: 16px; font-family: 'DejaVu Sans', sans-serif; text-anchor: middle" x="435.06" y="380.6975" transform="rotate(-0 435.06 380.6975)">15</text></g><g id="t75" transform="translate(460.13 374.716) scale(1 0.943) translate(-460.107 -375.049)"><text style="font-weight: 700; font-size: 16px; font-family: 'DejaVu Sans', sans-serif; text-anchor: middle" x="459.36" y="380.6975" transform="rotate(-0 459.36 380.6975)">16</text></g><g id="t76" transform="translate(483.771 374.103) scale(1 0.94) translate(-483.639 -374.39)"><text style="font-weight: 700; font-size: 16px; font-family: 'DejaVu Sans', sans-serif; text-anchor: middle" x="483.66" y="380.6975" transform="rotate(-0 483.66 380.6975)">17</text></g><g id="t77" transform="translate(508.598 374.621) scale(1 0.939) translate(-508.971 -374.982)"><text style="font-weight: 700; font-size: 16px; font-family: 'DejaVu Sans', sans-serif; text-anchor: middle" x="507.96" y="380.6975" transform="rotate(-0 507.96 380.6975)">18</text></g><g id="t78" transform="translate(532.923 374.53) scale(1 0.938) translate(-533.087 -374.903)"><text style="font-weight: 700; font-size: 16px; font-family: 'DejaVu Sans', sans-serif; text-anchor: middle" x="532.26" y="380.6975" transform="rotate(-0 532.26 380.6975)">19</text></g><g id="t79" transform="translate(557.079 374.52) scale(1 0.942) translate(-557.011 -374.915)"><text style="font-weight: 700; font-size: 16px; font-family: 'DejaVu Sans', sans-serif; text-anchor: middle" x="556.56" y="380.6975" transform="rotate(-0 556.56 380.6975)">20</text></g><g id="t80" transform="translate(580.804 374.785) scale(1 0.938) translate(-580.515 -375.207)"><text style="font-weight: 700; font-size: 16px; font-family: 'DejaVu Sans', sans-serif; text-anchor: middle" x="580.86" y="380.6975" transform="rotate(-0 580.86 380.6975)">21</text></g><g id="t81" transform="translate(605.642 374.661) scale(1 0.939) translate(-605.261 -375.097)"><text style="font-weight: 700; font-size: 16px; font-family: 'DejaVu Sans', sans-serif; text-anchor: middle" x="605.16" y="380.6975" transform="rotate(-0 605.16 380.6975)">22</text></g><g id="t82" transform="translate(630.303 374.56) scale(1 0.94) translate(-629.736 -374.939)"><text style="font-weight: 700; font-size: 16px; font-family: 'DejaVu Sans', sans-serif; text-anchor: middle" x="629.46" y="380.6975" transform="rotate(-0 629.46 380.6975)">23</text></g><g id="t83" transform="translate(654.191 374.635) scale(1 0.938) translate(-654.175 -375.066)"><text style="font-weight: 700; font-size: 16px; font-family: 'DejaVu Sans', sans-serif; text-anchor: middle" x="653.76" y="380.6975" transform="rotate(-0 653.76 380.6975)">24</text></g><g id="t84" transform="translate(52.762 365.288) scale(1 0.95) translate(-52.896 -364.943)"><text style="font-weight: 700; font-size: 16px; font-family: 'DejaVu Sans', sans-serif; text-anchor: end" x="67.06" y="371.11875" transform="rotate(-0 67.06 371.11875)">0.0</text></g><g id="t85" transform="translate(51.609 355.45) scale(1 0.944) translate(-51.719 -355.85)"><text style="font-weight: 700; font-size: 16px; font-family: 'DejaVu Sans', sans-serif; text-anchor: end" x="67.06" y="361.11075" transform="rotate(-0 67.06 361.11075)">0.1</text></g><g id="t86" transform="translate(52.114 345.259) scale(1 0.944) translate(-52.354 -345.67)"><text style="font-weight: 700; font-size: 16px; font-family: 'DejaVu Sans', sans-serif; text-anchor: end" x="67.06" y="351.10275" transform="rotate(-0 67.06 351.10275)">0.2</text></g><g id="t87" transform="translate(52.299 335.092) scale(1 0.946) translate(-52.509 -335.454)"><text style="font-weight: 700; font-size: 16px; font-family: 'DejaVu Sans', sans-serif; text-anchor: end" x="67.06" y="341.09475" transform="rotate(-0 67.06 341.09475)">0.3</text></g><g id="t88" transform="translate(52.535 325.072) scale(1 0.946) translate(-52.73 -325.482)"><text style="font-weight: 700; font-size: 16px; font-family: 'DejaVu Sans', sans-serif; text-anchor: end" x="67.06" y="331.08675" transform="rotate(-0 67.06 331.08675)">0.4</text></g><g id="t89" transform="translate(52.28 315.581) scale(1 0.942) translate(-52.617 -315.172)"><text style="font-weight: 700; font-size: 16px; font-family: 'DejaVu Sans', sans-serif; text-anchor: end" x="67.06" y="321.07875" transform="rotate(-0 67.06 321.07875)">0.5</text></g><g id="t90" transform="translate(52.73 305.603) scale(1 0.95) translate(-52.774 -305.224)"><text style="font-weight: 700; font-size: 16px; font-family: 'DejaVu Sans', sans-serif; text-anchor: end" x="67.06" y="311.07075" transform="rotate(-0 67.06 311.07075)">0.6</text></g><g id="t91" transform="translate(51.364 295.041) scale(1 0.945) translate(-51.573 -294.623)"><text style="font-weight: 700; font-size: 16px; font-family: 'DejaVu Sans', sans-serif; text-anchor: end" x="67.06" y="301.06275" transform="rotate(-0 67.06 301.06275)">0.7</text></g><g id="t92" transform="translate(53.04 285.364) scale(1 0.946) translate(-53.15 -285.009)"><text style="font-weight: 700; font-size: 16px; font-family: 'DejaVu Sans', sans-serif; text-anchor: end" x="67.06" y="291.05475" transform="rotate(-0 67.06 291.05475)">0.8</text></g><g id="t93" transform="translate(52.785 275.21) scale(1 0.945) translate(-52.825 -274.864)"><text style="font-weight: 700; font-size: 16px; font-family: 'DejaVu Sans', sans-serif; text-anchor: end" x="67.06" y="281.04675" transform="rotate(-0 67.06 281.04675)">0.9</text></g><g id="t94" transform="translate(26.761 319.047) scale(0.945 0.983) translate(-25.779 -316.425)"><text style="font-weight: 700; font-size: 16px; font-family: 'DejaVu Sans', sans-serif; text-anchor: middle" x="30.945" y="315" transform="rotate(-90 30.945 315)">S4_L1</text></g><g id="t95" transform="translate(70.422 494.642) scale(1 0.95) translate(-70.539 -494.997)"><text style="font-weight: 700; font-size: 16px; font-family: 'DejaVu Sans', sans-serif; text-anchor: middle" x="70.56" y="500.9375" transform="rotate(-0 70.56 500.9375)">0</text></g><g id="t96" transform="translate(94.921 495.165) scale(1 0.938) translate(-94.917 -495.573)"><text style="font-weight: 700; font-size: 16px; font-family: 'DejaVu Sans', sans-serif; text-anchor: middle" x="94.86" y="500.9375" transform="rotate(-0 94.86 500.9375)">1</text></g><g id="t97" transform="translate(120.227 494.902) scale(1 0.939) translate(-119.262 -495.336)"><text style="font-weight: 700; font-size: 16px; font-family: 'DejaVu Sans', sans-serif; text-anchor: middle" x="119.16" y="500.9375" transform="rotate(-0 119.16 500.9375)">2</text></g><g id="t98" transform="translate(144.258 494.702) scale(1 0.944) translate(-143.894 -495.023)"><text style="font-weight: 700; font-size: 16px; font-family: 'DejaVu Sans', sans-serif; text-anchor: middle" x="143.46" y="500.9375" transform="rotate(-0 143.46 500.9375)">3</text></g><g id="t99" transform="translate(168.6 494.85) scale(1 0.939) translate(-168.08 -495.276)"><text style="font-weight: 700; font-size: 16px; font-family: 'DejaVu Sans', sans-serif; text-anchor: middle" x="167.76" y="500.9375" transform="rotate(-0 167.76 500.9375)">4</text></g><g id="t100" transform="translate(192.767 494.551) scale(1 0.939) translate(-192.115 -494.771)"><text style="font-weight: 700; font-size: 16px; font-family: 'DejaVu Sans', sans-serif; text-anchor: middle" x="192.06" y="500.9375" transform="rotate(-0 192.06 500.9375)">5</text></g><g id="t101" transform="translate(216.431 494.804) scale(1 0.954) translate(-216.255 -495.076)"><text style="font-weight: 700; font-size: 16px; font-family: 'DejaVu Sans', sans-serif; text-anchor: middle" x="216.36" y="500.9375" transform="rotate(-0 216.36 500.9375)">6</text></g><g id="t102" transform="translate(241.269 493.449) scale(1 0.948) translate(-240.852 -493.63)"><text style="font-weight: 700; font-size: 16px; font-family: 'DejaVu Sans', sans-serif; text-anchor: middle" x="240.66" y="500.9375" transform="rotate(-0 240.66 500.9375)">7</text></g><g id="t103" transform="translate(265.499 494.652) scale(1 0.943) translate(-264.938 -494.981)"><text style="font-weight: 700; font-size: 16px; font-family: 'DejaVu Sans', sans-serif; text-anchor: middle" x="264.96" y="500.9375" transform="rotate(-0 264.96 500.9375)">8</text></g><g id="t104" transform="translate(289.289 494.48) scale(1 0.941) translate(-289.333 -494.815)"><text style="font-weight: 700; font-size: 16px; font-family: 'DejaVu Sans', sans-serif; text-anchor: middle" x="289.26" y="500.9375" transform="rotate(-0 289.26 500.9375)">9</text></g><g id="t105" transform="translate(314.03 494.865) scale(1 0.944) translate(-314.404 -495.242)"><text style="font-weight: 700; font-size: 16px; font-family: 'DejaVu Sans', sans-serif; text-anchor: middle" x="313.56" y="500.9375" transform="rotate(-0 313.56 500.9375)">10</text></g><g id="t106" transform="translate(337.745 495.165) scale(1 0.938) translate(-337.921 -495.575)"><text style="font-weight: 700; font-size: 16px; font-family: 'DejaVu Sans', sans-serif; text-anchor: middle" x="337.86" y="500.9375" transform="rotate(-0 337.86 500.9375)">11</text></g><g id="t107" transform="translate(362.59 495.024) scale(1 0.938) translate(-362.671 -495.446)"><text style="font-weight: 700; font-size: 16px; font-family: 'DejaVu Sans', sans-serif; text-anchor: middle" x="362.16" y="500.9375" transform="rotate(-0 362.16 500.9375)">12</text></g><g id="t108" transform="translate(387.263 494.917) scale(1 0.94) translate(-387.156 -495.278)"><text style="font-weight: 700; font-size: 16px; font-family: 'DejaVu Sans', sans-serif; text-anchor: middle" x="386.46" y="500.9375" transform="rotate(-0 386.46 500.9375)">13</text></g><g id="t109" transform="translate(411.868 494.991) scale(1 0.939) translate(-411.579 -495.409)"><text style="font-weight: 700; font-size: 16px; font-family: 'DejaVu Sans', sans-serif; text-anchor: middle" x="410.76" y="500.9375" transform="rotate(-0 410.76 500.9375)">14</text></g><g id="t110" transform="translate(435.38 494.83) scale(1 0.937) translate(-435.74 -495.126)"><text style="font-weight: 700; font-size: 16px; font-family: 'DejaVu Sans', sans-serif; text-anchor: middle" x="435.06" y="500.9375" transform="rotate(-0 435.06 500.9375)">15</text></g><g id="t111" transform="translate(460.13 494.956) scale(1 0.943) translate(-460.107 -495.289)"><text style="font-weight: 700; font-size: 16px; font-family: 'DejaVu Sans', sans-serif; text-anchor: middle" x="459.36" y="500.9375" transform="rotate(-0 459.36 500.9375)">16</text></g><g id="t112" transform="translate(483.771 494.343) scale(1 0.94) translate(-483.639 -494.63)"><text style="font-weight: 700; font-size: 16px; font-family: 'DejaVu Sans', sans-serif; text-anchor: middle" x="483.66" y="500.9375" transform="rotate(-0 483.66 500.9375)">17</text></g><g id="t113" transform="translate(508.598 494.861) scale(1 0.939) translate(-508.971 -495.222)"><text style="font-weight: 700; font-size: 16px; font-family: 'DejaVu Sans', sans-serif; text-anchor: middle" x="507.96" y="500.9375" transform="rotate(-0 507.96 500.9375)">18</text></g><g id="t114" transform="translate(532.923 494.77) scale(1 0.938) translate(-533.087 -495.143)"><text style="font-weight: 700; font-size: 16px; font-family: 'DejaVu Sans', sans-serif; text-anchor: middle" x="532.26" y="500.9375" transform="rotate(-0 532.26 500.9375)">19</text></g><g id="t115" transform="translate(557.079 494.76) scale(1 0.942) translate(-557.011 -495.155)"><text style="font-weight: 700; font-size: 16px; font-family: 'DejaVu Sans', sans-serif; text-anchor: middle" x="556.56" y="500.9375" transform="rotate(-0 556.56 500.9375)">20</text></g><g id="t116" transform="translate(580.804 495.025) scale(1 0.938) translate(-580.515 -495.447)"><text style="font-weight: 700; font-size: 16px; font-family: 'DejaVu Sans', sans-serif; text-anchor: middle" x="580.86" y="500.9375" transform="rotate(-0 580.86 500.9375)">21</text></g><g id="t117" transform="translate(605.642 494.901) scale(1 0.939) translate(-605.261 -495.337)"><text style="font-weight: 700; font-size: 16px; font-family: 'DejaVu Sans', sans-serif; text-anchor: middle" x="605.16" y="500.9375" transform="rotate(-0 605.16 500.9375)">22</text></g><g id="t118" transform="translate(630.303 494.8) scale(1 0.94) translate(-629.736 -495.179)"><text style="font-weight: 700; font-size: 16px; font-family: 'DejaVu Sans', sans-serif; text-anchor: middle" x="629.46" y="500.9375" transform="rotate(-0 629.46 500.9375)">23</text></g><g id="t119" transform="translate(654.191 494.875) scale(1 0.938) translate(-654.175 -495.306)"><text style="font-weight: 700; font-size: 16px; font-family: 'DejaVu Sans', sans-serif; text-anchor: middle" x="653.76" y="500.9375" transform="rotate(-0 653.76 500.9375)">24</text></g><g id="t120" transform="translate(52.762 485.528) scale(1 0.95) translate(-52.896 -485.183)"><text style="font-weight: 700; font-size: 16px; font-family: 'DejaVu Sans', sans-serif; text-anchor: end" x="67.06" y="491.35875" transform="rotate(-0 67.06 491.35875)">0.0</text></g><g id="t121" transform="translate(51.609 475.69) scale(1 0.944) translate(-51.719 -476.09)"><text style="font-weight: 700; font-size: 16px; font-family: 'DejaVu Sans', sans-serif; text-anchor: end" x="67.06" y="481.35075" transform="rotate(-0 67.06 481.35075)">0.1</text></g><g id="t122" transform="translate(52.114 465.499) scale(1 0.944) translate(-52.354 -465.91)"><text style="font-weight: 700; font-size: 16px; font-family: 'DejaVu Sans', sans-serif; text-anchor: end" x="67.06" y="471.34275" transform="rotate(-0 67.06 471.34275)">0.2</text></g><g id="t123" transform="translate(52.299 455.332) scale(1 0.946) translate(-52.509 -455.694)"><text style="font-weight: 700; font-size: 16px; font-family: 'DejaVu Sans', sans-serif; text-anchor: end" x="67.06" y="461.33475" transform="rotate(-0 67.06 461.33475)">0.3</text></g><g id="t124" transform="translate(52.535 445.312) scale(1 0.946) translate(-52.73 -445.722)"><text style="font-weight: 700; font-size: 16px; font-family: 'DejaVu Sans', sans-serif; text-anchor: end" x="67.06" y="451.32675" transform="rotate(-0 67.06 451.32675)">0.4</text></g><g id="t125" transform="translate(52.28 435.101) scale(1 0.942) translate(-52.617 -435.412)"><text style="font-weight: 700; font-size: 16px; font-family: 'DejaVu Sans', sans-serif; text-anchor: end" x="67.06" y="441.31875" transform="rotate(-0 67.06 441.31875)">0.5</text></g><g id="t126" transform="translate(52.73 425.843) scale(1 0.95) translate(-52.774 -425.464)"><text style="font-weight: 700; font-size: 16px; font-family: 'DejaVu Sans', sans-serif; text-anchor: end" x="67.06" y="431.31075" transform="rotate(-0 67.06 431.31075)">0.6</text></g><g id="t127" transform="translate(51.364 415.281) scale(1 0.945) translate(-51.573 -414.863)"><text style="font-weight: 700; font-size: 16px; font-family: 'DejaVu Sans', sans-serif; text-anchor: end" x="67.06" y="421.30275" transform="rotate(-0 67.06 421.30275)">0.7</text></g><g id="t128" transform="translate(53.04 405.604) scale(1 0.946) translate(-53.15 -405.249)"><text style="font-weight: 700; font-size: 16px; font-family: 'DejaVu Sans', sans-serif; text-anchor: end" x="67.06" y="411.29475" transform="rotate(-0 67.06 411.29475)">0.8</text></g><g id="t129" transform="translate(52.785 395.45) scale(1 0.945) translate(-52.825 -395.104)"><text style="font-weight: 700; font-size: 16px; font-family: 'DejaVu Sans', sans-serif; text-anchor: end" x="67.06" y="401.28675" transform="rotate(-0 67.06 401.28675)">0.9</text></g><g id="t130" transform="translate(23.608 436.639) scale(0.93 1) translate(-25.38 -435.947)"><g transform="translate(29.7575 456.84) rotate(-90)"><text><tspan x="0" y="-0.328125" style="font-style: oblique; font-weight: 700; font-size: 16px; font-family: 'DejaVu Sans', sans-serif">σ</tspan><tspan x="21.817969" y="-0.328125" style="font-style: oblique; font-weight: 700; font-size: 16px; font-family: 'DejaVu Sans', sans-serif">L</tspan><tspan x="12.460938" y="2.296875" style="font-style: oblique; font-weight: 700; font-size: 11.2px; font-family: 'DejaVu Sans', sans-serif">ϕ</tspan><tspan x="32.013281" y="-0.328125" style="font-weight: 700; font-size: 16px; font-family: 'DejaVu Sans', sans-serif">1</tspan></text></g></g><g id="t131" transform="translate(735.791 471.13) scale(1 1.002) translate(-735.58 -471.158)"><text style="font-weight: 700; font-size: 14px; font-family: 'DejaVu Sans', sans-serif; text-anchor: start" x="730.7" y="475.73439" transform="rotate(-0 730.7 475.73439)">2</text></g><g id="t132" transform="translate(736.746 441.625) scale(1 1) translate(-735.769 -440.929)"><text style="font-weight: 700; font-size: 14px; font-family: 'DejaVu Sans', sans-serif; text-anchor: start" x="730.7" y="446.005358" transform="rotate(-0 730.7 446.005358)">4</text></g><g id="t133" transform="translate(735.668 411.194) scale(1 1.014) translate(-735.467 -411.161)"><text style="font-weight: 700; font-size: 14px; font-family: 'DejaVu Sans', sans-serif; text-anchor: start" x="730.7" y="416.276326" transform="rotate(-0 730.7 416.276326)">6</text></g><g id="t134" transform="translate(735.707 381.582) scale(1 1.006) translate(-735.486 -381.583)"><text style="font-weight: 700; font-size: 14px; font-family: 'DejaVu Sans', sans-serif; text-anchor: start" x="730.7" y="386.547293" transform="rotate(-0 730.7 386.547293)">8</text></g><g id="t135" transform="translate(740.877 352.288) scale(1 1.005) translate(-741.198 -352.28)"><text style="font-weight: 700; font-size: 14px; font-family: 'DejaVu Sans', sans-serif; text-anchor: start" x="730.7" y="356.818261" transform="rotate(-0 730.7 356.818261)">10</text></g><g id="t136" transform="translate(740.582 322.201) scale(1 1.001) translate(-740.908 -322.21)"><text style="font-weight: 700; font-size: 14px; font-family: 'DejaVu Sans', sans-serif; text-anchor: start" x="730.7" y="327.089229" transform="rotate(-0 730.7 327.089229)">12</text></g><g id="t137" transform="translate(740.939 292.683) scale(1 1) translate(-741.19 -292.69)"><text style="font-weight: 700; font-size: 14px; font-family: 'DejaVu Sans', sans-serif; text-anchor: start" x="730.7" y="297.360197" transform="rotate(-0 730.7 297.360197)">14</text></g><g id="t138" transform="translate(740.972 263.047) scale(1 1.005) translate(-741.194 -263.024)"><text style="font-weight: 700; font-size: 14px; font-family: 'DejaVu Sans', sans-serif; text-anchor: start" x="730.7" y="267.631164" transform="rotate(-0 730.7 267.631164)">16</text></g><g id="t139" transform="translate(741.122 233.466) scale(1 1.002) translate(-741.347 -232.743)"><text style="font-weight: 700; font-size: 14px; font-family: 'DejaVu Sans', sans-serif; text-anchor: start" x="730.7" y="237.902132" transform="rotate(-0 730.7 237.902132)">18</text></g><g id="t140" transform="translate(740.64 203.155) scale(1 1.005) translate(-740.828 -203.168)"><text style="font-weight: 700; font-size: 14px; font-family: 'DejaVu Sans', sans-serif; text-anchor: start" x="730.7" y="208.1731" transform="rotate(-0 730.7 208.1731)">20</text></g><g id="t141" transform="translate(740.337 173.77) scale(1 1.002) translate(-740.531 -173.8)"><text style="font-weight: 700; font-size: 14px; font-family: 'DejaVu Sans', sans-serif; text-anchor: start" x="730.7" y="178.444068" transform="rotate(-0 730.7 178.444068)">22</text></g><g id="t142" transform="translate(740.688 144.258) scale(1 1) translate(-740.807 -144.284)"><text style="font-weight: 700; font-size: 14px; font-family: 'DejaVu Sans', sans-serif; text-anchor: start" x="730.7" y="148.715035" transform="rotate(-0 730.7 148.715035)">24</text></g><g id="t143" transform="translate(740.733 113.914) scale(1 1.004) translate(-740.825 -113.911)"><text style="font-weight: 700; font-size: 14px; font-family: 'DejaVu Sans', sans-serif; text-anchor: start" x="730.7" y="118.986003" transform="rotate(-0 730.7 118.986003)">26</text></g><g id="t144" transform="translate(740.883 84.338) scale(1 1.002) translate(-740.98 -84.355)"><text style="font-weight: 700; font-size: 14px; font-family: 'DejaVu Sans', sans-serif; text-anchor: start" x="730.7" y="89.256971" transform="rotate(-0 730.7 89.256971)">28</text></g><g id="t145" transform="translate(740.661 54.736) scale(1 1.01) translate(-740.963 -54.737)"><text style="font-weight: 700; font-size: 14px; font-family: 'DejaVu Sans', sans-serif; text-anchor: start" x="730.7" y="59.527939" transform="rotate(-0 730.7 59.527939)">30</text></g><g id="t146" transform="translate(740.374 25.34) scale(1 1.006) translate(-740.677 -24.64)"><text style="font-weight: 700; font-size: 14px; font-family: 'DejaVu Sans', sans-serif; text-anchor: start" x="730.7" y="29.798906" transform="rotate(-0 730.7 29.798906)">32</text></g><g id="t147" transform="translate(760.786 257.718) scale(0.935 1.002) translate(-759.681 -256.093)"><text style="font-weight: 700; font-size: 16px; font-family: 'DejaVu Sans', sans-serif; text-anchor: middle" x="766.339375" y="254.88" transform="rotate(-90 766.339375 254.88)">PRN#</text></g></g>
</svg></body></html>
